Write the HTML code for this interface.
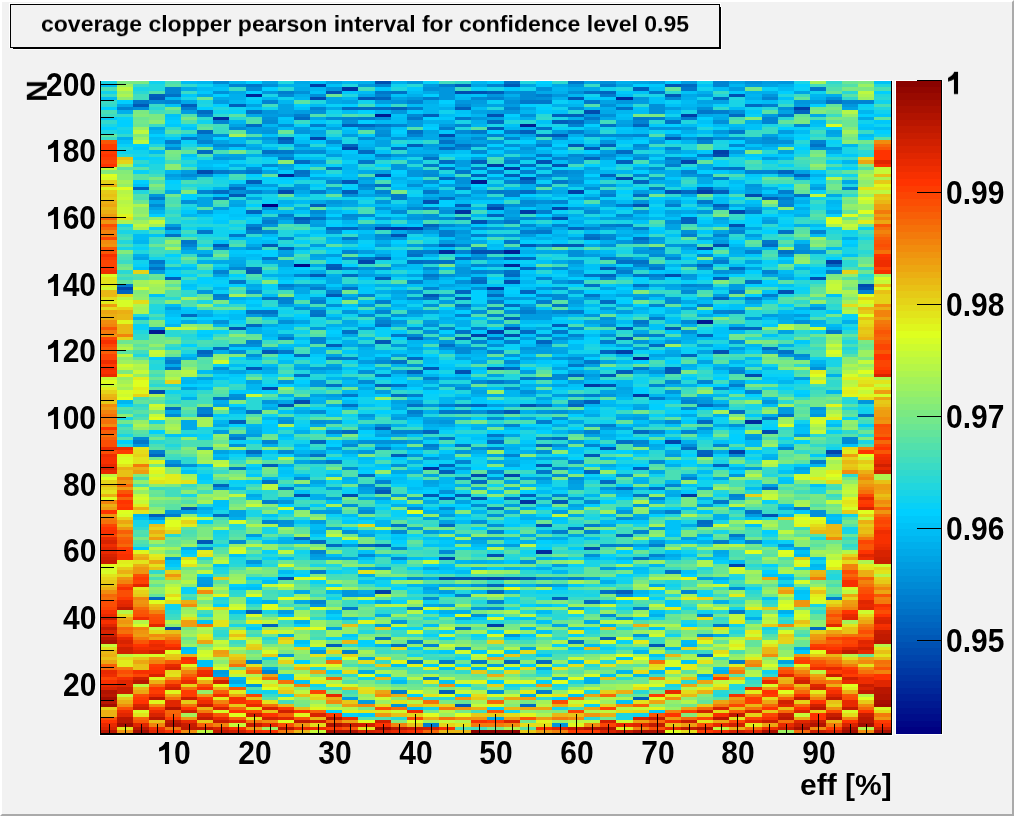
<!DOCTYPE html>
<html><head><meta charset="utf-8">
<style>
html,body{margin:0;padding:0;}
body{-webkit-font-smoothing:antialiased;width:1014px;height:816px;overflow:hidden;position:relative;background:#f2f2f2;font-family:"Liberation Sans",sans-serif;font-weight:bold;color:#000;}
#frame{position:absolute;left:0;top:0;width:1014px;height:816px;box-sizing:border-box;border-top:2px solid #fff;border-left:2px solid #fff;border-right:2px solid #aaa;border-bottom:2px solid #aaa;}
svg{position:absolute;left:0;top:0;}
.yl,.xl,.zl,#title,#xtitle,#ntitle{will-change:transform;text-shadow:0 0 1px #fff,0 0 1px #fff;}
.yl,.xl,.zl{position:absolute;height:30px;line-height:30px;font-size:30px;white-space:nowrap;transform:scaleY(1.085);transform-origin:50% 14.25px;}
.yl{right:918px;}
.xl{top:738px;width:100px;text-align:center;}
.zl{left:946px;}
.one{display:inline-block;position:relative;width:16.68px;height:1px;}
.one svg{position:absolute;left:0;top:auto;bottom:0;overflow:visible;}
#title{position:absolute;left:41px;top:6px;font-size:23px;line-height:38px;white-space:nowrap;transform:scaleY(0.92);transform-origin:0 9px;}
#ntitle{position:absolute;left:25.5px;top:75.8px;font-size:30px;line-height:30px;transform:rotate(-90deg);transform-origin:50% 50%;}
#xtitle{position:absolute;right:122px;top:770px;font-size:30px;line-height:30px;white-space:nowrap;}
</style></head><body>
<div id="frame"></div>
<svg width="1014" height="816" viewBox="0 0 1014 816" shape-rendering="crispEdges">
<path d="M9 3h712v46h-1v-45h-710v44h-1z M11 5h708v1h-707v41h-1z M13 49h709v1h-709z M721 7h1v43h-1z" fill="#fff"/>
<rect x="10.5" y="4.5" width="709" height="43" fill="#f2f2f2" stroke="#000" stroke-width="1"/>
<path d="M720 7h1v42h-708v-1h707z" fill="#000"/>
<path fill="#19d4e6" d="M101 81h16v3h-16zM101 124h16v3h-16zM117 127h16v3h-16zM117 224h16v3h-16zM117 230h16v4h-16zM117 247h16v3h-16zM117 417h16v3h-16zM117 434h16v3h-16zM133 87h16v4h-16zM133 154h16v3h-16zM133 230h16v4h-16zM133 244h16v3h-16zM133 520h16v7h-16zM149 310h16v4h-16zM149 420h16v4h-16zM165 567h16v3h-16zM181 97h16v3h-16zM181 144h16v3h-16zM181 220h16v4h-16zM181 234h16v3h-16zM181 317h16v3h-16zM181 390h16v4h-16zM181 494h16v3h-16zM197 100h16v4h-16zM197 194h16v3h-16zM197 217h16v3h-16zM197 234h16v3h-16zM197 244h16v3h-16zM197 270h16v4h-16zM197 300h16v4h-16zM197 347h16v3h-16zM197 427h16v3h-16zM197 470h16v4h-16zM213 180h16v4h-16zM213 384h16v3h-16zM213 417h16v3h-16zM213 427h16v3h-16zM213 510h16v4h-16zM213 534h16v3h-16zM213 567h16v3h-16zM213 597h16v3h-16zM229 167h17v3h-17zM229 277h17v3h-17zM229 367h17v3h-17zM229 417h17v3h-17zM229 457h17v3h-17zM229 557h17v3h-17zM229 624h17v3h-17zM246 157h16v7h-16zM246 280h16v4h-16zM246 360h16v4h-16zM246 470h16v4h-16zM246 490h16v4h-16zM246 510h16v7h-16zM246 624h16v3h-16zM246 690h16v4h-16zM262 94h16v3h-16zM262 194h16v3h-16zM262 270h16v4h-16zM262 277h16v3h-16zM262 380h16v4h-16zM262 454h16v3h-16zM262 517h16v3h-16zM262 527h16v7h-16zM262 610h16v4h-16zM278 244h16v3h-16zM278 307h16v3h-16zM278 330h16v4h-16zM278 374h16v3h-16zM278 397h16v3h-16zM278 440h16v4h-16zM278 477h16v3h-16zM278 694h16v3h-16zM294 260h16v4h-16zM294 497h16v3h-16zM310 180h16v4h-16zM310 194h16v6h-16zM310 227h16v3h-16zM310 267h16v3h-16zM310 320h16v4h-16zM310 430h16v4h-16zM310 537h16v3h-16zM310 564h16v3h-16zM326 157h16v3h-16zM326 197h16v3h-16zM326 234h16v3h-16zM326 427h16v3h-16zM326 537h16v3h-16zM342 140h16v4h-16zM342 327h16v3h-16zM342 337h16v3h-16zM342 570h16v4h-16zM358 167h17v3h-17zM358 200h17v4h-17zM358 280h17v4h-17zM358 447h17v3h-17zM358 464h17v3h-17zM358 617h17v3h-17zM375 147h16v3h-16zM375 260h16v4h-16zM375 294h16v3h-16zM375 414h16v3h-16zM375 534h16v3h-16zM391 200h16v4h-16zM391 517h16v3h-16zM391 554h16v3h-16zM391 584h16v3h-16zM407 140h16v4h-16zM407 157h16v3h-16zM407 234h16v3h-16zM407 477h16v3h-16zM407 654h16v3h-16zM423 237h16v3h-16zM423 300h16v4h-16zM423 317h16v3h-16zM423 327h16v3h-16zM423 617h16v3h-16zM423 707h16v3h-16zM439 214h16v3h-16zM439 370h16v4h-16zM439 394h16v3h-16zM439 547h16v3h-16zM455 120h16v4h-16zM455 620h16v4h-16zM471 164h16v3h-16zM471 517h16v3h-16zM471 637h16v3h-16zM487 87h17v4h-17zM487 124h17v3h-17zM487 180h17v4h-17zM487 217h17v3h-17zM487 224h17v3h-17zM487 267h17v3h-17zM487 280h17v4h-17zM487 364h17v3h-17zM487 520h17v4h-17zM487 614h17v3h-17zM504 254h16v3h-16zM504 337h16v3h-16zM504 397h16v3h-16zM504 600h16v4h-16zM504 607h16v3h-16zM504 710h16v3h-16zM520 497h16v3h-16zM520 524h16v3h-16zM520 554h16v3h-16zM520 590h16v4h-16zM536 164h16v3h-16zM536 280h16v4h-16zM536 454h16v3h-16zM536 570h16v4h-16zM536 597h16v3h-16zM536 670h16v4h-16zM552 117h16v3h-16zM552 124h16v3h-16zM552 254h16v3h-16zM552 290h16v4h-16zM552 480h16v7h-16zM552 507h16v3h-16zM552 664h16v3h-16zM552 684h16v3h-16zM552 707h16v3h-16zM568 210h16v4h-16zM568 230h16v4h-16zM568 257h16v3h-16zM568 537h16v7h-16zM568 590h16v4h-16zM568 614h16v3h-16zM568 680h16v4h-16zM584 257h16v3h-16zM584 344h16v3h-16zM584 420h16v4h-16zM584 517h16v3h-16zM584 560h16v7h-16zM584 594h16v3h-16zM584 607h16v3h-16zM584 690h16v4h-16zM600 127h16v3h-16zM600 230h16v4h-16zM600 270h16v4h-16zM600 354h16v3h-16zM600 407h16v3h-16zM600 474h16v3h-16zM616 164h17v3h-17zM616 180h17v4h-17zM616 220h17v4h-17zM616 250h17v4h-17zM616 400h17v4h-17zM616 460h17v4h-17zM616 470h17v4h-17zM616 577h17v3h-17zM616 713h17v7h-17zM633 460h16v4h-16zM633 524h16v3h-16zM633 574h16v3h-16zM649 94h16v3h-16zM649 150h16v4h-16zM649 337h16v3h-16zM649 617h16v3h-16zM649 657h16v3h-16zM665 230h16v4h-16zM665 237h16v3h-16zM665 260h16v4h-16zM665 280h16v4h-16zM665 314h16v3h-16zM665 364h16v3h-16zM665 610h16v4h-16zM665 684h16v3h-16zM681 110h16v4h-16zM681 487h16v3h-16zM681 520h16v4h-16zM681 607h16v3h-16zM681 620h16v4h-16zM697 134h16v3h-16zM697 280h16v4h-16zM697 327h16v3h-16zM697 354h16v3h-16zM713 140h16v4h-16zM713 147h16v3h-16zM713 460h16v4h-16zM713 480h16v4h-16zM713 504h16v3h-16zM713 520h16v4h-16zM713 530h16v4h-16zM729 100h16v7h-16zM729 164h16v3h-16zM729 260h16v4h-16zM729 397h16v3h-16zM729 577h16v3h-16zM745 180h17v4h-17zM745 274h17v3h-17zM745 360h17v4h-17zM745 397h17v3h-17zM745 404h17v6h-17zM745 480h17v4h-17zM745 610h17v7h-17zM745 677h17v3h-17zM762 124h16v3h-16zM762 184h16v3h-16zM762 387h16v3h-16zM762 450h16v4h-16zM762 517h16v3h-16zM762 544h16v3h-16zM778 100h16v4h-16zM778 187h16v3h-16zM778 227h16v3h-16zM778 384h16v3h-16zM778 580h16v4h-16zM794 81h16v3h-16zM794 274h16v3h-16zM794 284h16v3h-16zM794 587h16v3h-16zM810 127h16v3h-16zM810 310h16v7h-16zM810 487h16v3h-16zM810 537h16v3h-16zM810 604h16v3h-16zM826 197h16v3h-16zM826 360h16v7h-16zM842 147h16v7h-16zM842 234h16v3h-16zM842 247h16v7h-16zM842 530h16v4h-16zM858 237h16v3h-16zM858 440h16v4h-16z"/><path fill="#00bcf4" d="M101 84h16v3h-16zM101 97h16v3h-16zM133 234h16v6h-16zM149 137h16v3h-16zM149 150h16v4h-16zM165 304h16v3h-16zM165 310h16v4h-16zM181 81h16v3h-16zM181 267h16v3h-16zM181 354h16v3h-16zM181 377h16v3h-16zM181 647h16v3h-16zM197 87h16v4h-16zM197 160h16v4h-16zM197 320h16v4h-16zM197 370h16v4h-16zM197 387h16v3h-16zM197 464h16v3h-16zM213 160h16v4h-16zM213 167h16v3h-16zM213 267h16v3h-16zM213 454h16v3h-16zM229 237h17v3h-17zM229 314h17v6h-17zM229 364h17v3h-17zM229 610h17v4h-17zM246 214h16v3h-16zM246 254h16v3h-16zM246 297h16v3h-16zM246 564h16v3h-16zM246 587h16v3h-16zM262 147h16v3h-16zM262 210h16v4h-16zM262 234h16v3h-16zM262 240h16v4h-16zM262 294h16v3h-16zM262 330h16v4h-16zM262 364h16v3h-16zM262 540h16v4h-16zM262 580h16v4h-16zM278 127h16v3h-16zM278 204h16v3h-16zM278 267h16v3h-16zM278 324h16v6h-16zM278 360h16v4h-16zM278 434h16v3h-16zM278 557h16v3h-16zM278 570h16v4h-16zM278 614h16v3h-16zM278 674h16v6h-16zM294 140h16v4h-16zM294 157h16v3h-16zM294 194h16v3h-16zM294 200h16v4h-16zM294 337h16v3h-16zM294 344h16v3h-16zM294 474h16v3h-16zM310 104h16v3h-16zM310 157h16v3h-16zM310 164h16v3h-16zM310 277h16v3h-16zM310 524h16v6h-16zM326 124h16v3h-16zM326 137h16v3h-16zM326 240h16v4h-16zM326 434h16v3h-16zM326 554h16v3h-16zM342 110h16v4h-16zM342 130h16v4h-16zM342 154h16v6h-16zM342 170h16v4h-16zM342 177h16v3h-16zM342 380h16v4h-16zM342 400h16v4h-16zM342 514h16v3h-16zM358 91h17v3h-17zM358 140h17v4h-17zM358 157h17v3h-17zM358 204h17v3h-17zM358 300h17v4h-17zM358 310h17v4h-17zM358 384h17v3h-17zM358 457h17v3h-17zM358 517h17v3h-17zM375 120h16v4h-16zM375 204h16v3h-16zM375 210h16v4h-16zM375 477h16v3h-16zM375 577h16v3h-16zM391 117h16v7h-16zM391 157h16v3h-16zM391 180h16v4h-16zM391 187h16v3h-16zM391 204h16v3h-16zM391 257h16v3h-16zM391 267h16v3h-16zM391 374h16v3h-16zM391 387h16v3h-16zM391 477h16v3h-16zM391 664h16v3h-16zM391 680h16v4h-16zM407 91h16v3h-16zM407 104h16v3h-16zM407 187h16v3h-16zM407 264h16v6h-16zM407 300h16v4h-16zM407 344h16v3h-16zM407 380h16v4h-16zM407 417h16v3h-16zM407 487h16v3h-16zM407 504h16v3h-16zM407 514h16v3h-16zM407 557h16v3h-16zM407 707h16v3h-16zM423 234h16v3h-16zM423 284h16v3h-16zM423 347h16v3h-16zM423 360h16v4h-16zM423 624h16v3h-16zM439 114h16v3h-16zM439 267h16v3h-16zM439 350h16v4h-16zM439 487h16v3h-16zM439 537h16v3h-16zM439 567h16v3h-16zM439 667h16v3h-16zM455 94h16v3h-16zM455 200h16v4h-16zM455 260h16v4h-16zM455 287h16v3h-16zM455 354h16v3h-16zM455 374h16v3h-16zM455 520h16v4h-16zM455 570h16v4h-16zM471 107h16v3h-16zM471 187h16v3h-16zM471 274h16v3h-16zM471 284h16v3h-16zM471 357h16v3h-16zM471 367h16v3h-16zM471 544h16v3h-16zM487 244h17v3h-17zM487 260h17v4h-17zM487 340h17v4h-17zM487 387h17v3h-17zM487 490h17v4h-17zM504 177h16v3h-16zM504 187h16v3h-16zM504 427h16v3h-16zM504 450h16v4h-16zM504 457h16v3h-16zM520 154h16v3h-16zM520 237h16v3h-16zM520 247h16v3h-16zM520 274h16v3h-16zM520 287h16v3h-16zM520 320h16v4h-16zM520 344h16v3h-16zM520 360h16v4h-16zM520 387h16v3h-16zM520 567h16v3h-16zM536 197h16v3h-16zM536 297h16v3h-16zM536 320h16v4h-16zM536 400h16v4h-16zM536 490h16v4h-16zM536 610h16v4h-16zM552 160h16v4h-16zM552 230h16v4h-16zM552 237h16v3h-16zM552 277h16v3h-16zM552 487h16v3h-16zM568 140h16v4h-16zM568 217h16v3h-16zM568 224h16v3h-16zM568 307h16v3h-16zM568 344h16v6h-16zM568 660h16v4h-16zM584 204h16v3h-16zM584 230h16v4h-16zM584 304h16v3h-16zM584 334h16v3h-16zM584 380h16v4h-16zM584 410h16v4h-16zM584 477h16v3h-16zM584 537h16v3h-16zM584 644h16v3h-16zM600 250h16v4h-16zM600 297h16v3h-16zM600 400h16v4h-16zM600 430h16v4h-16zM600 444h16v3h-16zM600 467h16v3h-16zM600 514h16v3h-16zM600 520h16v4h-16zM616 94h17v3h-17zM616 117h17v3h-17zM616 184h17v3h-17zM616 200h17v4h-17zM616 284h17v3h-17zM616 320h17v4h-17zM616 360h17v4h-17zM616 397h17v3h-17zM616 404h17v3h-17zM633 110h16v4h-16zM633 130h16v4h-16zM633 214h16v3h-16zM633 310h16v4h-16zM633 450h16v4h-16zM633 567h16v3h-16zM649 87h16v4h-16zM649 147h16v3h-16zM649 374h16v3h-16zM649 434h16v3h-16zM649 670h16v4h-16zM665 110h16v4h-16zM665 307h16v3h-16zM665 320h16v4h-16zM665 347h16v3h-16zM665 394h16v3h-16zM665 414h16v3h-16zM665 540h16v4h-16zM681 100h16v4h-16zM681 124h16v3h-16zM681 250h16v4h-16zM681 507h16v3h-16zM681 540h16v4h-16zM681 640h16v4h-16zM697 130h16v4h-16zM697 157h16v3h-16zM697 300h16v4h-16zM697 337h16v3h-16zM697 470h16v4h-16zM713 87h16v4h-16zM713 124h16v3h-16zM713 197h16v7h-16zM713 274h16v3h-16zM713 287h16v3h-16zM713 337h16v3h-16zM713 407h16v3h-16zM713 667h16v3h-16zM729 107h16v3h-16zM729 124h16v3h-16zM729 154h16v3h-16zM729 180h16v4h-16zM729 244h16v3h-16zM729 264h16v3h-16zM729 330h16v4h-16zM729 427h16v3h-16zM729 540h16v4h-16zM729 560h16v4h-16zM745 304h17v3h-17zM745 357h17v3h-17zM745 364h17v3h-17zM745 370h17v4h-17zM745 440h17v7h-17zM745 487h17v3h-17zM762 100h16v4h-16zM762 147h16v3h-16zM762 207h16v3h-16zM762 317h16v3h-16zM762 404h16v3h-16zM778 87h16v4h-16zM778 260h16v4h-16zM778 270h16v4h-16zM778 310h16v4h-16zM778 504h16v3h-16zM778 547h16v3h-16zM778 584h16v3h-16zM794 130h16v4h-16zM794 197h16v3h-16zM794 210h16v4h-16zM794 317h16v3h-16zM794 424h16v3h-16zM810 120h16v4h-16zM810 224h16v3h-16zM810 234h16v3h-16zM810 557h16v3h-16zM810 567h16v3h-16zM826 204h16v3h-16zM826 247h16v3h-16zM826 267h16v3h-16zM826 324h16v3h-16zM826 424h16v3h-16zM826 514h16v3h-16zM858 134h16v3h-16zM874 127h17v3h-17z"/><path fill="#4adfb4" d="M101 87h16v4h-16zM101 110h16v4h-16zM117 237h16v3h-16zM117 244h16v3h-16zM117 257h16v3h-16zM133 197h16v3h-16zM133 277h16v3h-16zM133 397h16v3h-16zM133 434h16v3h-16zM133 477h16v3h-16zM133 484h16v3h-16zM133 534h16v3h-16zM149 230h16v4h-16zM149 300h16v4h-16zM149 314h16v3h-16zM149 444h16v3h-16zM149 577h16v3h-16zM165 81h16v3h-16zM165 197h16v7h-16zM181 180h16v4h-16zM181 260h16v4h-16zM181 300h16v4h-16zM181 440h16v7h-16zM181 530h16v4h-16zM197 340h16v4h-16zM197 394h16v3h-16zM197 440h16v7h-16zM213 150h16v4h-16zM213 250h16v4h-16zM213 394h16v3h-16zM213 574h16v3h-16zM229 174h17v3h-17zM229 270h17v4h-17zM229 530h17v4h-17zM246 117h16v3h-16zM246 507h16v3h-16zM262 594h16v6h-16zM278 364h16v3h-16zM278 370h16v4h-16zM278 480h16v4h-16zM278 554h16v3h-16zM278 624h16v3h-16zM294 254h16v3h-16zM294 347h16v3h-16zM310 260h16v4h-16zM310 304h16v3h-16zM310 437h16v3h-16zM310 587h16v3h-16zM310 610h16v4h-16zM310 630h16v4h-16zM326 360h16v4h-16zM326 577h16v3h-16zM342 437h16v3h-16zM342 574h16v6h-16zM342 664h16v3h-16zM358 207h17v7h-17zM358 220h17v4h-17zM358 477h17v3h-17zM358 627h17v3h-17zM375 180h16v4h-16zM375 304h16v3h-16zM375 364h16v3h-16zM375 450h16v4h-16zM375 460h16v4h-16zM375 484h16v3h-16zM375 647h16v3h-16zM375 667h16v3h-16zM375 680h16v4h-16zM391 357h16v3h-16zM391 487h16v3h-16zM391 567h16v7h-16zM391 617h16v3h-16zM407 360h16v4h-16zM407 544h16v3h-16zM407 554h16v3h-16zM407 564h16v3h-16zM407 614h16v3h-16zM407 620h16v4h-16zM407 670h16v4h-16zM423 220h16v4h-16zM423 307h16v3h-16zM423 344h16v3h-16zM423 547h16v3h-16zM423 574h16v3h-16zM439 270h16v4h-16zM439 440h16v4h-16zM439 474h16v3h-16zM455 480h16v4h-16zM455 727h16v3h-16zM471 374h16v3h-16zM471 444h16v3h-16zM471 530h16v4h-16zM471 557h16v3h-16zM471 574h16v3h-16zM471 597h16v3h-16zM471 687h16v3h-16zM487 157h17v3h-17zM487 237h17v3h-17zM487 324h17v3h-17zM487 504h17v3h-17zM487 647h17v3h-17zM504 477h16v3h-16zM504 514h16v3h-16zM504 527h16v3h-16zM504 657h16v3h-16zM520 407h16v3h-16zM520 420h16v4h-16zM520 597h16v3h-16zM520 674h16v3h-16zM536 380h16v4h-16zM536 637h16v3h-16zM552 547h16v3h-16zM552 634h16v3h-16zM552 654h16v3h-16zM568 324h16v3h-16zM568 490h16v4h-16zM568 617h16v3h-16zM584 437h16v3h-16zM600 507h16v3h-16zM616 540h17v4h-17zM633 160h16v4h-16zM633 317h16v3h-16zM633 534h16v3h-16zM649 360h16v4h-16zM649 517h16v3h-16zM649 600h16v4h-16zM665 470h16v10h-16zM665 487h16v3h-16zM665 504h16v3h-16zM665 537h16v3h-16zM681 314h16v3h-16zM681 580h16v7h-16zM681 610h16v4h-16zM697 290h16v4h-16zM713 397h16v3h-16zM713 430h16v4h-16zM729 117h16v3h-16zM729 174h16v3h-16zM729 194h16v3h-16zM729 277h16v3h-16zM729 354h16v3h-16zM729 420h16v4h-16zM729 480h16v7h-16zM729 550h16v7h-16zM729 580h16v4h-16zM729 650h16v4h-16zM745 197h17v3h-17zM745 287h17v3h-17zM745 387h17v3h-17zM745 507h17v3h-17zM745 530h17v4h-17zM745 597h17v3h-17zM745 684h17v3h-17zM762 180h16v4h-16zM762 287h16v3h-16zM762 304h16v6h-16zM762 344h16v3h-16zM762 504h16v3h-16zM778 180h16v4h-16zM778 234h16v3h-16zM778 434h16v3h-16zM778 474h16v3h-16zM778 487h16v3h-16zM778 557h16v3h-16zM794 237h16v3h-16zM794 370h16v4h-16zM794 404h16v3h-16zM794 484h16v3h-16zM794 577h16v3h-16zM810 117h16v3h-16zM810 217h16v3h-16zM810 284h16v3h-16zM810 350h16v7h-16zM810 384h16v3h-16zM810 394h16v3h-16zM810 450h16v4h-16zM810 457h16v3h-16zM826 367h16v3h-16zM826 427h16v3h-16zM826 434h16v3h-16zM826 484h16v3h-16zM826 497h16v3h-16zM826 584h16v3h-16zM826 594h16v3h-16zM842 177h16v3h-16zM842 267h16v3h-16zM842 344h16v3h-16zM858 147h16v3h-16zM858 230h16v4h-16zM858 444h16v3h-16zM874 87h17v4h-17zM874 104h17v3h-17z"/><path fill="#10d2ee" d="M101 91h16v3h-16zM117 130h16v4h-16zM117 150h16v4h-16zM133 150h16v4h-16zM133 164h16v3h-16zM133 260h16v4h-16zM149 81h16v3h-16zM149 160h16v4h-16zM149 257h16v3h-16zM165 260h16v4h-16zM165 390h16v4h-16zM165 604h16v6h-16zM181 164h16v3h-16zM181 207h16v3h-16zM181 227h16v3h-16zM181 280h16v4h-16zM181 394h16v3h-16zM181 467h16v3h-16zM197 84h16v3h-16zM197 120h16v4h-16zM197 187h16v3h-16zM197 220h16v4h-16zM197 284h16v3h-16zM197 337h16v3h-16zM197 437h16v3h-16zM213 110h16v4h-16zM213 177h16v3h-16zM213 227h16v10h-16zM213 264h16v3h-16zM213 310h16v4h-16zM213 530h16v4h-16zM213 544h16v3h-16zM229 107h17v3h-17zM229 224h17v3h-17zM229 414h17v3h-17zM229 484h17v3h-17zM246 177h16v3h-16zM246 194h16v3h-16zM246 217h16v3h-16zM246 364h16v3h-16zM262 107h16v3h-16zM262 144h16v3h-16zM262 160h16v4h-16zM262 197h16v3h-16zM262 317h16v3h-16zM262 414h16v3h-16zM262 457h16v3h-16zM262 657h16v3h-16zM262 690h16v4h-16zM278 97h16v3h-16zM278 144h16v3h-16zM278 310h16v4h-16zM278 574h16v3h-16zM294 167h16v3h-16zM294 230h16v4h-16zM294 250h16v4h-16zM294 330h16v4h-16zM294 357h16v3h-16zM294 377h16v3h-16zM294 414h16v3h-16zM294 420h16v4h-16zM294 440h16v4h-16zM294 550h16v4h-16zM294 570h16v4h-16zM310 154h16v3h-16zM310 187h16v3h-16zM310 247h16v3h-16zM310 280h16v4h-16zM310 684h16v3h-16zM326 110h16v4h-16zM326 120h16v4h-16zM326 207h16v3h-16zM326 300h16v4h-16zM326 340h16v4h-16zM326 374h16v3h-16zM326 470h16v4h-16zM326 480h16v4h-16zM326 584h16v3h-16zM326 597h16v3h-16zM342 197h16v3h-16zM342 270h16v4h-16zM342 314h16v3h-16zM342 360h16v4h-16zM342 370h16v4h-16zM342 414h16v3h-16zM342 487h16v3h-16zM342 567h16v3h-16zM342 637h16v3h-16zM358 100h17v4h-17zM358 320h17v4h-17zM358 397h17v7h-17zM358 410h17v4h-17zM358 434h17v3h-17zM358 560h17v4h-17zM358 677h17v3h-17zM375 220h16v4h-16zM375 270h16v4h-16zM375 370h16v4h-16zM375 457h16v3h-16zM375 474h16v3h-16zM375 517h16v3h-16zM375 537h16v3h-16zM375 580h16v4h-16zM391 84h16v3h-16zM391 260h16v4h-16zM391 277h16v3h-16zM391 460h16v4h-16zM391 544h16v3h-16zM391 677h16v3h-16zM407 190h16v4h-16zM407 257h16v3h-16zM407 304h16v3h-16zM407 317h16v3h-16zM407 324h16v3h-16zM407 424h16v3h-16zM407 590h16v4h-16zM423 240h16v4h-16zM423 314h16v3h-16zM423 384h16v3h-16zM423 460h16v4h-16zM423 497h16v3h-16zM423 540h16v4h-16zM423 600h16v4h-16zM423 650h16v4h-16zM439 110h16v4h-16zM455 190h16v4h-16zM455 437h16v3h-16zM455 464h16v3h-16zM455 490h16v4h-16zM455 657h16v3h-16zM471 177h16v3h-16zM471 460h16v4h-16zM471 500h16v4h-16zM487 347h17v3h-17zM487 444h17v3h-17zM487 484h17v3h-17zM487 497h17v3h-17zM504 140h16v4h-16zM504 164h16v3h-16zM504 170h16v4h-16zM504 267h16v3h-16zM504 307h16v3h-16zM504 400h16v4h-16zM504 597h16v3h-16zM504 684h16v3h-16zM520 87h16v4h-16zM520 160h16v4h-16zM520 220h16v4h-16zM520 400h16v4h-16zM520 434h16v6h-16zM520 474h16v3h-16zM520 550h16v4h-16zM536 124h16v3h-16zM536 170h16v4h-16zM536 194h16v3h-16zM536 257h16v3h-16zM536 324h16v3h-16zM536 364h16v3h-16zM536 417h16v3h-16zM536 460h16v4h-16zM536 487h16v3h-16zM536 544h16v3h-16zM552 107h16v3h-16zM552 284h16v3h-16zM552 390h16v4h-16zM552 397h16v3h-16zM552 590h16v4h-16zM568 150h16v4h-16zM568 187h16v3h-16zM568 294h16v3h-16zM568 330h16v4h-16zM568 350h16v4h-16zM568 454h16v3h-16zM568 557h16v3h-16zM584 94h16v3h-16zM584 140h16v4h-16zM584 220h16v4h-16zM584 307h16v3h-16zM584 350h16v4h-16zM600 87h16v4h-16zM600 207h16v3h-16zM600 347h16v3h-16zM600 410h16v7h-16zM600 420h16v4h-16zM600 450h16v4h-16zM600 530h16v4h-16zM600 577h16v3h-16zM616 144h17v3h-17zM616 194h17v3h-17zM616 210h17v4h-17zM616 324h17v3h-17zM616 367h17v3h-17zM616 430h17v4h-17zM616 580h17v4h-17zM616 607h17v3h-17zM633 377h16v7h-16zM633 713h16v4h-16zM649 130h16v4h-16zM649 204h16v3h-16zM649 287h16v3h-16zM649 474h16v3h-16zM649 484h16v3h-16zM649 490h16v4h-16zM649 507h16v3h-16zM649 537h16v3h-16zM665 114h16v3h-16zM665 154h16v3h-16zM665 207h16v3h-16zM665 357h16v3h-16zM665 407h16v3h-16zM665 497h16v3h-16zM665 584h16v3h-16zM665 634h16v3h-16zM681 374h16v3h-16zM681 450h16v4h-16zM681 550h16v4h-16zM697 81h16v3h-16zM697 87h16v4h-16zM697 97h16v3h-16zM697 270h16v4h-16zM697 330h16v4h-16zM697 347h16v3h-16zM697 437h16v3h-16zM697 480h16v7h-16zM697 500h16v4h-16zM697 590h16v4h-16zM697 610h16v4h-16zM713 180h16v7h-16zM713 194h16v3h-16zM713 254h16v3h-16zM713 264h16v3h-16zM713 290h16v4h-16zM713 324h16v3h-16zM713 374h16v3h-16zM713 420h16v4h-16zM713 427h16v3h-16zM713 467h16v3h-16zM713 494h16v3h-16zM729 447h16v3h-16zM729 607h16v3h-16zM729 624h16v3h-16zM745 107h17v3h-17zM745 230h17v4h-17zM745 350h17v4h-17zM762 160h16v4h-16zM762 174h16v3h-16zM762 227h16v3h-16zM762 264h16v3h-16zM762 300h16v4h-16zM762 320h16v4h-16zM762 364h16v3h-16zM762 370h16v4h-16zM762 420h16v4h-16zM762 447h16v3h-16zM762 534h16v3h-16zM762 627h16v3h-16zM762 670h16v4h-16zM778 217h16v3h-16zM778 287h16v3h-16zM778 370h16v4h-16zM778 437h16v3h-16zM778 464h16v6h-16zM794 144h16v3h-16zM794 150h16v4h-16zM794 264h16v3h-16zM794 290h16v4h-16zM794 420h16v4h-16zM810 91h16v3h-16zM810 197h16v3h-16zM810 330h16v4h-16zM810 357h16v3h-16zM810 560h16v4h-16zM826 144h16v3h-16zM826 167h16v3h-16zM826 227h16v3h-16zM826 357h16v3h-16zM826 447h16v3h-16zM842 174h16v3h-16zM842 230h16v4h-16zM842 514h16v3h-16zM842 527h16v3h-16zM858 107h16v3h-16zM858 120h16v4h-16zM858 407h16v7h-16zM874 100h17v4h-17zM874 110h17v4h-17zM874 124h17v3h-17zM874 134h17v3h-17z"/><path fill="#3adbc5" d="M101 94h16v3h-16zM101 100h16v4h-16zM101 114h16v3h-16zM101 137h16v3h-16zM117 227h16v3h-16zM117 234h16v3h-16zM117 260h16v4h-16zM117 277h16v3h-16zM133 84h16v3h-16zM133 414h16v3h-16zM149 104h16v3h-16zM149 124h16v3h-16zM149 240h16v4h-16zM149 247h16v3h-16zM149 297h16v3h-16zM149 487h16v3h-16zM165 127h16v3h-16zM165 207h16v3h-16zM165 250h16v4h-16zM165 344h16v3h-16zM165 397h16v3h-16zM165 440h16v4h-16zM165 447h16v3h-16zM165 457h16v3h-16zM165 614h16v3h-16zM181 91h16v3h-16zM181 147h16v3h-16zM181 217h16v3h-16zM181 254h16v3h-16zM181 330h16v4h-16zM181 340h16v4h-16zM181 347h16v3h-16zM181 414h16v3h-16zM181 484h16v3h-16zM181 597h16v3h-16zM197 180h16v4h-16zM197 240h16v4h-16zM213 127h16v7h-16zM213 257h16v3h-16zM213 334h16v3h-16zM213 344h16v3h-16zM213 470h16v4h-16zM213 540h16v4h-16zM229 87h17v4h-17zM229 240h17v4h-17zM229 384h17v3h-17zM229 460h17v4h-17zM229 640h17v4h-17zM246 444h16v6h-16zM246 484h16v3h-16zM246 634h16v3h-16zM262 320h16v4h-16zM262 340h16v4h-16zM262 397h16v3h-16zM262 694h16v3h-16zM278 534h16v3h-16zM278 620h16v4h-16zM294 120h16v4h-16zM294 224h16v3h-16zM294 244h16v3h-16zM294 360h16v4h-16zM294 464h16v3h-16zM294 487h16v3h-16zM310 250h16v4h-16zM310 444h16v3h-16zM310 477h16v3h-16zM310 594h16v3h-16zM326 130h16v4h-16zM326 320h16v4h-16zM326 380h16v4h-16zM326 454h16v3h-16zM326 494h16v3h-16zM326 547h16v3h-16zM342 234h16v3h-16zM342 364h16v3h-16zM342 374h16v3h-16zM342 600h16v7h-16zM342 620h16v4h-16zM358 264h17v3h-17zM358 624h17v3h-17zM358 664h17v3h-17zM375 230h16v4h-16zM375 420h16v4h-16zM375 607h16v3h-16zM375 650h16v4h-16zM391 104h16v3h-16zM391 220h16v4h-16zM391 367h16v3h-16zM391 427h16v3h-16zM391 450h16v4h-16zM391 564h16v3h-16zM391 610h16v4h-16zM391 630h16v4h-16zM407 210h16v4h-16zM407 247h16v3h-16zM407 330h16v4h-16zM407 427h16v3h-16zM407 437h16v3h-16zM407 570h16v4h-16zM407 594h16v3h-16zM407 650h16v4h-16zM423 167h16v3h-16zM423 407h16v3h-16zM423 434h16v3h-16zM423 520h16v4h-16zM423 550h16v4h-16zM423 594h16v3h-16zM423 657h16v3h-16zM439 290h16v4h-16zM439 387h16v3h-16zM439 447h16v3h-16zM439 500h16v4h-16zM439 554h16v3h-16zM455 87h16v4h-16zM455 220h16v4h-16zM455 407h16v3h-16zM455 527h16v3h-16zM471 344h16v3h-16zM487 137h17v3h-17zM487 160h17v4h-17zM487 187h17v3h-17zM487 254h17v3h-17zM487 510h17v4h-17zM487 670h17v4h-17zM504 200h16v4h-16zM504 437h16v3h-16zM504 620h16v4h-16zM520 214h16v3h-16zM520 364h16v3h-16zM520 470h16v4h-16zM520 574h16v3h-16zM520 600h16v4h-16zM520 657h16v3h-16zM536 247h16v3h-16zM536 367h16v3h-16zM536 440h16v4h-16zM536 500h16v4h-16zM552 184h16v3h-16zM552 460h16v4h-16zM552 524h16v3h-16zM568 597h16v3h-16zM584 84h16v3h-16zM584 160h16v4h-16zM584 367h16v3h-16zM584 510h16v4h-16zM584 550h16v4h-16zM584 634h16v3h-16zM600 377h16v3h-16zM600 440h16v4h-16zM600 607h16v3h-16zM616 174h17v3h-17zM616 254h17v3h-17zM616 334h17v3h-17zM616 377h17v3h-17zM616 410h17v4h-17zM616 500h17v4h-17zM616 527h17v3h-17zM616 554h17v3h-17zM616 587h17v3h-17zM616 604h17v3h-17zM616 610h17v4h-17zM633 197h16v3h-16zM633 344h16v3h-16zM633 427h16v3h-16zM649 184h16v3h-16zM649 224h16v3h-16zM649 234h16v3h-16zM649 257h16v3h-16zM649 290h16v4h-16zM649 300h16v4h-16zM649 364h16v3h-16zM649 410h16v4h-16zM649 427h16v3h-16zM649 457h16v3h-16zM649 477h16v3h-16zM649 567h16v3h-16zM649 580h16v4h-16zM649 637h16v7h-16zM665 290h16v4h-16zM665 467h16v3h-16zM665 567h16v3h-16zM681 180h16v4h-16zM681 387h16v3h-16zM681 470h16v4h-16zM681 510h16v4h-16zM681 547h16v3h-16zM681 604h16v3h-16zM697 197h16v3h-16zM697 227h16v3h-16zM697 370h16v4h-16zM697 377h16v3h-16zM697 517h16v3h-16zM697 544h16v3h-16zM697 550h16v4h-16zM697 570h16v4h-16zM697 650h16v4h-16zM713 91h16v3h-16zM713 157h16v3h-16zM713 300h16v4h-16zM713 587h16v3h-16zM713 594h16v3h-16zM729 214h16v3h-16zM729 257h16v3h-16zM729 314h16v3h-16zM729 357h16v3h-16zM729 404h16v3h-16zM745 130h17v7h-17zM745 164h17v3h-17zM745 410h17v4h-17zM745 417h17v3h-17zM745 424h17v3h-17zM745 527h17v3h-17zM745 557h17v3h-17zM745 567h17v3h-17zM745 584h17v3h-17zM745 594h17v3h-17zM745 680h17v4h-17zM762 127h16v7h-16zM762 257h16v3h-16zM762 510h16v4h-16zM762 537h16v3h-16zM762 604h16v3h-16zM778 104h16v3h-16zM778 617h16v3h-16zM794 164h16v3h-16zM794 220h16v4h-16zM794 294h16v3h-16zM794 334h16v3h-16zM794 397h16v3h-16zM794 527h16v3h-16zM810 200h16v4h-16zM810 337h16v3h-16zM810 347h16v3h-16zM826 114h16v3h-16zM826 157h16v3h-16zM826 297h16v3h-16zM826 370h16v4h-16zM826 437h16v3h-16zM826 494h16v3h-16zM842 337h16v3h-16zM842 537h16v3h-16zM858 130h16v4h-16zM858 240h16v4h-16zM858 254h16v3h-16zM858 427h16v3h-16z"/><path fill="#31d9cd" d="M101 104h16v3h-16zM101 120h16v4h-16zM117 114h16v3h-16zM117 134h16v3h-16zM133 160h16v4h-16zM133 334h16v6h-16zM133 404h16v3h-16zM133 527h16v3h-16zM149 154h16v3h-16zM149 254h16v3h-16zM149 570h16v4h-16zM165 220h16v4h-16zM165 394h16v3h-16zM165 437h16v3h-16zM181 84h16v3h-16zM181 290h16v4h-16zM181 460h16v4h-16zM197 117h16v3h-16zM197 177h16v3h-16zM197 390h16v4h-16zM213 114h16v3h-16zM213 480h16v4h-16zM213 630h16v4h-16zM229 220h17v4h-17zM229 304h17v3h-17zM229 387h17v3h-17zM229 594h17v3h-17zM229 617h17v3h-17zM246 150h16v4h-16zM246 207h16v3h-16zM246 234h16v3h-16zM246 350h16v4h-16zM246 604h16v3h-16zM262 214h16v3h-16zM262 304h16v3h-16zM262 494h16v6h-16zM262 560h16v4h-16zM278 147h16v3h-16zM278 367h16v3h-16zM278 430h16v4h-16zM278 547h16v3h-16zM278 590h16v4h-16zM294 257h16v3h-16zM294 334h16v3h-16zM294 437h16v3h-16zM294 504h16v3h-16zM294 607h16v3h-16zM310 404h16v3h-16zM310 464h16v3h-16zM310 584h16v3h-16zM326 484h16v3h-16zM326 490h16v4h-16zM326 687h16v3h-16zM342 207h16v3h-16zM342 277h16v7h-16zM342 547h16v10h-16zM342 674h16v3h-16zM358 164h17v3h-17zM358 407h17v3h-17zM358 494h17v3h-17zM375 167h16v3h-16zM375 344h16v3h-16zM375 407h16v3h-16zM375 660h16v4h-16zM391 150h16v4h-16zM391 390h16v4h-16zM391 420h16v4h-16zM391 634h16v3h-16zM407 287h16v3h-16zM407 634h16v3h-16zM423 140h16v4h-16zM423 290h16v4h-16zM423 450h16v4h-16zM423 524h16v3h-16zM439 157h16v3h-16zM439 324h16v3h-16zM439 657h16v3h-16zM455 81h16v3h-16zM455 247h16v3h-16zM455 474h16v3h-16zM455 670h16v4h-16zM471 320h16v4h-16zM487 194h17v3h-17zM487 580h17v4h-17zM504 184h16v3h-16zM504 384h16v3h-16zM504 500h16v4h-16zM504 547h16v3h-16zM520 414h16v3h-16zM520 547h16v3h-16zM520 654h16v3h-16zM536 117h16v3h-16zM536 510h16v4h-16zM536 674h16v3h-16zM536 697h16v3h-16zM552 81h16v3h-16zM552 464h16v3h-16zM552 534h16v3h-16zM552 550h16v4h-16zM552 610h16v4h-16zM552 650h16v4h-16zM568 317h16v3h-16zM568 520h16v4h-16zM568 544h16v3h-16zM568 550h16v4h-16zM584 540h16v4h-16zM600 147h16v3h-16zM600 180h16v4h-16zM600 517h16v3h-16zM600 540h16v4h-16zM616 364h17v3h-17zM616 647h17v3h-17zM633 104h16v3h-16zM633 224h16v3h-16zM633 270h16v4h-16zM633 327h16v3h-16zM633 354h16v3h-16zM633 397h16v3h-16zM633 434h16v3h-16zM633 470h16v4h-16zM633 554h16v3h-16zM649 320h16v4h-16zM649 347h16v3h-16zM649 417h16v3h-16zM649 454h16v3h-16zM649 594h16v3h-16zM649 687h16v3h-16zM665 194h16v3h-16zM665 250h16v4h-16zM665 434h16v3h-16zM681 557h16v3h-16zM697 410h16v4h-16zM697 444h16v3h-16zM697 467h16v3h-16zM713 107h16v3h-16zM713 617h16v3h-16zM729 217h16v3h-16zM729 234h16v3h-16zM729 300h16v4h-16zM729 510h16v4h-16zM729 584h16v3h-16zM762 224h16v3h-16zM762 237h16v3h-16zM762 310h16v4h-16zM762 467h16v7h-16zM762 674h16v3h-16zM778 160h16v4h-16zM778 167h16v3h-16zM778 244h16v3h-16zM778 307h16v3h-16zM778 347h16v3h-16zM778 427h16v3h-16zM778 664h16v3h-16zM794 217h16v3h-16zM794 300h16v4h-16zM794 347h16v3h-16zM794 364h16v3h-16zM794 450h16v4h-16zM810 387h16v3h-16zM810 444h16v3h-16zM810 610h16v4h-16zM826 81h16v3h-16zM826 137h16v3h-16zM826 234h16v6h-16zM826 307h16v3h-16zM826 320h16v4h-16zM826 380h16v7h-16zM826 570h16v4h-16zM842 97h16v3h-16zM842 157h16v3h-16zM842 350h16v4h-16zM842 430h16v4h-16zM842 544h16v3h-16zM858 234h16v3h-16zM858 267h16v3h-16zM858 277h16v3h-16z"/><path fill="#00cfff" d="M101 107h16v3h-16zM101 127h16v3h-16zM117 100h16v4h-16zM117 120h16v7h-16zM117 440h16v4h-16zM133 144h16v3h-16zM133 157h16v3h-16zM133 180h16v4h-16zM149 134h16v3h-16zM149 214h16v3h-16zM149 357h16v3h-16zM149 430h16v4h-16zM165 120h16v4h-16zM165 180h16v4h-16zM165 254h16v3h-16zM165 274h16v3h-16zM165 317h16v3h-16zM181 194h16v6h-16zM181 344h16v3h-16zM181 384h16v3h-16zM197 107h16v3h-16zM197 277h16v7h-16zM197 317h16v3h-16zM197 330h16v4h-16zM197 520h16v4h-16zM213 94h16v3h-16zM213 104h16v3h-16zM213 137h16v3h-16zM213 164h16v3h-16zM213 214h16v6h-16zM213 284h16v3h-16zM213 317h16v3h-16zM213 604h16v3h-16zM229 274h17v3h-17zM229 284h17v3h-17zM229 404h17v3h-17zM229 424h17v3h-17zM229 584h17v3h-17zM229 684h17v3h-17zM246 81h16v3h-16zM246 91h16v3h-16zM246 174h16v3h-16zM246 204h16v3h-16zM246 250h16v4h-16zM246 300h16v4h-16zM246 597h16v3h-16zM262 87h16v4h-16zM262 167h16v3h-16zM262 177h16v3h-16zM262 237h16v3h-16zM262 250h16v7h-16zM262 307h16v3h-16zM262 420h16v4h-16zM262 577h16v3h-16zM278 180h16v4h-16zM278 280h16v4h-16zM278 354h16v3h-16zM278 384h16v3h-16zM278 504h16v3h-16zM294 104h16v3h-16zM294 164h16v3h-16zM294 267h16v3h-16zM294 314h16v3h-16zM294 380h16v4h-16zM294 574h16v3h-16zM294 660h16v4h-16zM310 174h16v3h-16zM326 147h16v3h-16zM326 214h16v3h-16zM326 224h16v3h-16zM326 260h16v4h-16zM326 297h16v3h-16zM326 330h16v4h-16zM326 407h16v3h-16zM326 444h16v3h-16zM326 457h16v3h-16zM326 657h16v3h-16zM326 710h16v3h-16zM342 104h16v3h-16zM342 187h16v3h-16zM342 230h16v4h-16zM342 264h16v3h-16zM342 307h16v3h-16zM342 397h16v3h-16zM342 540h16v4h-16zM358 110h17v4h-17zM358 120h17v4h-17zM358 244h17v3h-17zM358 430h17v4h-17zM358 437h17v3h-17zM358 470h17v4h-17zM358 640h17v4h-17zM375 164h16v3h-16zM375 177h16v3h-16zM375 327h16v3h-16zM375 354h16v3h-16zM375 410h16v4h-16zM375 437h16v3h-16zM391 130h16v4h-16zM391 170h16v4h-16zM391 240h16v4h-16zM391 337h16v3h-16zM391 380h16v4h-16zM391 540h16v4h-16zM391 587h16v3h-16zM407 387h16v3h-16zM407 567h16v3h-16zM407 694h16v3h-16zM423 94h16v3h-16zM423 117h16v3h-16zM423 127h16v3h-16zM423 354h16v3h-16zM423 390h16v4h-16zM423 454h16v3h-16zM423 464h16v3h-16zM423 490h16v4h-16zM423 610h16v4h-16zM439 100h16v4h-16zM439 180h16v4h-16zM439 200h16v7h-16zM439 307h16v3h-16zM439 330h16v4h-16zM439 494h16v3h-16zM439 504h16v3h-16zM439 637h16v3h-16zM455 310h16v4h-16zM455 504h16v3h-16zM455 547h16v3h-16zM455 684h16v3h-16zM471 154h16v3h-16zM471 184h16v3h-16zM471 267h16v3h-16zM471 290h16v10h-16zM471 407h16v3h-16zM471 467h16v3h-16zM471 527h16v3h-16zM487 130h17v4h-17zM487 144h17v3h-17zM487 174h17v3h-17zM487 277h17v3h-17zM487 400h17v4h-17zM487 407h17v3h-17zM487 430h17v4h-17zM487 467h17v3h-17zM487 680h17v4h-17zM504 114h16v3h-16zM504 290h16v4h-16zM504 357h16v3h-16zM504 430h16v4h-16zM504 467h16v3h-16zM504 617h16v3h-16zM504 667h16v3h-16zM520 104h16v3h-16zM520 140h16v4h-16zM520 194h16v3h-16zM520 240h16v4h-16zM520 294h16v3h-16zM520 367h16v3h-16zM520 424h16v3h-16zM520 490h16v4h-16zM520 604h16v3h-16zM536 81h16v3h-16zM536 107h16v3h-16zM536 214h16v3h-16zM536 284h16v3h-16zM536 430h16v4h-16zM536 507h16v3h-16zM536 540h16v4h-16zM536 547h16v3h-16zM536 680h16v4h-16zM552 144h16v3h-16zM552 150h16v4h-16zM552 360h16v4h-16zM552 454h16v3h-16zM552 697h16v3h-16zM568 277h16v3h-16zM568 284h16v3h-16zM568 340h16v4h-16zM568 414h16v3h-16zM568 427h16v3h-16zM568 457h16v3h-16zM584 124h16v3h-16zM584 150h16v4h-16zM584 164h16v3h-16zM584 174h16v3h-16zM584 180h16v4h-16zM584 240h16v4h-16zM584 290h16v4h-16zM584 337h16v3h-16zM584 357h16v3h-16zM584 504h16v3h-16zM584 627h16v3h-16zM600 290h16v4h-16zM600 500h16v4h-16zM616 190h17v4h-17zM616 287h17v3h-17zM616 300h17v4h-17zM616 450h17v4h-17zM616 457h17v3h-17zM616 467h17v3h-17zM616 497h17v3h-17zM616 550h17v4h-17zM616 560h17v4h-17zM616 574h17v3h-17zM633 84h16v3h-16zM633 140h16v4h-16zM633 170h16v4h-16zM633 277h16v3h-16zM633 304h16v3h-16zM633 360h16v4h-16zM633 387h16v7h-16zM633 464h16v3h-16zM649 227h16v3h-16zM649 307h16v3h-16zM649 404h16v6h-16zM649 514h16v3h-16zM649 597h16v3h-16zM665 124h16v3h-16zM665 130h16v4h-16zM665 277h16v3h-16zM665 360h16v4h-16zM681 154h16v3h-16zM681 214h16v3h-16zM681 410h16v4h-16zM681 454h16v3h-16zM681 460h16v4h-16zM681 574h16v3h-16zM681 624h16v3h-16zM697 117h16v3h-16zM697 124h16v3h-16zM697 170h16v4h-16zM697 250h16v4h-16zM697 277h16v3h-16zM697 384h16v3h-16zM697 537h16v3h-16zM713 304h16v3h-16zM713 377h16v3h-16zM713 384h16v3h-16zM729 140h16v4h-16zM729 147h16v3h-16zM729 240h16v4h-16zM729 274h16v3h-16zM729 390h16v4h-16zM729 434h16v10h-16zM729 470h16v4h-16zM745 157h17v3h-17zM745 217h17v7h-17zM745 270h17v4h-17zM745 284h17v3h-17zM745 294h17v3h-17zM745 394h17v3h-17zM762 214h16v3h-16zM762 230h16v4h-16zM762 280h16v4h-16zM762 427h16v3h-16zM762 530h16v4h-16zM762 564h16v3h-16zM762 570h16v4h-16zM778 91h16v3h-16zM778 127h16v3h-16zM778 184h16v3h-16zM778 257h16v3h-16zM778 304h16v3h-16zM778 614h16v3h-16zM794 84h16v3h-16zM794 137h16v3h-16zM794 147h16v3h-16zM794 390h16v4h-16zM794 440h16v4h-16zM810 104h16v3h-16zM826 127h16v3h-16zM826 257h16v3h-16zM842 167h16v3h-16zM842 240h16v4h-16zM858 114h16v3h-16zM874 91h17v3h-17zM874 130h17v4h-17z"/><path fill="#00c8fb" d="M101 117h16v3h-16zM133 147h16v3h-16zM133 547h16v3h-16zM149 520h16v4h-16zM165 117h16v3h-16zM165 124h16v3h-16zM165 137h16v3h-16zM165 320h16v4h-16zM165 564h16v3h-16zM181 94h16v3h-16zM181 210h16v4h-16zM181 287h16v3h-16zM181 307h16v3h-16zM181 434h16v3h-16zM181 550h16v4h-16zM197 91h16v3h-16zM197 334h16v3h-16zM197 474h16v6h-16zM213 220h16v4h-16zM213 277h16v3h-16zM213 414h16v3h-16zM213 507h16v3h-16zM229 147h17v3h-17zM229 207h17v7h-17zM229 217h17v3h-17zM229 250h17v4h-17zM229 310h17v4h-17zM229 347h17v3h-17zM229 374h17v3h-17zM229 390h17v4h-17zM246 100h16v4h-16zM246 164h16v3h-16zM246 347h16v3h-16zM246 390h16v4h-16zM246 474h16v3h-16zM246 480h16v4h-16zM246 584h16v3h-16zM246 627h16v3h-16zM262 424h16v10h-16zM278 117h16v3h-16zM278 170h16v4h-16zM278 177h16v3h-16zM278 437h16v3h-16zM278 467h16v3h-16zM278 474h16v3h-16zM294 137h16v3h-16zM294 317h16v3h-16zM294 324h16v3h-16zM294 427h16v3h-16zM294 447h16v3h-16zM310 120h16v4h-16zM310 140h16v4h-16zM310 184h16v3h-16zM310 354h16v3h-16zM310 504h16v3h-16zM310 534h16v3h-16zM326 247h16v3h-16zM326 257h16v3h-16zM326 284h16v3h-16zM326 334h16v3h-16zM326 410h16v4h-16zM326 440h16v4h-16zM326 617h16v3h-16zM342 91h16v3h-16zM342 127h16v3h-16zM342 150h16v4h-16zM342 210h16v4h-16zM342 350h16v4h-16zM342 520h16v4h-16zM342 634h16v3h-16zM358 134h17v3h-17zM358 247h17v3h-17zM358 277h17v3h-17zM358 287h17v7h-17zM358 324h17v3h-17zM358 467h17v3h-17zM358 713h17v4h-17zM375 87h16v4h-16zM375 104h16v3h-16zM375 394h16v3h-16zM375 467h16v3h-16zM375 674h16v3h-16zM391 174h16v3h-16zM391 184h16v3h-16zM391 250h16v7h-16zM391 287h16v3h-16zM391 300h16v4h-16zM391 330h16v4h-16zM391 377h16v3h-16zM391 444h16v3h-16zM391 457h16v3h-16zM391 474h16v3h-16zM391 534h16v3h-16zM391 560h16v4h-16zM407 87h16v4h-16zM407 110h16v4h-16zM407 177h16v3h-16zM407 224h16v3h-16zM407 354h16v3h-16zM407 420h16v4h-16zM407 450h16v4h-16zM407 480h16v7h-16zM407 490h16v4h-16zM407 647h16v3h-16zM423 124h16v3h-16zM423 184h16v3h-16zM423 364h16v3h-16zM423 487h16v3h-16zM423 507h16v3h-16zM423 557h16v3h-16zM423 664h16v3h-16zM439 117h16v3h-16zM439 130h16v4h-16zM439 364h16v3h-16zM439 374h16v3h-16zM439 407h16v3h-16zM439 450h16v4h-16zM439 540h16v4h-16zM439 570h16v4h-16zM439 614h16v3h-16zM439 650h16v4h-16zM455 114h16v3h-16zM455 254h16v3h-16zM455 277h16v3h-16zM455 317h16v3h-16zM455 434h16v3h-16zM471 200h16v4h-16zM471 224h16v3h-16zM471 330h16v4h-16zM471 370h16v4h-16zM471 397h16v7h-16zM471 417h16v3h-16zM471 434h16v3h-16zM471 547h16v3h-16zM471 617h16v3h-16zM471 650h16v4h-16zM487 81h17v3h-17zM487 150h17v4h-17zM487 167h17v3h-17zM487 200h17v4h-17zM487 327h17v3h-17zM487 500h17v4h-17zM487 567h17v3h-17zM504 87h16v4h-16zM504 147h16v3h-16zM504 197h16v3h-16zM504 260h16v4h-16zM504 294h16v3h-16zM504 300h16v4h-16zM504 524h16v3h-16zM504 540h16v4h-16zM504 560h16v4h-16zM504 637h16v3h-16zM520 167h16v3h-16zM520 207h16v3h-16zM520 254h16v3h-16zM520 270h16v4h-16zM520 277h16v3h-16zM520 284h16v3h-16zM520 340h16v4h-16zM520 440h16v4h-16zM520 464h16v6h-16zM520 520h16v4h-16zM520 634h16v3h-16zM520 664h16v3h-16zM536 84h16v3h-16zM536 110h16v4h-16zM536 147h16v3h-16zM536 274h16v3h-16zM536 290h16v4h-16zM536 360h16v4h-16zM552 240h16v4h-16zM552 270h16v4h-16zM552 320h16v4h-16zM552 380h16v4h-16zM552 387h16v3h-16zM552 420h16v4h-16zM552 520h16v4h-16zM552 540h16v4h-16zM552 587h16v3h-16zM568 137h16v3h-16zM568 204h16v3h-16zM568 320h16v4h-16zM568 367h16v3h-16zM568 387h16v3h-16zM568 547h16v3h-16zM568 584h16v3h-16zM584 97h16v3h-16zM584 277h16v3h-16zM584 310h16v4h-16zM584 407h16v3h-16zM584 464h16v3h-16zM600 97h16v3h-16zM600 284h16v3h-16zM600 477h16v3h-16zM600 557h16v3h-16zM616 91h17v3h-17zM616 127h17v3h-17zM616 140h17v4h-17zM616 157h17v3h-17zM616 207h17v3h-17zM616 237h17v3h-17zM616 407h17v3h-17zM616 484h17v3h-17zM616 520h17v4h-17zM633 164h16v3h-16zM633 520h16v4h-16zM633 617h16v3h-16zM649 84h16v3h-16zM649 124h16v3h-16zM649 197h16v3h-16zM649 207h16v3h-16zM649 230h16v4h-16zM649 270h16v4h-16zM649 350h16v4h-16zM649 440h16v4h-16zM649 710h16v3h-16zM665 81h16v3h-16zM665 177h16v3h-16zM665 330h16v4h-16zM665 460h16v4h-16zM665 530h16v4h-16zM665 600h16v7h-16zM681 134h16v3h-16zM681 207h16v3h-16zM681 257h16v3h-16zM681 377h16v3h-16zM681 420h16v4h-16zM681 490h16v4h-16zM697 150h16v4h-16zM697 184h16v3h-16zM697 220h16v4h-16zM697 230h16v4h-16zM697 310h16v4h-16zM697 407h16v3h-16zM697 477h16v3h-16zM697 510h16v4h-16zM697 677h16v3h-16zM713 170h16v4h-16zM713 307h16v3h-16zM713 334h16v3h-16zM713 344h16v3h-16zM713 580h16v4h-16zM729 91h16v3h-16zM729 184h16v3h-16zM745 110h17v4h-17zM745 154h17v3h-17zM745 174h17v3h-17zM745 254h17v3h-17zM745 380h17v4h-17zM745 414h17v3h-17zM745 450h17v4h-17zM762 154h16v3h-16zM762 190h16v4h-16zM762 284h16v3h-16zM762 324h16v3h-16zM762 380h16v4h-16zM762 540h16v4h-16zM778 154h16v3h-16zM778 214h16v3h-16zM778 224h16v3h-16zM778 377h16v3h-16zM778 477h16v3h-16zM778 574h16v3h-16zM794 204h16v3h-16zM794 310h16v4h-16zM794 340h16v4h-16zM794 394h16v3h-16zM794 464h16v3h-16zM794 510h16v4h-16zM794 594h16v6h-16zM794 650h16v4h-16zM810 170h16v4h-16zM810 177h16v3h-16zM810 267h16v3h-16zM810 454h16v3h-16zM826 310h16v4h-16zM842 154h16v3h-16zM842 244h16v3h-16zM858 124h16v3h-16zM858 137h16v3h-16zM858 424h16v3h-16zM874 114h17v3h-17zM874 120h17v4h-17z"/><path fill="#21d6de" d="M101 130h16v4h-16zM117 147h16v3h-16zM117 240h16v4h-16zM133 190h16v4h-16zM133 250h16v4h-16zM133 314h16v3h-16zM133 330h16v4h-16zM133 354h16v3h-16zM149 84h16v7h-16zM149 144h16v3h-16zM149 164h16v6h-16zM149 304h16v6h-16zM149 364h16v6h-16zM165 134h16v3h-16zM165 257h16v3h-16zM165 347h16v3h-16zM165 444h16v3h-16zM181 184h16v3h-16zM181 204h16v3h-16zM181 334h16v3h-16zM181 350h16v4h-16zM197 104h16v3h-16zM197 157h16v3h-16zM197 184h16v3h-16zM197 430h16v4h-16zM197 504h16v3h-16zM197 557h16v3h-16zM197 614h16v3h-16zM213 107h16v3h-16zM213 184h16v3h-16zM213 224h16v3h-16zM213 304h16v3h-16zM213 380h16v4h-16zM213 537h16v3h-16zM213 570h16v4h-16zM229 324h17v3h-17zM229 360h17v4h-17zM229 524h17v3h-17zM229 560h17v4h-17zM246 200h16v4h-16zM246 260h16v4h-16zM262 290h16v4h-16zM262 377h16v3h-16zM262 564h16v3h-16zM262 637h16v3h-16zM278 81h16v3h-16zM278 184h16v3h-16zM278 197h16v3h-16zM278 230h16v7h-16zM278 314h16v3h-16zM278 444h16v3h-16zM278 484h16v3h-16zM294 180h16v4h-16zM294 197h16v3h-16zM294 214h16v3h-16zM294 310h16v4h-16zM294 370h16v4h-16zM294 387h16v3h-16zM294 524h16v3h-16zM294 554h16v3h-16zM310 100h16v4h-16zM310 290h16v4h-16zM310 317h16v3h-16zM310 324h16v3h-16zM310 377h16v3h-16zM310 467h16v10h-16zM310 487h16v3h-16zM310 667h16v3h-16zM326 114h16v3h-16zM326 134h16v3h-16zM326 387h16v3h-16zM326 517h16v3h-16zM326 564h16v3h-16zM342 84h16v3h-16zM342 94h16v3h-16zM342 137h16v3h-16zM342 260h16v4h-16zM342 417h16v3h-16zM342 460h16v4h-16zM358 377h17v3h-17zM358 630h17v4h-17zM375 247h16v3h-16zM375 287h16v3h-16zM375 380h16v4h-16zM375 504h16v3h-16zM391 87h16v4h-16zM391 247h16v3h-16zM391 340h16v4h-16zM391 347h16v3h-16zM391 597h16v3h-16zM407 390h16v4h-16zM407 537h16v3h-16zM407 547h16v3h-16zM407 587h16v3h-16zM407 597h16v3h-16zM423 160h16v4h-16zM423 400h16v4h-16zM423 414h16v3h-16zM423 504h16v3h-16zM439 170h16v4h-16zM439 187h16v3h-16zM439 357h16v3h-16zM439 380h16v4h-16zM455 127h16v3h-16zM455 294h16v3h-16zM455 364h16v3h-16zM455 380h16v4h-16zM455 390h16v4h-16zM455 497h16v3h-16zM455 590h16v4h-16zM471 147h16v3h-16zM471 217h16v3h-16zM471 324h16v3h-16zM471 507h16v3h-16zM471 600h16v4h-16zM471 620h16v4h-16zM487 107h17v3h-17zM487 230h17v4h-17zM487 377h17v3h-17zM487 550h17v4h-17zM487 620h17v4h-17zM504 120h16v4h-16zM504 230h16v4h-16zM504 374h16v6h-16zM504 557h16v3h-16zM520 81h16v3h-16zM520 430h16v4h-16zM520 594h16v3h-16zM520 637h16v3h-16zM520 684h16v3h-16zM536 130h16v4h-16zM536 337h16v3h-16zM536 467h16v3h-16zM536 474h16v3h-16zM536 527h16v3h-16zM536 564h16v3h-16zM536 594h16v3h-16zM536 614h16v3h-16zM536 650h16v4h-16zM552 177h16v3h-16zM552 257h16v3h-16zM552 544h16v3h-16zM552 567h16v3h-16zM552 594h16v3h-16zM568 240h16v4h-16zM568 247h16v3h-16zM568 424h16v3h-16zM568 494h16v3h-16zM568 524h16v3h-16zM568 567h16v3h-16zM568 594h16v3h-16zM568 650h16v4h-16zM584 137h16v3h-16zM584 214h16v3h-16zM584 260h16v4h-16zM584 300h16v4h-16zM584 347h16v3h-16zM584 387h16v3h-16zM584 397h16v3h-16zM584 417h16v3h-16zM584 450h16v4h-16zM584 480h16v4h-16zM584 487h16v3h-16zM584 514h16v3h-16zM584 584h16v3h-16zM584 590h16v4h-16zM584 630h16v4h-16zM600 220h16v4h-16zM600 304h16v3h-16zM600 497h16v3h-16zM600 560h16v4h-16zM600 584h16v3h-16zM600 650h16v4h-16zM600 660h16v4h-16zM616 87h17v4h-17zM616 187h17v3h-17zM616 247h17v3h-17zM616 277h17v3h-17zM616 317h17v3h-17zM616 357h17v3h-17zM616 627h17v3h-17zM633 94h16v3h-16zM633 150h16v4h-16zM633 177h16v3h-16zM633 184h16v3h-16zM633 314h16v3h-16zM633 374h16v3h-16zM633 384h16v3h-16zM633 400h16v4h-16zM633 490h16v4h-16zM633 540h16v4h-16zM633 647h16v3h-16zM649 164h16v3h-16zM649 280h16v4h-16zM649 390h16v4h-16zM649 424h16v3h-16zM649 570h16v4h-16zM665 167h16v3h-16zM665 187h16v3h-16zM665 240h16v4h-16zM665 447h16v3h-16zM665 500h16v4h-16zM665 514h16v3h-16zM665 580h16v4h-16zM665 587h16v3h-16zM681 120h16v4h-16zM681 144h16v6h-16zM681 184h16v3h-16zM681 204h16v3h-16zM681 240h16v4h-16zM681 254h16v3h-16zM681 260h16v4h-16zM681 270h16v4h-16zM681 294h16v3h-16zM697 127h16v3h-16zM697 367h16v3h-16zM697 474h16v3h-16zM697 567h16v3h-16zM713 94h16v3h-16zM713 144h16v3h-16zM713 340h16v4h-16zM713 390h16v4h-16zM713 490h16v4h-16zM713 694h16v3h-16zM729 97h16v3h-16zM729 157h16v7h-16zM729 177h16v3h-16zM729 237h16v3h-16zM729 517h16v3h-16zM729 574h16v3h-16zM729 630h16v4h-16zM729 684h16v6h-16zM745 257h17v3h-17zM745 277h17v3h-17zM745 310h17v7h-17zM745 320h17v7h-17zM745 454h17v3h-17zM762 167h16v3h-16zM762 210h16v4h-16zM762 474h16v3h-16zM778 94h16v3h-16zM778 294h16v3h-16zM778 337h16v3h-16zM778 390h16v4h-16zM794 154h16v3h-16zM794 344h16v3h-16zM794 384h16v3h-16zM794 567h16v3h-16zM810 204h16v6h-16zM810 254h16v3h-16zM810 264h16v3h-16zM810 490h16v4h-16zM826 174h16v3h-16zM826 230h16v4h-16zM826 254h16v3h-16zM826 317h16v3h-16zM826 444h16v3h-16zM826 574h16v6h-16zM842 164h16v3h-16zM842 184h16v3h-16zM842 324h16v3h-16zM842 340h16v4h-16zM842 347h16v3h-16zM842 400h16v4h-16zM842 407h16v3h-16zM858 154h16v3h-16zM858 274h16v3h-16zM858 404h16v3h-16zM858 434h16v3h-16zM874 84h17v3h-17zM874 94h17v3h-17zM874 107h17v3h-17z"/><path fill="#63e49b" d="M101 134h16v3h-16zM117 280h16v4h-16zM133 357h16v3h-16zM133 400h16v4h-16zM149 147h16v3h-16zM149 277h16v3h-16zM149 387h16v3h-16zM149 494h16v3h-16zM149 504h16v3h-16zM149 544h16v3h-16zM149 584h16v3h-16zM149 594h16v3h-16zM165 354h16v3h-16zM165 404h16v3h-16zM165 450h16v4h-16zM165 540h16v4h-16zM181 150h16v4h-16zM181 537h16v3h-16zM197 127h16v3h-16zM197 247h16v3h-16zM197 294h16v3h-16zM197 524h16v3h-16zM213 337h16v3h-16zM213 410h16v4h-16zM229 130h17v4h-17zM229 340h17v4h-17zM229 464h17v3h-17zM229 500h17v4h-17zM229 537h17v3h-17zM229 667h17v3h-17zM246 294h16v3h-16zM246 317h16v3h-16zM246 334h16v3h-16zM246 420h16v4h-16zM262 174h16v3h-16zM262 344h16v3h-16zM262 354h16v3h-16zM262 394h16v3h-16zM262 534h16v3h-16zM262 587h16v3h-16zM278 257h16v3h-16zM278 447h16v3h-16zM278 460h16v4h-16zM278 490h16v7h-16zM278 544h16v3h-16zM278 667h16v3h-16zM294 394h16v3h-16zM294 530h16v4h-16zM310 330h16v4h-16zM326 194h16v3h-16zM326 604h16v3h-16zM342 254h16v3h-16zM342 410h16v4h-16zM342 584h16v3h-16zM375 587h16v3h-16zM375 597h16v3h-16zM391 437h16v3h-16zM391 520h16v4h-16zM391 527h16v3h-16zM391 590h16v4h-16zM391 684h16v3h-16zM407 524h16v3h-16zM407 530h16v4h-16zM407 540h16v4h-16zM407 574h16v3h-16zM423 470h16v4h-16zM423 614h16v3h-16zM423 620h16v4h-16zM439 640h16v4h-16zM455 487h16v3h-16zM455 557h16v3h-16zM471 470h16v4h-16zM471 524h16v3h-16zM471 580h16v4h-16zM471 674h16v3h-16zM487 354h17v3h-17zM487 370h17v4h-17zM487 457h17v3h-17zM487 480h17v4h-17zM487 644h17v3h-17zM487 697h17v3h-17zM504 414h16v3h-16zM504 507h16v3h-16zM504 614h16v3h-16zM520 530h16v4h-16zM520 557h16v3h-16zM536 264h16v3h-16zM536 354h16v3h-16zM536 534h16v3h-16zM536 574h16v3h-16zM536 617h16v3h-16zM568 434h16v3h-16zM568 530h16v4h-16zM584 567h16v7h-16zM584 587h16v3h-16zM584 640h16v4h-16zM600 397h16v3h-16zM600 460h16v4h-16zM600 550h16v4h-16zM600 667h16v3h-16zM616 374h17v3h-17zM616 420h17v4h-17zM616 477h17v3h-17zM616 650h17v4h-17zM616 664h17v3h-17zM633 527h16v3h-16zM649 437h16v3h-16zM649 467h16v3h-16zM665 87h16v4h-16zM665 304h16v3h-16zM665 387h16v3h-16zM665 417h16v3h-16zM665 544h16v3h-16zM665 564h16v3h-16zM665 617h16v3h-16zM681 394h16v3h-16zM681 424h16v3h-16zM697 144h16v6h-16zM697 160h16v4h-16zM697 460h16v4h-16zM697 514h16v3h-16zM697 574h16v3h-16zM697 700h16v4h-16zM713 210h16v4h-16zM713 250h16v4h-16zM713 564h16v3h-16zM713 640h16v4h-16zM729 490h16v4h-16zM729 524h16v3h-16zM745 240h17v4h-17zM745 547h17v3h-17zM745 640h17v7h-17zM762 204h16v3h-16zM762 390h16v4h-16zM762 550h16v4h-16zM762 584h16v3h-16zM762 637h16v3h-16zM778 120h16v4h-16zM778 520h16v10h-16zM794 97h16v3h-16zM794 114h16v3h-16zM794 190h16v4h-16zM794 407h16v3h-16zM794 447h16v3h-16zM794 487h16v3h-16zM810 160h16v4h-16zM810 287h16v7h-16zM810 614h16v6h-16zM826 104h16v3h-16zM826 240h16v4h-16zM826 400h16v4h-16zM826 580h16v4h-16zM842 170h16v4h-16zM842 210h16v4h-16zM842 334h16v3h-16zM842 414h16v3h-16zM858 224h16v3h-16zM874 117h17v3h-17z"/><path fill="#f95605" d="M101 140h16v4h-16zM101 247h16v7h-16zM101 327h16v3h-16zM101 347h16v3h-16zM117 490h16v4h-16zM117 540h16v4h-16zM133 610h16v4h-16zM133 640h16v4h-16zM133 720h16v3h-16zM149 614h16v3h-16zM165 660h16v4h-16zM197 684h16v3h-16zM213 677h16v3h-16zM213 713h16v4h-16zM229 687h17v3h-17zM294 717h16v3h-16zM342 727h16v3h-16zM487 710h17v3h-17zM520 717h16v3h-16zM649 713h16v4h-16zM729 710h16v3h-16zM810 660h16v4h-16zM826 620h16v4h-16zM826 664h16v3h-16zM842 694h16v3h-16zM858 544h16v6h-16zM858 587h16v3h-16zM874 147h17v3h-17zM874 224h17v3h-17zM874 240h17v4h-17zM874 247h17v3h-17zM874 330h17v4h-17zM874 340h17v4h-17zM874 350h17v4h-17zM874 427h17v7h-17zM874 450h17v4h-17zM874 594h17v3h-17zM874 667h17v3h-17z"/><path fill="#fe3c01" d="M101 144h16v10h-16zM101 157h16v3h-16zM101 257h16v3h-16zM101 364h16v3h-16zM117 450h16v4h-16zM117 504h16v3h-16zM117 547h16v3h-16zM117 597h16v3h-16zM133 577h16v3h-16zM133 697h16v3h-16zM149 664h16v3h-16zM149 690h16v4h-16zM165 717h16v3h-16zM181 677h16v3h-16zM181 690h16v7h-16zM197 697h16v3h-16zM246 700h16v4h-16zM278 707h16v3h-16zM326 713h16v4h-16zM326 727h16v3h-16zM487 720h17v3h-17zM568 730h16v3h-16zM584 730h16v3h-16zM649 694h16v3h-16zM681 710h16v3h-16zM697 730h16v3h-16zM713 677h16v3h-16zM745 697h17v7h-17zM762 694h16v3h-16zM778 687h16v3h-16zM794 660h16v4h-16zM810 644h16v3h-16zM826 670h16v4h-16zM826 727h16v3h-16zM842 637h16v3h-16zM842 644h16v3h-16zM842 667h16v3h-16zM842 674h16v3h-16zM858 500h16v4h-16zM858 594h16v6h-16zM874 367h17v3h-17zM874 527h17v3h-17zM874 607h17v3h-17zM874 720h17v3h-17z"/><path fill="#ff3300" d="M101 154h16v3h-16zM101 164h16v3h-16zM101 267h16v3h-16zM101 427h16v3h-16zM101 510h16v4h-16zM101 527h16v3h-16zM101 720h16v3h-16zM117 494h16v3h-16zM117 500h16v4h-16zM117 507h16v3h-16zM117 550h16v4h-16zM133 644h16v3h-16zM133 700h16v4h-16zM149 667h16v3h-16zM149 687h16v3h-16zM165 644h16v3h-16zM181 660h16v4h-16zM181 707h16v3h-16zM229 710h17v3h-17zM262 713h16v4h-16zM375 723h16v4h-16zM665 713h16v4h-16zM762 690h16v4h-16zM762 707h16v3h-16zM794 707h16v3h-16zM810 700h16v4h-16zM810 713h16v7h-16zM826 647h16v3h-16zM842 610h16v4h-16zM842 720h16v3h-16zM858 450h16v4h-16zM858 504h16v3h-16zM858 550h16v4h-16zM858 710h16v3h-16zM874 150h17v10h-17zM874 254h17v3h-17zM874 354h17v6h-17zM874 437h17v3h-17zM874 447h17v3h-17zM874 614h17v3h-17zM874 674h17v6h-17z"/><path fill="#fc4503" d="M101 160h16v4h-16zM101 237h16v3h-16zM101 260h16v7h-16zM101 337h16v3h-16zM101 344h16v3h-16zM101 354h16v6h-16zM101 524h16v3h-16zM101 534h16v3h-16zM101 607h16v3h-16zM101 677h16v3h-16zM117 634h16v3h-16zM133 580h16v4h-16zM133 674h16v3h-16zM149 620h16v4h-16zM149 707h16v3h-16zM246 694h16v3h-16zM246 710h16v3h-16zM310 690h16v4h-16zM568 710h16v3h-16zM600 707h16v3h-16zM600 723h16v4h-16zM697 717h16v3h-16zM729 704h16v3h-16zM729 720h16v3h-16zM745 717h17v3h-17zM762 713h16v4h-16zM810 664h16v3h-16zM826 637h16v3h-16zM826 644h16v3h-16zM826 687h16v3h-16zM826 710h16v3h-16zM842 640h16v4h-16zM858 494h16v3h-16zM858 540h16v4h-16zM858 637h16v3h-16zM858 674h16v3h-16zM874 267h17v3h-17zM874 344h17v6h-17zM874 360h17v7h-17zM874 444h17v3h-17zM874 520h17v4h-17z"/><path fill="#c5fa38" d="M101 167h16v3h-16zM101 377h16v3h-16zM101 384h16v3h-16zM101 644h16v3h-16zM117 197h16v3h-16zM117 207h16v7h-16zM117 694h16v3h-16zM133 370h16v4h-16zM133 494h16v3h-16zM133 500h16v4h-16zM149 220h16v4h-16zM149 350h16v4h-16zM149 414h16v3h-16zM149 474h16v3h-16zM165 327h16v3h-16zM165 590h16v4h-16zM213 464h16v3h-16zM213 640h16v4h-16zM229 547h17v3h-17zM229 604h17v3h-17zM229 723h17v4h-17zM246 394h16v3h-16zM246 504h16v3h-16zM246 640h16v4h-16zM262 584h16v3h-16zM278 657h16v3h-16zM294 597h16v3h-16zM294 674h16v3h-16zM310 644h16v3h-16zM310 677h16v3h-16zM310 730h16v3h-16zM342 537h16v3h-16zM358 597h17v3h-17zM423 560h16v4h-16zM439 644h16v3h-16zM439 720h16v3h-16zM455 680h16v4h-16zM455 690h16v4h-16zM471 654h16v3h-16zM471 704h16v3h-16zM504 630h16v4h-16zM504 664h16v3h-16zM504 694h16v3h-16zM536 664h16v3h-16zM568 657h16v3h-16zM568 700h16v4h-16zM600 604h16v3h-16zM633 707h16v3h-16zM713 524h16v3h-16zM713 584h16v3h-16zM713 607h16v3h-16zM729 570h16v4h-16zM762 494h16v6h-16zM762 614h16v3h-16zM794 610h16v4h-16zM794 713h16v4h-16zM810 430h16v4h-16zM826 284h16v6h-16zM826 344h16v3h-16zM826 354h16v3h-16zM826 414h16v3h-16zM826 457h16v3h-16zM826 500h16v4h-16zM842 224h16v3h-16zM842 490h16v4h-16zM858 200h16v4h-16zM858 304h16v3h-16zM858 360h16v4h-16zM858 390h16v4h-16zM858 457h16v3h-16zM858 517h16v3h-16zM874 167h17v7h-17zM874 280h17v4h-17zM874 384h17v3h-17z"/><path fill="#83eb7a" d="M101 170h16v4h-16zM117 170h16v4h-16zM117 250h16v4h-16zM133 114h16v3h-16zM133 134h16v3h-16zM133 290h16v4h-16zM149 184h16v3h-16zM149 320h16v4h-16zM149 574h16v3h-16zM165 280h16v4h-16zM165 340h16v4h-16zM181 190h16v4h-16zM181 447h16v3h-16zM181 504h16v3h-16zM181 640h16v4h-16zM197 324h16v3h-16zM213 437h16v3h-16zM213 584h16v3h-16zM229 354h17v3h-17zM229 400h17v4h-17zM229 474h17v3h-17zM246 570h16v4h-16zM262 280h16v4h-16zM262 510h16v4h-16zM278 294h16v3h-16zM278 377h16v3h-16zM278 530h16v4h-16zM278 644h16v3h-16zM294 630h16v4h-16zM294 654h16v6h-16zM310 574h16v3h-16zM310 660h16v4h-16zM326 550h16v4h-16zM326 690h16v4h-16zM342 300h16v4h-16zM342 434h16v3h-16zM358 454h17v3h-17zM358 564h17v3h-17zM375 617h16v3h-16zM375 684h16v3h-16zM391 507h16v3h-16zM391 574h16v3h-16zM391 720h16v3h-16zM407 604h16v3h-16zM455 510h16v4h-16zM455 544h16v3h-16zM455 580h16v4h-16zM455 624h16v3h-16zM455 640h16v4h-16zM487 464h17v3h-17zM487 627h17v3h-17zM504 484h16v3h-16zM504 580h16v4h-16zM504 690h16v4h-16zM504 704h16v3h-16zM520 687h16v3h-16zM552 477h16v3h-16zM552 600h16v4h-16zM552 627h16v3h-16zM552 710h16v3h-16zM568 474h16v3h-16zM584 507h16v3h-16zM584 527h16v3h-16zM584 580h16v4h-16zM600 527h16v3h-16zM600 594h16v3h-16zM633 290h16v4h-16zM633 474h16v3h-16zM633 644h16v3h-16zM649 530h16v4h-16zM649 647h16v3h-16zM665 597h16v3h-16zM665 637h16v3h-16zM665 674h16v3h-16zM665 704h16v3h-16zM681 617h16v3h-16zM681 634h16v3h-16zM681 713h16v4h-16zM697 307h16v3h-16zM697 494h16v3h-16zM697 507h16v3h-16zM697 527h16v3h-16zM697 694h16v3h-16zM713 280h16v4h-16zM713 317h16v3h-16zM713 574h16v3h-16zM713 604h16v3h-16zM713 660h16v4h-16zM729 527h16v3h-16zM745 117h17v3h-17zM745 150h17v4h-17zM745 290h17v4h-17zM745 340h17v4h-17zM745 447h17v3h-17zM745 470h17v4h-17zM745 477h17v3h-17zM762 360h16v4h-16zM762 440h16v4h-16zM762 560h16v4h-16zM778 534h16v3h-16zM794 360h16v4h-16zM794 480h16v4h-16zM794 627h16v3h-16zM810 110h16v4h-16zM810 154h16v3h-16zM826 277h16v3h-16zM826 507h16v3h-16zM842 127h16v3h-16zM842 134h16v3h-16zM842 197h16v3h-16zM842 297h16v3h-16zM842 424h16v3h-16zM858 164h16v3h-16zM858 214h16v3h-16zM858 437h16v3h-16z"/><path fill="#deff1f" d="M101 174h16v3h-16zM101 380h16v4h-16zM101 477h16v3h-16zM101 497h16v3h-16zM101 564h16v3h-16zM117 187h16v3h-16zM117 397h16v3h-16zM117 460h16v4h-16zM117 510h16v4h-16zM133 380h16v7h-16zM149 417h16v3h-16zM149 467h16v3h-16zM149 600h16v4h-16zM165 520h16v7h-16zM165 597h16v3h-16zM165 650h16v4h-16zM181 560h16v4h-16zM197 677h16v3h-16zM213 684h16v3h-16zM229 713h17v4h-17zM246 680h16v4h-16zM262 604h16v6h-16zM262 687h16v3h-16zM278 597h16v3h-16zM278 720h16v3h-16zM310 577h16v3h-16zM310 607h16v3h-16zM310 627h16v3h-16zM358 674h17v3h-17zM358 720h17v3h-17zM407 510h16v4h-16zM407 720h16v3h-16zM423 713h16v4h-16zM439 694h16v3h-16zM455 713h16v4h-16zM487 667h17v3h-17zM504 587h16v3h-16zM552 680h16v4h-16zM568 677h16v3h-16zM568 690h16v4h-16zM616 597h17v3h-17zM616 654h17v3h-17zM633 597h16v3h-16zM633 657h16v3h-16zM649 697h16v3h-16zM665 730h16v3h-16zM713 654h16v3h-16zM745 550h17v4h-17zM778 550h16v4h-16zM778 604h16v3h-16zM778 657h16v3h-16zM778 690h16v4h-16zM794 517h16v3h-16zM810 374h16v3h-16zM810 517h16v3h-16zM810 650h16v4h-16zM826 220h16v4h-16zM826 474h16v3h-16zM826 560h16v7h-16zM826 627h16v3h-16zM842 214h16v3h-16zM842 684h16v3h-16zM858 210h16v4h-16zM858 294h16v3h-16zM858 314h16v3h-16zM858 370h16v4h-16zM858 454h16v3h-16zM858 510h16v4h-16zM858 697h16v3h-16z"/><path fill="#d6fd27" d="M101 177h16v3h-16zM101 274h16v3h-16zM101 567h16v7h-16zM117 300h16v7h-16zM117 390h16v4h-16zM117 457h16v3h-16zM117 514h16v3h-16zM133 497h16v3h-16zM133 624h16v3h-16zM133 710h16v3h-16zM149 654h16v3h-16zM181 517h16v3h-16zM197 654h16v3h-16zM213 647h16v3h-16zM213 667h16v3h-16zM213 710h16v3h-16zM229 520h17v4h-17zM229 550h17v4h-17zM229 607h17v3h-17zM246 594h16v3h-16zM246 614h16v3h-16zM262 650h16v4h-16zM278 584h16v3h-16zM278 617h16v3h-16zM294 617h16v3h-16zM326 587h16v3h-16zM326 664h16v3h-16zM342 657h16v3h-16zM407 690h16v4h-16zM455 614h16v3h-16zM487 617h17v3h-17zM487 634h17v3h-17zM487 694h17v3h-17zM520 680h16v4h-16zM568 610h16v4h-16zM584 674h16v3h-16zM584 700h16v4h-16zM600 640h16v4h-16zM616 637h17v3h-17zM649 684h16v3h-16zM665 660h16v7h-16zM729 567h16v3h-16zM729 647h16v3h-16zM762 664h16v3h-16zM762 684h16v3h-16zM778 424h16v3h-16zM778 554h16v3h-16zM778 607h16v3h-16zM778 630h16v4h-16zM794 520h16v4h-16zM794 560h16v4h-16zM794 580h16v4h-16zM794 614h16v3h-16zM810 420h16v4h-16zM810 600h16v4h-16zM826 124h16v3h-16zM826 217h16v3h-16zM826 350h16v4h-16zM842 374h16v3h-16zM842 507h16v3h-16zM842 587h16v3h-16zM842 710h16v3h-16zM858 197h16v3h-16zM858 387h16v3h-16zM874 277h17v3h-17zM874 394h17v3h-17zM874 707h17v3h-17z"/><path fill="#e5d318" d="M101 180h16v4h-16zM101 390h16v4h-16zM101 480h16v4h-16zM101 487h16v3h-16zM101 577h16v3h-16zM101 707h16v3h-16zM117 160h16v4h-16zM117 307h16v3h-16zM117 337h16v3h-16zM117 517h16v3h-16zM117 574h16v3h-16zM133 270h16v4h-16zM133 394h16v3h-16zM133 454h16v3h-16zM133 590h16v4h-16zM149 527h16v3h-16zM165 380h16v4h-16zM165 530h16v4h-16zM165 570h16v4h-16zM181 520h16v4h-16zM181 684h16v3h-16zM213 607h16v3h-16zM229 654h17v3h-17zM246 644h16v3h-16zM278 660h16v4h-16zM294 647h16v3h-16zM310 697h16v3h-16zM326 650h16v4h-16zM342 654h16v3h-16zM407 713h16v4h-16zM423 704h16v3h-16zM439 704h16v3h-16zM439 723h16v4h-16zM487 640h17v4h-17zM487 684h17v3h-17zM600 690h16v4h-16zM600 704h16v3h-16zM633 710h16v3h-16zM681 647h16v3h-16zM697 597h16v3h-16zM697 713h16v4h-16zM745 494h17v3h-17zM745 637h17v3h-17zM745 713h17v4h-17zM778 637h16v7h-16zM794 700h16v4h-16zM810 630h16v4h-16zM810 710h16v3h-16zM826 704h16v3h-16zM842 270h16v4h-16zM842 457h16v3h-16zM842 554h16v3h-16zM842 597h16v3h-16zM858 157h16v3h-16zM858 297h16v3h-16zM858 324h16v3h-16zM858 384h16v3h-16zM858 514h16v3h-16zM874 294h17v10h-17zM874 567h17v3h-17zM874 577h17v3h-17z"/><path fill="#ebaf13" d="M101 184h16v3h-16zM101 200h16v4h-16zM101 210h16v4h-16zM101 314h16v6h-16zM101 397h16v3h-16zM101 494h16v3h-16zM101 504h16v3h-16zM101 587h16v3h-16zM101 654h16v3h-16zM101 710h16v7h-16zM117 310h16v4h-16zM117 467h16v3h-16zM117 570h16v4h-16zM117 700h16v4h-16zM133 467h16v3h-16zM133 507h16v3h-16zM133 564h16v3h-16zM149 530h16v4h-16zM149 607h16v3h-16zM149 680h16v4h-16zM181 600h16v4h-16zM181 654h16v3h-16zM197 680h16v4h-16zM213 687h16v3h-16zM326 697h16v3h-16zM391 694h16v3h-16zM423 717h16v3h-16zM471 707h16v3h-16zM487 657h17v3h-17zM487 674h17v3h-17zM552 704h16v3h-16zM600 713h16v4h-16zM616 690h17v4h-17zM633 624h16v3h-16zM697 690h16v4h-16zM729 727h16v3h-16zM778 680h16v4h-16zM778 694h16v3h-16zM794 667h16v3h-16zM810 574h16v3h-16zM810 694h16v3h-16zM826 684h16v3h-16zM842 690h16v4h-16zM858 337h16v3h-16zM858 470h16v4h-16zM858 520h16v4h-16zM858 570h16v7h-16zM874 307h17v3h-17zM874 497h17v3h-17z"/><path fill="#dff61d" d="M101 187h16v3h-16zM117 214h16v3h-16zM117 320h16v4h-16zM117 374h16v3h-16zM117 454h16v3h-16zM117 564h16v3h-16zM133 390h16v4h-16zM133 550h16v4h-16zM149 460h16v4h-16zM149 470h16v4h-16zM149 477h16v3h-16zM149 677h16v3h-16zM149 700h16v4h-16zM165 690h16v4h-16zM181 664h16v3h-16zM197 607h16v3h-16zM213 594h16v3h-16zM294 713h16v4h-16zM310 664h16v3h-16zM310 707h16v3h-16zM326 684h16v3h-16zM358 620h17v4h-17zM391 660h16v4h-16zM407 664h16v3h-16zM471 680h16v4h-16zM487 704h17v3h-17zM520 713h16v4h-16zM536 694h16v3h-16zM536 720h16v3h-16zM568 723h16v4h-16zM633 684h16v3h-16zM649 707h16v3h-16zM681 577h16v3h-16zM697 640h16v4h-16zM794 524h16v3h-16zM794 564h16v3h-16zM794 664h16v3h-16zM810 380h16v4h-16zM810 520h16v4h-16zM810 597h16v3h-16zM826 404h16v3h-16zM842 387h16v3h-16zM842 394h16v3h-16zM842 497h16v3h-16zM858 300h16v4h-16zM858 394h16v3h-16zM874 184h17v3h-17zM874 287h17v3h-17z"/><path fill="#e6ca17" d="M101 190h16v4h-16zM101 197h16v3h-16zM101 400h16v4h-16zM101 580h16v4h-16zM117 567h16v3h-16zM117 697h16v3h-16zM133 594h16v3h-16zM133 657h16v3h-16zM149 534h16v3h-16zM165 654h16v3h-16zM181 700h16v4h-16zM197 720h16v3h-16zM213 577h16v3h-16zM229 704h17v3h-17zM246 647h16v3h-16zM262 654h16v3h-16zM278 637h16v3h-16zM278 690h16v4h-16zM342 700h16v4h-16zM375 627h16v3h-16zM375 664h16v3h-16zM471 670h16v4h-16zM471 697h16v3h-16zM471 713h16v4h-16zM487 713h17v4h-17zM504 654h16v3h-16zM520 730h16v3h-16zM697 637h16v3h-16zM697 704h16v3h-16zM713 687h16v3h-16zM762 607h16v3h-16zM762 624h16v3h-16zM762 710h16v3h-16zM778 517h16v3h-16zM778 634h16v3h-16zM794 557h16v3h-16zM810 527h16v3h-16zM810 654h16v3h-16zM842 464h16v3h-16zM842 510h16v4h-16zM858 310h16v4h-16zM858 330h16v4h-16zM858 460h16v4h-16zM858 524h16v3h-16zM858 700h16v4h-16zM874 180h17v4h-17zM874 197h17v3h-17zM874 400h17v4h-17zM874 580h17v4h-17z"/><path fill="#e8c115" d="M101 194h16v3h-16zM101 584h16v3h-16zM101 657h16v3h-16zM117 157h16v3h-16zM117 470h16v7h-16zM117 524h16v3h-16zM133 664h16v6h-16zM149 524h16v3h-16zM149 567h16v3h-16zM149 604h16v3h-16zM149 720h16v3h-16zM165 577h16v3h-16zM165 630h16v4h-16zM165 657h16v3h-16zM229 634h17v3h-17zM229 657h17v3h-17zM246 697h16v3h-16zM262 710h16v3h-16zM294 694h16v3h-16zM294 707h16v3h-16zM342 624h16v3h-16zM391 713h16v4h-16zM407 704h16v3h-16zM407 723h16v4h-16zM568 713h16v4h-16zM600 627h16v3h-16zM600 677h16v3h-16zM665 723h16v4h-16zM681 677h16v3h-16zM729 677h16v3h-16zM729 707h16v3h-16zM778 707h16v3h-16zM794 620h16v4h-16zM794 684h16v3h-16zM810 590h16v4h-16zM826 534h16v3h-16zM826 604h16v3h-16zM826 700h16v4h-16zM842 467h16v3h-16zM842 627h16v7h-16zM858 317h16v3h-16zM858 327h16v3h-16zM858 334h16v3h-16zM858 530h16v4h-16zM874 174h17v3h-17zM874 194h17v3h-17zM874 290h17v4h-17zM874 404h17v3h-17zM874 480h17v4h-17zM874 494h17v3h-17zM874 650h17v4h-17z"/><path fill="#eca611" d="M101 204h16v3h-16zM101 310h16v4h-16zM101 660h16v4h-16zM117 520h16v4h-16zM117 617h16v3h-16zM117 624h16v3h-16zM133 557h16v3h-16zM133 660h16v4h-16zM133 690h16v4h-16zM149 560h16v4h-16zM149 637h16v3h-16zM165 694h16v3h-16zM197 640h16v4h-16zM213 654h16v3h-16zM229 660h17v4h-17zM229 694h17v3h-17zM262 674h16v3h-16zM310 670h16v4h-16zM375 690h16v4h-16zM504 697h16v3h-16zM520 707h16v3h-16zM536 707h16v3h-16zM584 694h16v3h-16zM584 707h16v3h-16zM649 700h16v4h-16zM681 684h16v3h-16zM681 707h16v3h-16zM697 680h16v4h-16zM713 674h16v3h-16zM713 700h16v4h-16zM713 720h16v3h-16zM762 577h16v3h-16zM762 700h16v4h-16zM762 723h16v4h-16zM794 717h16v3h-16zM810 674h16v3h-16zM826 630h16v4h-16zM842 557h16v3h-16zM842 594h16v3h-16zM842 660h16v4h-16zM858 160h16v4h-16zM858 480h16v4h-16zM858 534h16v3h-16zM858 620h16v4h-16zM858 657h16v3h-16zM874 220h17v4h-17zM874 397h17v3h-17zM874 407h17v3h-17zM874 490h17v4h-17zM874 584h17v3h-17zM874 590h17v4h-17z"/><path fill="#e9b814" d="M101 207h16v3h-16zM101 290h16v7h-16zM101 394h16v3h-16zM101 484h16v3h-16zM101 650h16v4h-16zM117 314h16v6h-16zM117 324h16v10h-16zM133 554h16v3h-16zM133 687h16v3h-16zM181 667h16v3h-16zM197 707h16v3h-16zM278 704h16v3h-16zM294 667h16v3h-16zM294 730h16v3h-16zM310 717h16v3h-16zM342 640h16v4h-16zM342 687h16v3h-16zM375 677h16v3h-16zM439 730h16v3h-16zM455 730h16v3h-16zM504 707h16v3h-16zM552 713h16v4h-16zM584 647h16v3h-16zM665 654h16v3h-16zM681 694h16v3h-16zM745 704h17v3h-17zM762 647h16v7h-16zM778 587h16v3h-16zM778 677h16v3h-16zM810 530h16v4h-16zM810 570h16v4h-16zM826 524h16v10h-16zM826 654h16v3h-16zM826 720h16v3h-16zM842 460h16v4h-16zM858 307h16v3h-16zM858 527h16v3h-16zM858 617h16v3h-16zM874 200h17v4h-17zM874 284h17v3h-17zM874 657h17v3h-17z"/><path fill="#ee9d10" d="M101 214h16v3h-16zM101 304h16v3h-16zM101 407h16v3h-16zM101 507h16v3h-16zM117 487h16v3h-16zM133 470h16v4h-16zM133 634h16v3h-16zM149 537h16v3h-16zM165 677h16v3h-16zM181 620h16v7h-16zM213 650h16v4h-16zM246 727h16v3h-16zM342 704h16v3h-16zM342 720h16v3h-16zM407 697h16v3h-16zM504 717h16v3h-16zM520 697h16v3h-16zM536 684h16v3h-16zM536 717h16v3h-16zM536 730h16v3h-16zM633 720h16v3h-16zM665 717h16v3h-16zM681 723h16v4h-16zM729 667h16v3h-16zM729 697h16v3h-16zM762 687h16v3h-16zM778 590h16v4h-16zM794 654h16v3h-16zM810 634h16v3h-16zM842 454h16v3h-16zM842 600h16v4h-16zM874 204h17v6h-17zM874 214h17v3h-17zM874 317h17v3h-17zM874 390h17v4h-17zM874 410h17v7h-17zM874 484h17v6h-17zM874 504h17v3h-17z"/><path fill="#f85f07" d="M101 217h16v3h-16zM101 350h16v4h-16zM101 430h16v4h-16zM101 437h16v3h-16zM101 664h16v3h-16zM117 530h16v4h-16zM117 537h16v3h-16zM117 674h16v3h-16zM165 713h16v4h-16zM181 674h16v3h-16zM197 667h16v3h-16zM197 723h16v4h-16zM213 690h16v4h-16zM229 717h17v3h-17zM278 713h16v4h-16zM310 710h16v3h-16zM633 704h16v3h-16zM778 697h16v3h-16zM794 674h16v3h-16zM826 640h16v4h-16zM858 577h16v3h-16zM874 237h17v3h-17zM874 334h17v3h-17zM874 434h17v3h-17zM874 507h17v3h-17z"/><path fill="#ef950f" d="M101 220h16v4h-16zM101 244h16v3h-16zM101 334h16v3h-16zM101 514h16v3h-16zM117 480h16v4h-16zM117 527h16v3h-16zM117 577h16v3h-16zM117 620h16v4h-16zM117 730h16v3h-16zM133 567h16v7h-16zM133 600h16v4h-16zM133 630h16v4h-16zM149 657h16v3h-16zM165 574h16v3h-16zM165 634h16v3h-16zM181 717h16v3h-16zM197 694h16v3h-16zM246 667h16v3h-16zM294 723h16v4h-16zM375 713h16v4h-16zM439 684h16v3h-16zM455 697h16v3h-16zM455 707h16v3h-16zM471 717h16v3h-16zM584 713h16v4h-16zM745 660h17v4h-17zM794 600h16v7h-16zM810 637h16v3h-16zM842 604h16v3h-16zM858 474h16v3h-16zM858 484h16v3h-16zM874 420h17v4h-17zM874 510h17v4h-17zM874 717h17v3h-17z"/><path fill="#fb4e04" d="M101 224h16v3h-16zM101 440h16v7h-16zM101 450h16v4h-16zM101 600h16v7h-16zM101 717h16v3h-16zM117 584h16v3h-16zM117 590h16v7h-16zM117 670h16v4h-16zM117 707h16v3h-16zM133 574h16v3h-16zM133 614h16v3h-16zM133 694h16v3h-16zM149 617h16v3h-16zM165 640h16v4h-16zM165 680h16v4h-16zM213 704h16v3h-16zM278 723h16v4h-16zM375 707h16v3h-16zM407 717h16v3h-16zM552 700h16v4h-16zM649 727h16v3h-16zM697 723h16v4h-16zM778 670h16v4h-16zM794 657h16v3h-16zM826 614h16v3h-16zM842 570h16v4h-16zM842 577h16v3h-16zM842 697h16v3h-16zM858 590h16v4h-16zM858 630h16v4h-16zM874 244h17v3h-17zM874 424h17v3h-17zM874 517h17v3h-17zM874 524h17v3h-17zM874 610h17v4h-17z"/><path fill="#f66808" d="M101 227h16v3h-16zM101 594h16v3h-16zM101 667h16v3h-16zM117 484h16v3h-16zM117 497h16v3h-16zM117 544h16v3h-16zM117 627h16v3h-16zM133 607h16v3h-16zM133 717h16v3h-16zM149 684h16v3h-16zM165 710h16v3h-16zM229 707h17v3h-17zM246 670h16v4h-16zM262 677h16v3h-16zM326 677h16v3h-16zM326 720h16v3h-16zM423 730h16v3h-16zM487 700h17v4h-17zM600 694h16v3h-16zM649 720h16v3h-16zM681 717h16v3h-16zM697 707h16v3h-16zM745 727h17v3h-17zM762 677h16v3h-16zM762 704h16v3h-16zM778 667h16v3h-16zM778 684h16v3h-16zM778 710h16v3h-16zM794 690h16v4h-16zM794 704h16v3h-16zM794 730h16v3h-16zM810 680h16v4h-16zM826 617h16v3h-16zM842 574h16v3h-16zM858 627h16v3h-16zM858 634h16v3h-16zM858 707h16v3h-16zM874 144h17v3h-17zM874 327h17v3h-17zM874 337h17v3h-17zM874 440h17v4h-17zM874 514h17v3h-17z"/><path fill="#f2830c" d="M101 230h16v4h-16zM101 324h16v3h-16zM101 410h16v4h-16zM101 500h16v4h-16zM117 334h16v3h-16zM117 580h16v4h-16zM133 597h16v3h-16zM133 627h16v3h-16zM149 610h16v4h-16zM149 660h16v4h-16zM149 723h16v4h-16zM181 670h16v4h-16zM213 700h16v4h-16zM213 723h16v4h-16zM294 684h16v3h-16zM391 723h16v4h-16zM552 730h16v3h-16zM633 727h16v3h-16zM665 710h16v3h-16zM729 700h16v4h-16zM745 664h17v3h-17zM794 670h16v4h-16zM810 657h16v3h-16zM810 697h16v3h-16zM826 634h16v3h-16zM842 564h16v6h-16zM842 607h16v3h-16zM842 717h16v3h-16zM858 447h16v3h-16zM858 477h16v3h-16zM858 487h16v3h-16zM858 580h16v4h-16zM874 217h17v3h-17zM874 230h17v4h-17zM874 310h17v7h-17zM874 587h17v3h-17zM874 597h17v3h-17zM874 670h17v4h-17z"/><path fill="#f37a0b" d="M101 234h16v3h-16zM101 330h16v4h-16zM101 417h16v3h-16zM101 517h16v3h-16zM117 477h16v3h-16zM117 534h16v3h-16zM117 667h16v3h-16zM133 464h16v3h-16zM133 637h16v3h-16zM165 637h16v3h-16zM165 727h16v3h-16zM197 624h16v3h-16zM197 710h16v3h-16zM278 730h16v3h-16zM439 707h16v3h-16zM471 723h16v4h-16zM487 723h17v4h-17zM552 717h16v3h-16zM568 697h16v3h-16zM713 704h16v3h-16zM729 670h16v4h-16zM745 694h17v3h-17zM810 577h16v3h-16zM810 640h16v4h-16zM826 723h16v4h-16zM842 664h16v3h-16zM858 537h16v3h-16zM858 624h16v3h-16zM874 210h17v4h-17zM874 320h17v4h-17zM874 600h17v4h-17zM874 664h17v3h-17zM874 713h17v4h-17z"/><path fill="#f18c0d" d="M101 240h16v4h-16zM101 320h16v4h-16zM101 404h16v3h-16zM101 424h16v3h-16zM101 590h16v4h-16zM117 704h16v3h-16zM133 604h16v3h-16zM149 634h16v3h-16zM149 704h16v3h-16zM181 604h16v3h-16zM181 730h16v3h-16zM197 590h16v4h-16zM262 720h16v3h-16zM326 700h16v4h-16zM358 704h17v3h-17zM375 694h16v3h-16zM455 717h16v3h-16zM504 723h16v4h-16zM568 717h16v3h-16zM584 723h16v4h-16zM616 704h17v3h-17zM649 677h16v3h-16zM665 697h16v3h-16zM762 654h16v3h-16zM778 624h16v3h-16zM794 687h16v3h-16zM810 677h16v3h-16zM810 727h16v3h-16zM826 537h16v3h-16zM826 607h16v3h-16zM826 657h16v3h-16zM826 707h16v3h-16zM842 470h16v4h-16zM858 660h16v4h-16zM858 667h16v3h-16zM858 704h16v3h-16zM858 730h16v3h-16zM874 140h17v4h-17zM874 304h17v3h-17zM874 417h17v3h-17zM874 500h17v4h-17z"/><path fill="#f73000" d="M101 254h16v3h-16zM101 340h16v4h-16zM101 370h16v4h-16zM101 457h16v7h-16zM101 530h16v4h-16zM101 610h16v4h-16zM101 620h16v4h-16zM101 680h16v4h-16zM117 554h16v6h-16zM117 587h16v3h-16zM117 677h16v3h-16zM133 670h16v4h-16zM149 640h16v4h-16zM149 670h16v4h-16zM165 730h16v3h-16zM181 657h16v3h-16zM197 687h16v3h-16zM229 697h17v7h-17zM229 727h17v3h-17zM262 730h16v3h-16zM294 710h16v3h-16zM407 730h16v3h-16zM439 727h16v3h-16zM471 720h16v3h-16zM536 727h16v3h-16zM713 713h16v4h-16zM729 694h16v3h-16zM762 717h16v3h-16zM794 694h16v3h-16zM810 647h16v3h-16zM826 690h16v4h-16zM842 580h16v7h-16zM842 670h16v4h-16zM874 164h17v3h-17zM874 257h17v3h-17zM874 270h17v4h-17zM874 370h17v4h-17zM874 454h17v3h-17zM874 534h17v10h-17zM874 604h17v3h-17zM874 624h17v3h-17zM874 723h17v4h-17z"/><path fill="#ef2d00" d="M101 270h16v4h-16zM101 360h16v4h-16zM101 367h16v3h-16zM101 454h16v3h-16zM101 544h16v3h-16zM101 674h16v3h-16zM117 447h16v3h-16zM117 710h16v3h-16zM133 617h16v3h-16zM133 647h16v3h-16zM149 647h16v3h-16zM149 694h16v3h-16zM149 710h16v3h-16zM149 727h16v3h-16zM197 670h16v4h-16zM197 700h16v4h-16zM213 694h16v3h-16zM246 730h16v3h-16zM310 727h16v3h-16zM342 717h16v3h-16zM407 710h16v3h-16zM665 720h16v3h-16zM713 730h16v3h-16zM745 687h17v3h-17zM762 727h16v3h-16zM810 667h16v3h-16zM858 557h16v3h-16zM858 677h16v7h-16zM874 260h17v7h-17zM874 457h17v3h-17zM874 530h17v4h-17zM874 544h17v3h-17zM874 627h17v3h-17z"/><path fill="#e2e41b" d="M101 277h16v7h-16zM101 490h16v4h-16zM101 574h16v3h-16zM117 217h16v3h-16zM117 464h16v3h-16zM117 727h16v3h-16zM133 447h16v3h-16zM133 457h16v7h-16zM133 510h16v4h-16zM133 560h16v4h-16zM133 713h16v4h-16zM149 480h16v4h-16zM149 557h16v3h-16zM149 564h16v3h-16zM165 674h16v3h-16zM181 480h16v4h-16zM181 564h16v3h-16zM181 617h16v3h-16zM197 554h16v3h-16zM197 587h16v3h-16zM197 637h16v3h-16zM213 620h16v7h-16zM246 664h16v3h-16zM246 677h16v3h-16zM246 707h16v3h-16zM246 717h16v3h-16zM262 684h16v3h-16zM262 700h16v4h-16zM294 664h16v3h-16zM310 654h16v3h-16zM310 694h16v3h-16zM358 570h17v4h-17zM358 687h17v3h-17zM358 710h17v3h-17zM358 727h17v3h-17zM375 657h16v3h-16zM375 710h16v3h-16zM391 700h16v4h-16zM423 694h16v3h-16zM455 667h16v3h-16zM455 723h16v4h-16zM552 667h16v3h-16zM552 694h16v3h-16zM568 664h16v3h-16zM568 704h16v3h-16zM600 664h16v3h-16zM633 700h16v4h-16zM649 667h16v3h-16zM665 680h16v4h-16zM681 627h16v3h-16zM697 660h16v4h-16zM697 720h16v3h-16zM713 627h16v3h-16zM729 717h16v3h-16zM762 644h16v3h-16zM794 624h16v3h-16zM826 567h16v3h-16zM842 500h16v4h-16zM842 624h16v3h-16zM858 187h16v3h-16zM858 380h16v4h-16zM858 464h16v3h-16zM858 567h16v3h-16zM858 664h16v3h-16zM874 187h17v3h-17zM874 380h17v4h-17zM874 387h17v3h-17zM874 570h17v4h-17zM874 647h17v3h-17zM874 654h17v3h-17z"/><path fill="#e1ed1c" d="M101 284h16v3h-16zM101 300h16v4h-16zM101 387h16v3h-16zM117 560h16v4h-16zM117 660h16v7h-16zM133 377h16v3h-16zM133 387h16v3h-16zM133 504h16v3h-16zM133 587h16v3h-16zM149 554h16v3h-16zM165 474h16v10h-16zM165 527h16v3h-16zM181 524h16v3h-16zM197 550h16v4h-16zM197 634h16v3h-16zM213 697h16v3h-16zM229 630h17v4h-17zM229 637h17v3h-17zM229 670h17v4h-17zM229 690h17v4h-17zM246 620h16v4h-16zM262 630h16v4h-16zM294 627h16v3h-16zM294 677h16v3h-16zM310 680h16v4h-16zM342 710h16v3h-16zM423 667h16v3h-16zM423 680h16v4h-16zM520 690h16v4h-16zM568 630h16v4h-16zM584 660h16v4h-16zM616 660h17v4h-17zM616 727h17v3h-17zM633 640h16v4h-16zM665 607h16v3h-16zM665 670h16v4h-16zM665 694h16v3h-16zM681 597h16v3h-16zM681 664h16v6h-16zM697 687h16v3h-16zM713 684h16v3h-16zM729 594h16v3h-16zM729 620h16v4h-16zM729 644h16v3h-16zM729 664h16v3h-16zM745 607h17v3h-17zM745 630h17v4h-17zM745 657h17v3h-17zM745 690h17v4h-17zM745 723h17v4h-17zM810 370h16v4h-16zM810 477h16v3h-16zM810 587h16v3h-16zM810 594h16v3h-16zM810 690h16v4h-16zM826 417h16v3h-16zM826 470h16v4h-16zM826 677h16v3h-16zM842 377h16v3h-16zM842 390h16v4h-16zM842 450h16v4h-16zM842 504h16v3h-16zM842 687h16v3h-16zM858 220h16v4h-16zM858 377h16v3h-16zM858 564h16v3h-16z"/><path fill="#cdfb2f" d="M101 287h16v3h-16zM117 364h16v3h-16zM117 394h16v3h-16zM133 287h16v3h-16zM133 654h16v3h-16zM149 404h16v3h-16zM165 587h16v3h-16zM197 650h16v4h-16zM213 360h16v4h-16zM278 507h16v3h-16zM278 564h16v3h-16zM278 697h16v3h-16zM294 577h16v3h-16zM342 684h16v3h-16zM375 697h16v3h-16zM391 710h16v3h-16zM407 630h16v4h-16zM423 607h16v3h-16zM439 664h16v3h-16zM455 650h16v4h-16zM487 650h17v4h-17zM504 680h16v4h-16zM616 720h17v3h-17zM649 587h16v3h-16zM649 634h16v3h-16zM729 640h16v4h-16zM729 680h16v4h-16zM745 520h17v4h-17zM745 634h17v3h-17zM762 640h16v4h-16zM778 600h16v4h-16zM794 474h16v6h-16zM794 617h16v3h-16zM810 327h16v3h-16zM810 417h16v3h-16zM826 477h16v3h-16zM858 610h16v4h-16zM874 564h17v3h-17z"/><path fill="#e4dc19" d="M101 297h16v3h-16zM101 307h16v3h-16zM101 647h16v3h-16zM117 294h16v3h-16zM117 614h16v3h-16zM117 657h16v3h-16zM133 300h16v4h-16zM133 450h16v4h-16zM149 630h16v4h-16zM165 594h16v3h-16zM165 600h16v4h-16zM165 670h16v4h-16zM181 557h16v3h-16zM278 640h16v4h-16zM278 687h16v3h-16zM310 723h16v4h-16zM342 670h16v4h-16zM358 524h17v3h-17zM358 660h17v4h-17zM358 690h17v4h-17zM375 704h16v3h-16zM391 647h16v3h-16zM471 694h16v3h-16zM504 670h16v4h-16zM504 713h16v4h-16zM520 650h16v4h-16zM520 667h16v3h-16zM520 723h16v4h-16zM536 723h16v4h-16zM616 710h17v3h-17zM633 670h16v4h-16zM633 687h16v3h-16zM649 664h16v3h-16zM681 690h16v4h-16zM681 730h16v3h-16zM697 617h16v3h-16zM713 650h16v4h-16zM713 710h16v3h-16zM762 697h16v3h-16zM810 524h16v3h-16zM826 480h16v4h-16zM826 600h16v4h-16zM842 304h16v3h-16zM842 447h16v3h-16zM842 560h16v4h-16zM842 657h16v3h-16zM842 713h16v4h-16zM858 320h16v4h-16zM858 397h16v3h-16zM858 467h16v3h-16zM858 614h16v3h-16zM874 710h17v3h-17z"/><path fill="#e82900" d="M101 374h16v3h-16zM101 447h16v3h-16zM101 464h16v3h-16zM101 470h16v4h-16zM101 537h16v3h-16zM101 550h16v4h-16zM101 614h16v3h-16zM101 670h16v4h-16zM101 684h16v3h-16zM101 723h16v4h-16zM117 600h16v4h-16zM117 637h16v3h-16zM117 644h16v3h-16zM149 644h16v3h-16zM165 647h16v3h-16zM165 664h16v3h-16zM165 684h16v3h-16zM181 680h16v4h-16zM181 720h16v3h-16zM197 674h16v3h-16zM213 717h16v3h-16zM246 704h16v3h-16zM262 723h16v4h-16zM294 727h16v3h-16zM326 694h16v3h-16zM391 730h16v3h-16zM616 723h17v4h-17zM665 690h16v4h-16zM665 727h16v3h-16zM713 723h16v4h-16zM762 680h16v4h-16zM778 723h16v4h-16zM794 677h16v3h-16zM826 650h16v4h-16zM826 667h16v3h-16zM842 614h16v3h-16zM842 680h16v4h-16zM842 700h16v7h-16zM858 497h16v3h-16zM858 604h16v3h-16zM858 644h16v3h-16zM858 650h16v4h-16zM874 460h17v4h-17zM874 467h17v3h-17zM874 547h17v3h-17z"/><path fill="#f57109" d="M101 414h16v3h-16zM101 420h16v4h-16zM101 434h16v3h-16zM101 520h16v4h-16zM101 597h16v3h-16zM117 630h16v4h-16zM165 697h16v3h-16zM181 687h16v3h-16zM181 704h16v3h-16zM229 664h17v3h-17zM246 720h16v3h-16zM262 704h16v3h-16zM278 680h16v4h-16zM326 660h16v4h-16zM391 707h16v3h-16zM423 700h16v4h-16zM439 717h16v3h-16zM649 660h16v4h-16zM745 707h17v3h-17zM778 720h16v3h-16zM826 610h16v4h-16zM826 660h16v4h-16zM826 680h16v4h-16zM842 634h16v3h-16zM858 490h16v4h-16zM858 584h16v3h-16zM858 670h16v4h-16zM874 227h17v3h-17zM874 234h17v3h-17zM874 250h17v4h-17zM874 324h17v3h-17zM874 660h17v4h-17z"/><path fill="#d82300" d="M101 467h16v3h-16zM101 540h16v4h-16zM101 554h16v3h-16zM101 630h16v4h-16zM101 687h16v3h-16zM101 727h16v3h-16zM117 640h16v4h-16zM133 704h16v3h-16zM149 674h16v3h-16zM149 713h16v4h-16zM165 667h16v3h-16zM213 707h16v3h-16zM213 727h16v3h-16zM262 707h16v3h-16zM310 713h16v4h-16zM375 730h16v3h-16zM504 720h16v3h-16zM600 730h16v3h-16zM633 717h16v3h-16zM713 707h16v3h-16zM745 710h17v3h-17zM794 710h16v3h-16zM826 730h16v3h-16zM842 723h16v4h-16zM858 507h16v3h-16zM858 687h16v3h-16zM874 374h17v3h-17zM874 550h17v7h-17zM874 620h17v4h-17z"/><path fill="#bdf840" d="M101 474h16v3h-16zM117 87h16v4h-16zM117 194h16v3h-16zM117 204h16v3h-16zM117 297h16v3h-16zM117 354h16v3h-16zM117 367h16v3h-16zM117 654h16v3h-16zM133 130h16v4h-16zM133 140h16v4h-16zM133 224h16v3h-16zM133 487h16v3h-16zM133 684h16v3h-16zM149 354h16v3h-16zM149 407h16v3h-16zM149 547h16v3h-16zM149 627h16v3h-16zM165 517h16v3h-16zM181 327h16v3h-16zM197 517h16v3h-16zM197 570h16v4h-16zM197 657h16v3h-16zM197 730h16v3h-16zM213 560h16v4h-16zM229 494h17v3h-17zM229 674h17v3h-17zM262 484h16v6h-16zM262 620h16v4h-16zM262 680h16v4h-16zM278 550h16v4h-16zM278 630h16v4h-16zM294 690h16v4h-16zM310 704h16v3h-16zM326 534h16v3h-16zM326 707h16v3h-16zM391 624h16v3h-16zM439 627h16v3h-16zM439 634h16v3h-16zM471 570h16v4h-16zM520 544h16v3h-16zM520 614h16v3h-16zM536 634h16v3h-16zM552 514h16v3h-16zM568 720h16v3h-16zM584 687h16v3h-16zM584 720h16v3h-16zM600 657h16v3h-16zM600 710h16v3h-16zM616 620h17v4h-17zM649 604h16v3h-16zM649 680h16v4h-16zM697 604h16v3h-16zM697 657h16v3h-16zM713 680h16v4h-16zM713 727h16v3h-16zM729 614h16v6h-16zM745 654h17v3h-17zM762 460h16v4h-16zM762 620h16v4h-16zM778 327h16v3h-16zM778 530h16v4h-16zM778 594h16v3h-16zM794 514h16v3h-16zM810 194h16v3h-16zM810 470h16v7h-16zM810 670h16v4h-16zM826 280h16v4h-16zM826 554h16v3h-16zM842 384h16v3h-16zM842 487h16v3h-16zM842 590h16v4h-16zM858 91h16v3h-16zM858 190h16v4h-16zM874 190h17v4h-17z"/><path fill="#e02600" d="M101 547h16v3h-16zM101 624h16v3h-16zM117 604h16v3h-16zM117 680h16v7h-16zM117 713h16v4h-16zM133 584h16v3h-16zM133 650h16v4h-16zM133 723h16v4h-16zM149 624h16v3h-16zM149 730h16v3h-16zM165 700h16v7h-16zM197 713h16v4h-16zM229 720h17v3h-17zM278 717h16v3h-16zM552 727h16v3h-16zM633 723h16v4h-16zM745 720h17v3h-17zM745 730h17v3h-17zM778 674h16v3h-16zM778 704h16v3h-16zM794 720h16v3h-16zM810 684h16v3h-16zM826 624h16v3h-16zM826 694h16v3h-16zM842 617h16v3h-16zM842 647h16v3h-16zM858 554h16v3h-16zM858 600h16v4h-16zM858 607h16v3h-16zM858 640h16v4h-16zM874 160h17v4h-17zM874 617h17v3h-17zM874 680h17v7h-17z"/><path fill="#d02000" d="M101 557h16v3h-16zM101 634h16v3h-16zM117 647h16v7h-16zM133 677h16v3h-16zM149 650h16v4h-16zM165 687h16v3h-16zM181 710h16v3h-16zM213 680h16v4h-16zM229 730h17v3h-17zM246 713h16v4h-16zM262 717h16v3h-16zM278 710h16v3h-16zM310 720h16v3h-16zM358 723h17v4h-17zM358 730h17v3h-17zM375 720h16v3h-16zM423 727h16v3h-16zM600 720h16v3h-16zM697 710h16v3h-16zM729 723h16v4h-16zM729 730h16v3h-16zM778 700h16v4h-16zM794 680h16v4h-16zM810 687h16v3h-16zM810 704h16v3h-16zM842 677h16v3h-16zM858 647h16v3h-16zM874 464h17v3h-17zM874 470h17v4h-17zM874 557h17v3h-17zM874 727h17v3h-17z"/><path fill="#c81d00" d="M101 560h16v4h-16zM101 617h16v3h-16zM117 687h16v7h-16zM133 707h16v3h-16zM181 697h16v3h-16zM181 723h16v4h-16zM197 704h16v3h-16zM213 720h16v3h-16zM246 723h16v4h-16zM342 723h16v4h-16zM407 727h16v3h-16zM649 717h16v3h-16zM681 720h16v3h-16zM762 720h16v3h-16zM778 713h16v4h-16zM778 727h16v3h-16zM794 723h16v4h-16zM810 720h16v3h-16zM810 730h16v3h-16zM826 674h16v3h-16zM826 713h16v4h-16zM858 684h16v3h-16zM858 713h16v4h-16zM874 560h17v4h-17zM874 630h17v4h-17z"/><path fill="#c11a00" d="M101 627h16v3h-16zM117 607h16v3h-16zM165 720h16v3h-16zM181 727h16v3h-16zM197 717h16v3h-16zM197 727h16v3h-16zM213 730h16v3h-16zM294 720h16v3h-16zM568 727h16v3h-16zM616 730h17v3h-17zM649 723h16v4h-16zM681 727h16v3h-16zM729 713h16v4h-16zM794 697h16v3h-16zM826 697h16v3h-16zM842 650h16v4h-16zM842 707h16v3h-16zM858 690h16v4h-16zM874 634h17v6h-17z"/><path fill="#b91600" d="M101 637h16v3h-16zM101 694h16v3h-16zM101 700h16v4h-16zM101 730h16v3h-16zM117 717h16v6h-16zM133 680h16v4h-16zM133 727h16v3h-16zM149 697h16v3h-16zM149 717h16v3h-16zM278 727h16v3h-16zM326 717h16v3h-16zM391 727h16v3h-16zM713 717h16v3h-16zM778 717h16v3h-16zM810 707h16v3h-16zM858 717h16v6h-16zM874 640h17v4h-17zM874 687h17v7h-17z"/><path fill="#a91000" d="M101 640h16v4h-16zM326 730h16v3h-16zM342 730h16v3h-16zM633 730h16v3h-16zM649 730h16v3h-16zM762 730h16v3h-16zM794 727h16v3h-16zM874 700h17v4h-17zM874 730h17v3h-17z"/><path fill="#b11300" d="M101 690h16v4h-16zM165 707h16v3h-16zM165 723h16v4h-16zM326 723h16v4h-16zM584 727h16v3h-16zM600 727h16v3h-16zM697 727h16v3h-16zM810 723h16v4h-16zM826 717h16v3h-16zM842 727h16v3h-16zM874 694h17v6h-17z"/><path fill="#a10d00" d="M101 697h16v3h-16zM101 704h16v3h-16zM117 723h16v4h-16zM133 730h16v3h-16zM842 730h16v3h-16zM858 723h16v4h-16zM874 704h17v3h-17z"/><path fill="#7be982" d="M117 81h16v3h-16zM117 267h16v3h-16zM117 370h16v4h-16zM133 81h16v3h-16zM133 110h16v4h-16zM133 217h16v3h-16zM133 474h16v3h-16zM133 537h16v3h-16zM149 114h16v6h-16zM149 177h16v3h-16zM149 324h16v3h-16zM149 410h16v4h-16zM149 424h16v3h-16zM149 464h16v3h-16zM165 150h16v4h-16zM165 350h16v4h-16zM165 484h16v3h-16zM181 117h16v3h-16zM181 360h16v4h-16zM181 540h16v4h-16zM197 297h16v3h-16zM197 404h16v3h-16zM197 487h16v3h-16zM197 527h16v10h-16zM197 617h16v3h-16zM213 300h16v4h-16zM213 447h16v3h-16zM213 554h16v3h-16zM229 150h17v4h-17zM229 504h17v3h-17zM229 627h17v3h-17zM246 417h16v3h-16zM246 477h16v3h-16zM246 530h16v4h-16zM246 657h16v3h-16zM262 410h16v4h-16zM262 467h16v3h-16zM262 570h16v4h-16zM262 644h16v3h-16zM278 650h16v4h-16zM294 700h16v4h-16zM310 514h16v3h-16zM310 544h16v3h-16zM310 567h16v3h-16zM310 597h16v3h-16zM310 657h16v3h-16zM310 674h16v3h-16zM326 467h16v3h-16zM326 640h16v4h-16zM326 654h16v3h-16zM342 497h16v3h-16zM342 524h16v3h-16zM342 580h16v4h-16zM342 610h16v4h-16zM358 514h17v3h-17zM358 537h17v7h-17zM358 547h17v3h-17zM358 634h17v3h-17zM358 680h17v4h-17zM358 707h17v3h-17zM375 634h16v3h-16zM391 190h16v4h-16zM391 594h16v3h-16zM407 637h16v3h-16zM407 674h16v3h-16zM423 527h16v3h-16zM439 264h16v3h-16zM439 527h16v3h-16zM439 687h16v3h-16zM439 700h16v4h-16zM455 564h16v3h-16zM455 677h16v3h-16zM471 420h16v4h-16zM471 610h16v4h-16zM487 564h17v3h-17zM487 597h17v3h-17zM504 564h16v3h-16zM504 594h16v3h-16zM504 627h16v3h-16zM504 644h16v3h-16zM504 674h16v3h-16zM520 564h16v3h-16zM520 607h16v3h-16zM520 677h16v3h-16zM520 700h16v4h-16zM536 374h16v3h-16zM552 504h16v3h-16zM568 674h16v3h-16zM584 467h16v3h-16zM584 617h16v3h-16zM584 654h16v3h-16zM584 684h16v3h-16zM600 587h16v3h-16zM600 670h16v4h-16zM616 614h17v3h-17zM633 114h16v3h-16zM633 484h16v3h-16zM633 560h16v4h-16zM633 580h16v4h-16zM649 114h16v3h-16zM649 244h16v3h-16zM649 574h16v3h-16zM649 690h16v4h-16zM681 370h16v4h-16zM681 500h16v7h-16zM681 530h16v7h-16zM681 587h16v3h-16zM681 614h16v3h-16zM681 630h16v4h-16zM697 664h16v3h-16zM713 214h16v3h-16zM713 484h16v3h-16zM713 507h16v3h-16zM729 294h16v3h-16zM729 414h16v3h-16zM729 460h16v4h-16zM729 487h16v3h-16zM729 547h16v3h-16zM745 307h17v3h-17zM745 384h17v3h-17zM762 340h16v4h-16zM762 407h16v3h-16zM762 547h16v3h-16zM778 360h16v4h-16zM778 397h16v3h-16zM778 460h16v4h-16zM778 644h16v3h-16zM794 120h16v4h-16zM794 184h16v3h-16zM794 254h16v3h-16zM794 457h16v3h-16zM810 167h16v3h-16zM810 240h16v4h-16zM810 494h16v3h-16zM810 580h16v4h-16zM826 107h16v3h-16zM826 117h16v3h-16zM826 274h16v3h-16zM826 397h16v3h-16zM842 87h16v4h-16zM858 81h16v3h-16zM858 87h16v4h-16zM858 340h16v4h-16z"/><path fill="#9cf161" d="M117 84h16v3h-16zM117 91h16v3h-16zM117 344h16v3h-16zM117 360h16v4h-16zM133 127h16v3h-16zM133 137h16v3h-16zM133 214h16v3h-16zM133 220h16v4h-16zM133 284h16v3h-16zM149 224h16v3h-16zM149 287h16v3h-16zM149 540h16v4h-16zM149 550h16v4h-16zM165 374h16v3h-16zM181 544h16v3h-16zM181 574h16v3h-16zM181 610h16v4h-16zM181 644h16v3h-16zM197 454h16v3h-16zM197 494h16v3h-16zM197 564h16v3h-16zM197 604h16v3h-16zM197 647h16v3h-16zM229 477h17v3h-17zM229 577h17v3h-17zM246 500h16v4h-16zM246 567h16v3h-16zM262 727h16v3h-16zM278 527h16v3h-16zM278 627h16v3h-16zM278 670h16v4h-16zM294 534h16v3h-16zM294 544h16v3h-16zM294 594h16v3h-16zM294 610h16v4h-16zM294 634h16v6h-16zM310 517h16v3h-16zM310 620h16v7h-16zM310 700h16v4h-16zM326 530h16v4h-16zM326 630h16v7h-16zM342 597h16v3h-16zM342 667h16v3h-16zM375 397h16v3h-16zM375 570h16v4h-16zM375 700h16v4h-16zM391 497h16v3h-16zM391 614h16v3h-16zM407 580h16v4h-16zM407 657h16v3h-16zM423 647h16v3h-16zM439 587h16v3h-16zM439 713h16v4h-16zM455 644h16v3h-16zM487 390h17v4h-17zM487 450h17v4h-17zM487 570h17v4h-17zM487 677h17v3h-17zM504 677h16v3h-16zM520 487h16v3h-16zM520 624h16v3h-16zM536 677h16v3h-16zM552 647h16v3h-16zM552 720h16v3h-16zM568 560h16v4h-16zM568 604h16v3h-16zM568 624h16v3h-16zM568 687h16v3h-16zM600 510h16v4h-16zM600 654h16v3h-16zM600 684h16v3h-16zM600 700h16v4h-16zM616 564h17v3h-17zM633 630h16v4h-16zM649 560h16v4h-16zM665 344h16v3h-16zM665 590h16v4h-16zM665 640h16v4h-16zM665 707h16v3h-16zM681 544h16v3h-16zM697 547h16v3h-16zM713 487h16v3h-16zM713 637h16v3h-16zM729 590h16v4h-16zM729 657h16v3h-16zM745 624h17v3h-17zM762 444h16v3h-16zM762 520h16v4h-16zM762 557h16v3h-16zM762 590h16v4h-16zM778 417h16v7h-16zM778 567h16v3h-16zM778 730h16v3h-16zM794 437h16v3h-16zM794 570h16v4h-16zM810 237h16v3h-16zM826 334h16v3h-16zM826 340h16v4h-16zM826 550h16v4h-16zM842 294h16v3h-16zM842 367h16v3h-16zM858 84h16v3h-16zM858 97h16v3h-16zM858 177h16v3h-16zM858 194h16v3h-16zM858 204h16v6h-16zM858 350h16v7h-16z"/><path fill="#adf450" d="M117 94h16v3h-16zM117 164h16v3h-16zM117 220h16v4h-16zM133 204h16v3h-16zM133 304h16v3h-16zM133 310h16v4h-16zM133 367h16v3h-16zM133 424h16v3h-16zM149 394h16v3h-16zM165 427h16v3h-16zM181 374h16v3h-16zM181 477h16v3h-16zM197 450h16v4h-16zM197 630h16v4h-16zM213 497h16v3h-16zM213 527h16v3h-16zM213 587h16v3h-16zM213 610h16v4h-16zM213 644h16v3h-16zM229 580h17v4h-17zM246 524h16v3h-16zM246 674h16v3h-16zM262 524h16v3h-16zM262 647h16v3h-16zM278 424h16v3h-16zM278 457h16v3h-16zM278 607h16v3h-16zM326 667h16v3h-16zM326 680h16v4h-16zM375 670h16v4h-16zM407 600h16v4h-16zM423 660h16v4h-16zM487 594h17v3h-17zM504 610h16v4h-16zM504 647h16v3h-16zM504 727h16v3h-16zM536 587h16v3h-16zM536 713h16v4h-16zM552 640h16v4h-16zM552 674h16v3h-16zM584 710h16v3h-16zM616 674h17v3h-17zM616 697h17v3h-17zM633 500h16v4h-16zM633 660h16v4h-16zM649 577h16v3h-16zM665 577h16v3h-16zM665 624h16v3h-16zM681 514h16v3h-16zM681 657h16v3h-16zM697 560h16v7h-16zM697 584h16v3h-16zM697 647h16v3h-16zM713 544h16v3h-16zM729 637h16v3h-16zM745 604h17v3h-17zM745 670h17v4h-17zM762 464h16v3h-16zM762 490h16v4h-16zM762 524h16v3h-16zM762 617h16v3h-16zM762 660h16v4h-16zM778 570h16v4h-16zM794 504h16v3h-16zM810 377h16v3h-16zM810 480h16v4h-16zM826 224h16v3h-16zM826 347h16v3h-16zM826 410h16v4h-16zM842 290h16v4h-16zM842 364h16v3h-16zM842 494h16v3h-16zM858 94h16v3h-16zM858 174h16v3h-16zM858 217h16v3h-16zM858 367h16v3h-16zM858 374h16v3h-16zM858 560h16v4h-16zM874 177h17v3h-17zM874 377h17v3h-17zM874 474h17v6h-17z"/><path fill="#8ced72" d="M117 97h16v3h-16zM117 174h16v6h-16zM117 357h16v3h-16zM117 414h16v3h-16zM133 207h16v7h-16zM133 294h16v3h-16zM149 120h16v4h-16zM149 217h16v3h-16zM149 484h16v3h-16zM149 507h16v3h-16zM149 580h16v4h-16zM149 590h16v4h-16zM165 164h16v6h-16zM165 287h16v3h-16zM165 300h16v4h-16zM165 420h16v4h-16zM165 467h16v7h-16zM165 497h16v3h-16zM165 624h16v3h-16zM181 490h16v4h-16zM181 514h16v3h-16zM181 570h16v4h-16zM181 584h16v3h-16zM197 497h16v3h-16zM197 537h16v3h-16zM213 354h16v3h-16zM213 474h16v3h-16zM213 590h16v4h-16zM213 660h16v4h-16zM229 334h17v3h-17zM229 507h17v3h-17zM229 597h17v7h-17zM229 650h17v4h-17zM246 460h16v4h-16zM246 654h16v3h-16zM262 504h16v3h-16zM262 617h16v3h-16zM278 160h16v4h-16zM278 664h16v3h-16zM294 480h16v4h-16zM294 510h16v4h-16zM294 567h16v3h-16zM294 687h16v3h-16zM326 704h16v3h-16zM342 564h16v3h-16zM342 614h16v3h-16zM342 647h16v3h-16zM358 654h17v3h-17zM358 684h17v3h-17zM391 687h16v3h-16zM391 697h16v3h-16zM407 500h16v4h-16zM423 640h16v4h-16zM455 587h16v3h-16zM455 630h16v4h-16zM471 534h16v3h-16zM471 564h16v3h-16zM471 587h16v3h-16zM471 624h16v3h-16zM471 647h16v3h-16zM487 494h17v3h-17zM487 687h17v3h-17zM504 490h16v4h-16zM520 454h16v3h-16zM520 510h16v4h-16zM520 660h16v4h-16zM536 644h16v3h-16zM536 710h16v3h-16zM552 450h16v4h-16zM552 560h16v4h-16zM568 510h16v4h-16zM584 604h16v3h-16zM584 624h16v3h-16zM584 637h16v3h-16zM584 657h16v3h-16zM584 670h16v4h-16zM633 447h16v3h-16zM633 510h16v4h-16zM649 504h16v3h-16zM665 627h16v3h-16zM665 657h16v3h-16zM681 697h16v3h-16zM697 257h16v3h-16zM713 647h16v3h-16zM713 664h16v3h-16zM729 654h16v3h-16zM745 574h17v3h-17zM745 627h17v3h-17zM745 647h17v7h-17zM762 327h16v3h-16zM762 354h16v3h-16zM762 527h16v3h-16zM762 580h16v4h-16zM762 587h16v3h-16zM762 657h16v3h-16zM778 367h16v3h-16zM778 494h16v3h-16zM794 257h16v3h-16zM794 324h16v6h-16zM794 540h16v7h-16zM794 574h16v3h-16zM810 244h16v3h-16zM810 294h16v3h-16zM810 620h16v4h-16zM826 337h16v3h-16zM826 407h16v3h-16zM826 490h16v4h-16zM826 544h16v3h-16zM842 140h16v4h-16zM842 207h16v3h-16zM842 274h16v3h-16zM842 284h16v3h-16zM842 357h16v7h-16zM858 180h16v4h-16zM858 264h16v3h-16z"/><path fill="#00a9e8" d="M117 104h16v3h-16zM149 127h16v3h-16zM149 200h16v4h-16zM165 144h16v3h-16zM165 177h16v3h-16zM165 190h16v4h-16zM165 364h16v3h-16zM165 410h16v4h-16zM181 87h16v4h-16zM181 100h16v4h-16zM181 320h16v4h-16zM181 357h16v3h-16zM181 420h16v10h-16zM197 94h16v3h-16zM197 314h16v3h-16zM197 507h16v3h-16zM213 97h16v3h-16zM213 154h16v3h-16zM213 260h16v4h-16zM213 424h16v3h-16zM229 91h17v3h-17zM229 200h17v4h-17zM229 247h17v3h-17zM229 260h17v4h-17zM229 680h17v4h-17zM246 114h16v3h-16zM246 244h16v3h-16zM246 284h16v3h-16zM246 430h16v4h-16zM246 494h16v3h-16zM262 140h16v4h-16zM262 260h16v4h-16zM262 324h16v3h-16zM262 407h16v3h-16zM262 667h16v3h-16zM278 167h16v3h-16zM278 400h16v4h-16zM294 81h16v3h-16zM294 87h16v4h-16zM294 190h16v4h-16zM294 207h16v3h-16zM294 287h16v7h-16zM294 410h16v4h-16zM294 590h16v4h-16zM294 600h16v4h-16zM310 117h16v3h-16zM310 134h16v3h-16zM310 200h16v4h-16zM310 257h16v3h-16zM310 264h16v3h-16zM310 270h16v4h-16zM310 370h16v4h-16zM310 424h16v3h-16zM326 97h16v7h-16zM326 107h16v3h-16zM326 177h16v3h-16zM326 190h16v4h-16zM326 277h16v7h-16zM326 317h16v3h-16zM326 397h16v3h-16zM326 404h16v3h-16zM342 204h16v3h-16zM342 240h16v4h-16zM342 284h16v3h-16zM342 320h16v4h-16zM342 334h16v3h-16zM342 344h16v3h-16zM342 377h16v3h-16zM342 450h16v4h-16zM358 94h17v3h-17zM358 147h17v3h-17zM358 170h17v4h-17zM358 180h17v4h-17zM358 387h17v3h-17zM358 417h17v3h-17zM358 497h17v3h-17zM358 590h17v4h-17zM358 670h17v4h-17zM375 307h16v3h-16zM375 600h16v4h-16zM375 614h16v3h-16zM391 230h16v4h-16zM391 297h16v3h-16zM391 324h16v3h-16zM391 407h16v3h-16zM391 414h16v3h-16zM391 470h16v4h-16zM407 137h16v3h-16zM407 167h16v3h-16zM407 197h16v3h-16zM407 314h16v3h-16zM407 347h16v3h-16zM407 470h16v4h-16zM423 91h16v3h-16zM423 134h16v6h-16zM423 270h16v4h-16zM423 380h16v4h-16zM423 437h16v3h-16zM423 484h16v3h-16zM423 500h16v4h-16zM423 567h16v3h-16zM423 604h16v3h-16zM439 190h16v7h-16zM439 334h16v3h-16zM439 377h16v3h-16zM439 424h16v3h-16zM455 240h16v4h-16zM455 264h16v3h-16zM455 397h16v3h-16zM455 584h16v3h-16zM455 617h16v3h-16zM471 134h16v3h-16zM471 197h16v3h-16zM471 240h16v4h-16zM471 360h16v4h-16zM471 540h16v4h-16zM487 154h17v3h-17zM487 197h17v3h-17zM487 394h17v3h-17zM487 424h17v3h-17zM487 460h17v4h-17zM487 717h17v3h-17zM504 207h16v3h-16zM504 247h16v3h-16zM504 487h16v3h-16zM520 107h16v3h-16zM520 144h16v3h-16zM520 394h16v3h-16zM520 507h16v3h-16zM520 534h16v3h-16zM520 694h16v3h-16zM536 91h16v3h-16zM536 250h16v4h-16zM536 480h16v4h-16zM536 537h16v3h-16zM536 667h16v3h-16zM552 84h16v3h-16zM552 147h16v3h-16zM552 190h16v4h-16zM552 227h16v3h-16zM552 250h16v4h-16zM552 260h16v4h-16zM552 314h16v3h-16zM552 340h16v4h-16zM552 347h16v3h-16zM552 424h16v3h-16zM552 537h16v3h-16zM568 87h16v4h-16zM568 184h16v3h-16zM568 264h16v3h-16zM568 274h16v3h-16zM568 297h16v3h-16zM568 304h16v3h-16zM568 360h16v4h-16zM568 420h16v4h-16zM568 467h16v3h-16zM568 514h16v3h-16zM584 87h16v4h-16zM584 224h16v3h-16zM584 244h16v3h-16zM584 354h16v3h-16zM584 377h16v3h-16zM584 414h16v3h-16zM584 620h16v4h-16zM600 110h16v4h-16zM600 117h16v3h-16zM600 464h16v3h-16zM616 154h17v3h-17zM616 227h17v3h-17zM616 234h17v3h-17zM616 390h17v4h-17zM633 217h16v3h-16zM633 230h16v4h-16zM633 267h16v3h-16zM633 287h16v3h-16zM633 330h16v4h-16zM633 370h16v4h-16zM633 404h16v3h-16zM633 414h16v3h-16zM633 487h16v3h-16zM633 514h16v3h-16zM649 160h16v4h-16zM649 170h16v4h-16zM649 420h16v4h-16zM649 444h16v3h-16zM649 470h16v4h-16zM649 557h16v3h-16zM649 584h16v3h-16zM665 117h16v3h-16zM665 287h16v3h-16zM665 350h16v4h-16zM665 397h16v3h-16zM665 450h16v4h-16zM665 494h16v3h-16zM665 554h16v3h-16zM681 94h16v3h-16zM681 194h16v3h-16zM681 210h16v4h-16zM681 247h16v3h-16zM681 300h16v4h-16zM681 414h16v3h-16zM681 524h16v3h-16zM697 114h16v3h-16zM697 164h16v6h-16zM697 177h16v7h-16zM697 204h16v3h-16zM697 314h16v3h-16zM697 674h16v3h-16zM713 117h16v3h-16zM713 237h16v3h-16zM713 424h16v3h-16zM713 450h16v4h-16zM713 550h16v4h-16zM713 634h16v3h-16zM729 204h16v3h-16zM729 247h16v3h-16zM745 147h17v3h-17zM745 227h17v3h-17zM762 144h16v3h-16zM762 187h16v3h-16zM762 217h16v3h-16zM762 297h16v3h-16zM778 314h16v6h-16zM794 647h16v3h-16zM810 114h16v3h-16zM810 364h16v3h-16zM826 134h16v3h-16zM826 194h16v3h-16zM826 210h16v4h-16zM842 180h16v4h-16zM858 117h16v3h-16z"/><path fill="#0083d2" d="M117 107h16v3h-16zM165 87h16v7h-16zM165 100h16v4h-16zM181 244h16v3h-16zM197 114h16v3h-16zM197 140h16v4h-16zM197 190h16v4h-16zM197 410h16v4h-16zM197 447h16v3h-16zM213 120h16v4h-16zM213 247h16v3h-16zM213 270h16v4h-16zM213 297h16v3h-16zM229 84h17v3h-17zM229 144h17v3h-17zM229 170h17v4h-17zM246 190h16v4h-16zM246 224h16v3h-16zM246 340h16v4h-16zM262 100h16v4h-16zM262 440h16v4h-16zM262 520h16v4h-16zM262 670h16v4h-16zM278 237h16v3h-16zM278 297h16v7h-16zM294 274h16v3h-16zM310 107h16v3h-16zM310 337h16v7h-16zM310 550h16v4h-16zM310 600h16v4h-16zM326 290h16v4h-16zM342 117h16v3h-16zM342 250h16v4h-16zM342 257h16v3h-16zM358 184h17v3h-17zM358 294h17v3h-17zM375 84h16v3h-16zM375 94h16v3h-16zM375 190h16v4h-16zM375 267h16v3h-16zM375 310h16v4h-16zM375 320h16v4h-16zM375 480h16v4h-16zM391 124h16v3h-16zM391 430h16v4h-16zM391 557h16v3h-16zM407 100h16v4h-16zM407 134h16v3h-16zM407 280h16v4h-16zM407 297h16v3h-16zM407 327h16v3h-16zM407 430h16v4h-16zM407 640h16v4h-16zM423 287h16v3h-16zM423 644h16v3h-16zM423 677h16v3h-16zM455 124h16v3h-16zM455 147h16v3h-16zM455 244h16v3h-16zM455 250h16v4h-16zM455 314h16v3h-16zM455 460h16v4h-16zM455 647h16v3h-16zM471 144h16v3h-16zM471 247h16v3h-16zM471 257h16v3h-16zM471 264h16v3h-16zM471 270h16v4h-16zM471 340h16v4h-16zM487 84h17v3h-17zM487 97h17v3h-17zM487 134h17v3h-17zM487 350h17v4h-17zM487 530h17v4h-17zM487 600h17v4h-17zM504 107h16v3h-16zM504 137h16v3h-16zM504 180h16v4h-16zM504 424h16v3h-16zM504 454h16v3h-16zM520 217h16v3h-16zM536 184h16v3h-16zM536 277h16v3h-16zM536 294h16v3h-16zM552 157h16v3h-16zM552 170h16v4h-16zM552 200h16v4h-16zM552 224h16v3h-16zM552 287h16v3h-16zM552 494h16v3h-16zM568 124h16v3h-16zM568 280h16v4h-16zM568 334h16v3h-16zM568 460h16v4h-16zM584 134h16v3h-16zM584 227h16v3h-16zM584 430h16v4h-16zM584 444h16v3h-16zM584 530h16v4h-16zM600 237h16v3h-16zM600 277h16v3h-16zM616 544h17v3h-17zM633 120h16v4h-16zM633 134h16v3h-16zM633 174h16v3h-16zM633 264h16v3h-16zM633 440h16v4h-16zM633 530h16v4h-16zM649 247h16v3h-16zM649 304h16v3h-16zM649 384h16v3h-16zM649 497h16v3h-16zM649 554h16v3h-16zM665 147h16v3h-16zM665 257h16v3h-16zM665 484h16v3h-16zM681 170h16v4h-16zM681 284h16v3h-16zM681 400h16v4h-16zM681 430h16v4h-16zM681 590h16v4h-16zM697 140h16v4h-16zM697 380h16v4h-16zM697 614h16v3h-16zM713 81h16v6h-16zM713 234h16v3h-16zM713 310h16v4h-16zM713 387h16v3h-16zM713 444h16v3h-16zM729 230h16v4h-16zM729 370h16v4h-16zM729 494h16v3h-16zM745 170h17v4h-17zM745 250h17v4h-17zM745 390h17v4h-17zM745 540h17v4h-17zM762 97h16v3h-16zM762 117h16v7h-16zM762 170h16v4h-16zM762 270h16v4h-16zM778 204h16v3h-16zM778 447h16v3h-16zM810 140h16v4h-16zM810 230h16v4h-16zM842 100h16v4h-16zM842 187h16v3h-16zM858 100h16v4h-16zM858 290h16v4h-16z"/><path fill="#00afec" d="M117 110h16v4h-16zM117 137h16v3h-16zM133 254h16v3h-16zM133 317h16v3h-16zM181 250h16v4h-16zM181 397h16v3h-16zM181 547h16v3h-16zM197 250h16v4h-16zM197 260h16v4h-16zM213 350h16v4h-16zM213 370h16v4h-16zM213 400h16v4h-16zM213 457h16v3h-16zM229 94h17v6h-17zM229 164h17v3h-17zM229 257h17v3h-17zM229 297h17v3h-17zM229 517h17v3h-17zM246 144h16v3h-16zM246 154h16v3h-16zM246 287h16v3h-16zM246 327h16v7h-16zM246 357h16v3h-16zM246 427h16v3h-16zM262 274h16v3h-16zM262 370h16v4h-16zM262 444h16v3h-16zM262 600h16v4h-16zM278 84h16v3h-16zM278 200h16v4h-16zM278 220h16v4h-16zM278 274h16v3h-16zM278 394h16v3h-16zM278 464h16v3h-16zM278 540h16v4h-16zM278 634h16v3h-16zM294 84h16v3h-16zM294 94h16v3h-16zM294 147h16v3h-16zM294 247h16v3h-16zM294 364h16v3h-16zM294 430h16v4h-16zM294 540h16v4h-16zM294 620h16v4h-16zM310 147h16v3h-16zM310 347h16v7h-16zM310 400h16v4h-16zM310 494h16v6h-16zM310 530h16v4h-16zM326 274h16v3h-16zM326 287h16v3h-16zM326 324h16v3h-16zM342 294h16v3h-16zM342 324h16v3h-16zM342 340h16v4h-16zM342 384h16v3h-16zM342 407h16v3h-16zM342 477h16v3h-16zM342 617h16v3h-16zM358 81h17v3h-17zM358 234h17v6h-17zM358 270h17v4h-17zM358 347h17v3h-17zM358 574h17v3h-17zM375 137h16v3h-16zM375 240h16v4h-16zM375 284h16v3h-16zM375 290h16v4h-16zM375 367h16v3h-16zM375 430h16v4h-16zM375 444h16v3h-16zM391 81h16v3h-16zM391 177h16v3h-16zM391 207h16v3h-16zM391 217h16v3h-16zM391 284h16v3h-16zM391 294h16v3h-16zM391 304h16v3h-16zM391 404h16v3h-16zM391 424h16v3h-16zM391 447h16v3h-16zM391 504h16v3h-16zM407 94h16v3h-16zM407 150h16v4h-16zM407 180h16v4h-16zM407 200h16v4h-16zM407 460h16v4h-16zM423 100h16v4h-16zM423 120h16v4h-16zM423 150h16v4h-16zM423 187h16v3h-16zM423 194h16v3h-16zM423 254h16v3h-16zM423 410h16v4h-16zM423 424h16v3h-16zM423 510h16v4h-16zM423 590h16v4h-16zM439 107h16v3h-16zM439 120h16v4h-16zM439 150h16v4h-16zM439 317h16v3h-16zM439 454h16v6h-16zM439 610h16v4h-16zM455 134h16v3h-16zM455 197h16v3h-16zM455 284h16v3h-16zM455 320h16v7h-16zM455 484h16v3h-16zM455 534h16v3h-16zM455 540h16v4h-16zM455 610h16v4h-16zM471 120h16v4h-16zM471 207h16v3h-16zM471 304h16v3h-16zM471 350h16v4h-16zM471 387h16v3h-16zM471 394h16v3h-16zM471 427h16v3h-16zM471 450h16v4h-16zM471 560h16v4h-16zM471 567h16v3h-16zM487 184h17v3h-17zM487 297h17v3h-17zM487 357h17v3h-17zM487 437h17v3h-17zM504 94h16v3h-16zM504 277h16v3h-16zM504 447h16v3h-16zM504 460h16v4h-16zM504 567h16v3h-16zM504 584h16v3h-16zM504 590h16v4h-16zM520 117h16v3h-16zM520 127h16v3h-16zM520 184h16v6h-16zM520 197h16v3h-16zM520 227h16v3h-16zM520 250h16v4h-16zM520 327h16v3h-16zM520 384h16v3h-16zM520 410h16v4h-16zM520 450h16v4h-16zM520 517h16v3h-16zM520 540h16v4h-16zM520 584h16v3h-16zM536 204h16v6h-16zM536 237h16v3h-16zM536 357h16v3h-16zM536 384h16v3h-16zM536 390h16v4h-16zM536 504h16v3h-16zM536 517h16v3h-16zM536 530h16v4h-16zM536 557h16v3h-16zM536 567h16v3h-16zM552 91h16v3h-16zM552 97h16v3h-16zM552 104h16v3h-16zM552 187h16v3h-16zM552 234h16v3h-16zM552 404h16v3h-16zM552 447h16v3h-16zM568 117h16v3h-16zM568 134h16v3h-16zM568 197h16v3h-16zM568 214h16v3h-16zM568 220h16v4h-16zM568 354h16v3h-16zM568 507h16v3h-16zM584 144h16v3h-16zM584 170h16v4h-16zM584 177h16v3h-16zM584 184h16v3h-16zM584 250h16v4h-16zM584 370h16v4h-16zM584 680h16v4h-16zM600 107h16v3h-16zM600 177h16v3h-16zM600 240h16v4h-16zM600 254h16v3h-16zM600 264h16v3h-16zM600 434h16v3h-16zM600 580h16v4h-16zM600 600h16v4h-16zM616 81h17v3h-17zM616 137h17v3h-17zM616 274h17v3h-17zM616 354h17v3h-17zM616 394h17v3h-17zM616 414h17v3h-17zM616 490h17v4h-17zM633 307h16v3h-16zM633 424h16v3h-16zM633 480h16v4h-16zM649 137h16v3h-16zM649 154h16v3h-16zM649 180h16v4h-16zM649 190h16v4h-16zM649 314h16v3h-16zM649 367h16v3h-16zM649 447h16v3h-16zM649 500h16v4h-16zM649 614h16v3h-16zM665 170h16v7h-16zM665 180h16v4h-16zM665 214h16v3h-16zM665 384h16v3h-16zM665 464h16v3h-16zM665 490h16v4h-16zM681 97h16v3h-16zM681 107h16v3h-16zM681 130h16v4h-16zM681 150h16v4h-16zM681 324h16v3h-16zM681 334h16v6h-16zM681 364h16v3h-16zM681 384h16v3h-16zM681 440h16v4h-16zM697 91h16v3h-16zM697 104h16v3h-16zM697 260h16v4h-16zM697 297h16v3h-16zM697 417h16v3h-16zM697 430h16v4h-16zM697 497h16v3h-16zM697 534h16v3h-16zM697 540h16v4h-16zM713 114h16v3h-16zM713 220h16v4h-16zM713 414h16v3h-16zM713 514h16v6h-16zM713 554h16v3h-16zM713 577h16v3h-16zM713 600h16v4h-16zM713 670h16v4h-16zM729 127h16v3h-16zM729 250h16v4h-16zM729 297h16v3h-16zM729 324h16v3h-16zM729 467h16v3h-16zM729 507h16v3h-16zM745 91h17v3h-17zM745 97h17v3h-17zM745 120h17v4h-17zM745 247h17v3h-17zM745 617h17v3h-17zM762 91h16v3h-16zM762 414h16v3h-16zM762 457h16v3h-16zM778 84h16v3h-16zM778 137h16v3h-16zM778 274h16v3h-16zM778 320h16v4h-16zM778 344h16v3h-16zM778 610h16v4h-16zM794 200h16v4h-16zM794 207h16v3h-16zM794 214h16v3h-16zM794 224h16v3h-16zM794 307h16v3h-16zM794 470h16v4h-16zM810 97h16v3h-16zM810 174h16v3h-16zM810 184h16v3h-16zM810 304h16v3h-16zM810 320h16v4h-16zM826 94h16v3h-16zM826 150h16v4h-16zM826 327h16v3h-16zM826 374h16v3h-16zM842 237h16v3h-16zM842 320h16v4h-16z"/><path fill="#08d0f7" d="M117 117h16v3h-16zM117 144h16v3h-16zM117 404h16v3h-16zM133 170h16v4h-16zM133 247h16v3h-16zM133 264h16v3h-16zM133 324h16v6h-16zM149 157h16v3h-16zM149 227h16v3h-16zM165 184h16v6h-16zM165 270h16v4h-16zM181 124h16v3h-16zM181 140h16v4h-16zM181 157h16v3h-16zM181 264h16v3h-16zM181 274h16v3h-16zM181 554h16v3h-16zM181 587h16v7h-16zM197 384h16v3h-16zM197 434h16v3h-16zM197 480h16v4h-16zM197 514h16v3h-16zM197 574h16v3h-16zM213 280h16v4h-16zM213 290h16v4h-16zM213 330h16v4h-16zM213 364h16v3h-16zM213 374h16v3h-16zM229 110h17v4h-17zM229 160h17v4h-17zM229 180h17v4h-17zM229 230h17v4h-17zM229 320h17v4h-17zM229 357h17v3h-17zM229 377h17v7h-17zM229 440h17v4h-17zM229 454h17v3h-17zM229 480h17v4h-17zM246 97h16v3h-16zM246 220h16v4h-16zM246 307h16v3h-16zM246 440h16v4h-16zM246 464h16v3h-16zM246 537h16v3h-16zM246 577h16v3h-16zM262 157h16v3h-16zM262 180h16v4h-16zM262 200h16v4h-16zM262 284h16v6h-16zM262 374h16v3h-16zM262 384h16v3h-16zM262 390h16v4h-16zM262 550h16v4h-16zM262 557h16v3h-16zM278 357h16v3h-16zM278 427h16v3h-16zM278 454h16v3h-16zM278 510h16v4h-16zM294 124h16v3h-16zM294 134h16v3h-16zM294 154h16v3h-16zM294 240h16v4h-16zM294 277h16v3h-16zM294 340h16v4h-16zM294 424h16v3h-16zM294 624h16v3h-16zM294 644h16v3h-16zM310 234h16v3h-16zM310 294h16v3h-16zM310 357h16v7h-16zM310 407h16v3h-16zM310 580h16v4h-16zM326 104h16v3h-16zM326 164h16v3h-16zM326 174h16v3h-16zM326 220h16v4h-16zM326 250h16v4h-16zM326 307h16v3h-16zM326 514h16v3h-16zM326 570h16v4h-16zM326 614h16v3h-16zM326 637h16v3h-16zM326 670h16v4h-16zM342 160h16v4h-16zM342 184h16v3h-16zM342 420h16v4h-16zM342 457h16v3h-16zM342 490h16v4h-16zM342 517h16v3h-16zM342 527h16v3h-16zM342 713h16v4h-16zM358 197h17v3h-17zM358 217h17v3h-17zM358 240h17v4h-17zM358 254h17v3h-17zM358 367h17v3h-17zM358 520h17v4h-17zM358 600h17v4h-17zM358 644h17v3h-17zM375 214h16v3h-16zM375 330h16v7h-16zM375 377h16v3h-16zM375 400h16v7h-16zM375 507h16v3h-16zM375 584h16v3h-16zM391 144h16v3h-16zM391 214h16v3h-16zM391 317h16v3h-16zM391 410h16v4h-16zM391 484h16v3h-16zM391 500h16v4h-16zM391 510h16v7h-16zM391 600h16v4h-16zM391 627h16v3h-16zM407 194h16v3h-16zM407 237h16v3h-16zM407 270h16v4h-16zM407 277h16v3h-16zM407 534h16v3h-16zM407 627h16v3h-16zM423 81h16v3h-16zM423 204h16v3h-16zM423 257h16v3h-16zM423 370h16v4h-16zM423 394h16v6h-16zM423 440h16v4h-16zM423 564h16v3h-16zM423 570h16v4h-16zM423 634h16v3h-16zM439 154h16v3h-16zM439 164h16v3h-16zM439 360h16v4h-16zM439 390h16v4h-16zM439 430h16v4h-16zM439 460h16v4h-16zM439 594h16v3h-16zM439 630h16v4h-16zM455 154h16v3h-16zM455 327h16v3h-16zM455 360h16v4h-16zM455 427h16v3h-16zM455 440h16v4h-16zM455 457h16v3h-16zM455 517h16v3h-16zM455 567h16v3h-16zM455 664h16v3h-16zM471 87h16v4h-16zM471 170h16v4h-16zM471 230h16v4h-16zM471 237h16v3h-16zM471 300h16v4h-16zM471 440h16v4h-16zM471 457h16v3h-16zM471 464h16v3h-16zM471 634h16v3h-16zM487 100h17v4h-17zM487 240h17v4h-17zM487 474h17v3h-17zM487 630h17v4h-17zM487 654h17v3h-17zM487 707h17v3h-17zM504 287h16v3h-16zM504 344h16v6h-16zM504 517h16v7h-16zM504 530h16v4h-16zM520 174h16v3h-16zM520 260h16v4h-16zM520 300h16v4h-16zM520 324h16v3h-16zM520 380h16v4h-16zM520 447h16v3h-16zM536 104h16v3h-16zM536 180h16v4h-16zM536 240h16v4h-16zM536 330h16v4h-16zM536 424h16v3h-16zM536 514h16v3h-16zM536 590h16v4h-16zM552 100h16v4h-16zM552 127h16v3h-16zM552 167h16v3h-16zM552 197h16v3h-16zM552 210h16v4h-16zM552 220h16v4h-16zM552 274h16v3h-16zM552 317h16v3h-16zM552 327h16v3h-16zM552 370h16v4h-16zM552 490h16v4h-16zM552 604h16v3h-16zM552 644h16v3h-16zM568 127h16v3h-16zM568 167h16v3h-16zM568 194h16v3h-16zM568 200h16v4h-16zM568 564h16v3h-16zM568 634h16v3h-16zM584 190h16v4h-16zM584 270h16v4h-16zM584 330h16v4h-16zM584 340h16v4h-16zM584 447h16v3h-16zM584 474h16v3h-16zM584 704h16v3h-16zM600 167h16v3h-16zM600 197h16v3h-16zM600 214h16v3h-16zM600 367h16v3h-16zM600 554h16v3h-16zM600 647h16v3h-16zM616 197h17v3h-17zM616 264h17v3h-17zM616 297h17v3h-17zM616 314h17v3h-17zM616 347h17v3h-17zM616 437h17v3h-17zM616 600h17v4h-17zM616 640h17v4h-17zM633 187h16v3h-16zM633 280h16v4h-16zM633 350h16v4h-16zM633 437h16v3h-16zM633 454h16v3h-16zM649 157h16v3h-16zM649 214h16v3h-16zM649 310h16v4h-16zM649 400h16v4h-16zM649 414h16v3h-16zM649 590h16v4h-16zM665 100h16v4h-16zM665 140h16v4h-16zM665 267h16v3h-16zM665 400h16v4h-16zM665 410h16v4h-16zM665 444h16v3h-16zM665 507h16v3h-16zM681 167h16v3h-16zM681 197h16v3h-16zM681 280h16v4h-16zM681 297h16v3h-16zM681 304h16v3h-16zM681 347h16v7h-16zM681 417h16v3h-16zM681 464h16v3h-16zM697 217h16v3h-16zM697 240h16v4h-16zM697 357h16v3h-16zM697 364h16v3h-16zM697 594h16v3h-16zM713 104h16v3h-16zM713 127h16v3h-16zM713 160h16v7h-16zM713 417h16v3h-16zM713 454h16v3h-16zM713 560h16v4h-16zM729 197h16v3h-16zM729 207h16v3h-16zM729 220h16v4h-16zM729 364h16v3h-16zM729 430h16v4h-16zM729 464h16v3h-16zM745 114h17v3h-17zM745 177h17v3h-17zM745 214h17v3h-17zM745 224h17v3h-17zM745 264h17v3h-17zM745 457h17v3h-17zM745 587h17v3h-17zM762 87h16v4h-16zM762 260h16v4h-16zM762 374h16v3h-16zM762 424h16v3h-16zM762 500h16v4h-16zM778 164h16v3h-16zM778 220h16v4h-16zM778 374h16v3h-16zM778 387h16v3h-16zM778 540h16v4h-16zM794 87h16v4h-16zM794 127h16v3h-16zM794 134h16v3h-16zM794 287h16v3h-16zM794 380h16v4h-16zM810 180h16v4h-16zM810 190h16v4h-16zM810 227h16v3h-16zM810 274h16v3h-16zM826 140h16v4h-16zM826 154h16v3h-16zM826 160h16v4h-16zM826 214h16v3h-16zM826 420h16v4h-16zM826 430h16v4h-16zM842 314h16v6h-16zM842 327h16v3h-16zM842 417h16v3h-16zM858 104h16v3h-16zM858 227h16v3h-16z"/><path fill="#00c2f7" d="M117 140h16v4h-16zM133 184h16v3h-16zM133 267h16v3h-16zM133 517h16v3h-16zM149 140h16v4h-16zM149 234h16v3h-16zM149 294h16v3h-16zM165 104h16v3h-16zM165 114h16v3h-16zM165 314h16v3h-16zM165 434h16v3h-16zM165 560h16v4h-16zM181 127h16v3h-16zM181 134h16v3h-16zM181 154h16v3h-16zM181 284h16v3h-16zM181 310h16v4h-16zM181 470h16v4h-16zM181 650h16v4h-16zM197 164h16v3h-16zM197 214h16v3h-16zM197 227h16v3h-16zM197 380h16v4h-16zM197 620h16v4h-16zM197 660h16v7h-16zM213 87h16v4h-16zM213 174h16v3h-16zM213 194h16v3h-16zM213 210h16v4h-16zM213 240h16v4h-16zM213 314h16v3h-16zM213 377h16v3h-16zM213 500h16v7h-16zM213 564h16v3h-16zM229 214h17v3h-17zM229 254h17v3h-17zM229 300h17v4h-17zM229 554h17v3h-17zM229 587h17v3h-17zM246 107h16v3h-16zM246 187h16v3h-16zM246 237h16v7h-16zM246 257h16v3h-16zM246 304h16v3h-16zM246 467h16v3h-16zM246 600h16v4h-16zM262 134h16v3h-16zM262 187h16v3h-16zM262 327h16v3h-16zM262 337h16v3h-16zM262 450h16v4h-16zM262 514h16v3h-16zM278 120h16v4h-16zM278 270h16v4h-16zM278 277h16v3h-16zM278 344h16v3h-16zM278 410h16v4h-16zM278 470h16v4h-16zM294 107h16v3h-16zM294 177h16v3h-16zM294 210h16v4h-16zM294 270h16v4h-16zM294 294h16v6h-16zM294 384h16v3h-16zM294 490h16v4h-16zM294 520h16v4h-16zM294 640h16v4h-16zM294 680h16v4h-16zM310 81h16v3h-16zM310 91h16v3h-16zM310 127h16v3h-16zM310 230h16v4h-16zM310 647h16v3h-16zM326 84h16v3h-16zM326 314h16v3h-16zM326 327h16v3h-16zM326 414h16v3h-16zM326 450h16v4h-16zM326 500h16v4h-16zM342 174h16v3h-16zM342 224h16v3h-16zM342 247h16v3h-16zM342 304h16v3h-16zM342 367h16v3h-16zM342 454h16v3h-16zM358 154h17v3h-17zM358 230h17v4h-17zM358 284h17v3h-17zM358 357h17v3h-17zM358 364h17v3h-17zM358 390h17v7h-17zM358 404h17v3h-17zM358 460h17v4h-17zM358 550h17v4h-17zM358 557h17v3h-17zM358 580h17v4h-17zM375 150h16v4h-16zM375 297h16v3h-16zM375 464h16v3h-16zM375 500h16v4h-16zM375 530h16v4h-16zM391 94h16v3h-16zM391 114h16v3h-16zM391 127h16v3h-16zM391 134h16v3h-16zM391 224h16v3h-16zM391 244h16v3h-16zM391 307h16v3h-16zM391 350h16v4h-16zM391 480h16v4h-16zM391 537h16v3h-16zM391 577h16v3h-16zM407 284h16v3h-16zM407 397h16v3h-16zM407 434h16v3h-16zM407 467h16v3h-16zM423 247h16v3h-16zM423 537h16v3h-16zM423 544h16v3h-16zM439 104h16v3h-16zM439 237h16v3h-16zM439 247h16v3h-16zM439 280h16v4h-16zM439 314h16v3h-16zM439 367h16v3h-16zM439 427h16v3h-16zM439 444h16v3h-16zM439 484h16v3h-16zM439 544h16v3h-16zM439 564h16v3h-16zM439 680h16v4h-16zM455 110h16v4h-16zM455 150h16v4h-16zM455 157h16v3h-16zM455 394h16v3h-16zM455 424h16v3h-16zM455 470h16v4h-16zM455 507h16v3h-16zM455 514h16v3h-16zM455 694h16v3h-16zM471 94h16v3h-16zM471 317h16v3h-16zM471 377h16v3h-16zM471 437h16v3h-16zM471 454h16v3h-16zM487 210h17v4h-17zM487 247h17v3h-17zM487 284h17v3h-17zM504 117h16v3h-16zM504 124h16v3h-16zM504 284h16v3h-16zM504 650h16v4h-16zM520 264h16v3h-16zM520 334h16v3h-16zM520 354h16v3h-16zM520 460h16v4h-16zM520 617h16v3h-16zM536 120h16v4h-16zM536 157h16v3h-16zM536 234h16v3h-16zM536 260h16v4h-16zM536 307h16v3h-16zM536 427h16v3h-16zM536 484h16v3h-16zM536 604h16v3h-16zM536 620h16v4h-16zM536 630h16v4h-16zM536 654h16v3h-16zM552 110h16v4h-16zM552 140h16v4h-16zM552 204h16v3h-16zM552 334h16v3h-16zM552 354h16v3h-16zM552 364h16v3h-16zM552 517h16v3h-16zM568 100h16v4h-16zM568 234h16v3h-16zM568 384h16v3h-16zM568 447h16v7h-16zM568 470h16v4h-16zM568 647h16v3h-16zM568 694h16v3h-16zM584 264h16v6h-16zM584 440h16v4h-16zM600 137h16v3h-16zM600 160h16v7h-16zM600 344h16v3h-16zM600 380h16v4h-16zM600 674h16v3h-16zM616 114h17v3h-17zM616 130h17v4h-17zM616 147h17v3h-17zM616 290h17v4h-17zM616 424h17v3h-17zM616 434h17v3h-17zM616 464h17v3h-17zM616 657h17v3h-17zM616 700h17v4h-17zM633 91h16v3h-16zM633 107h16v3h-16zM633 137h16v3h-16zM633 220h16v4h-16zM633 234h16v3h-16zM633 420h16v4h-16zM633 547h16v3h-16zM633 570h16v4h-16zM633 594h16v3h-16zM649 97h16v7h-16zM649 200h16v4h-16zM649 210h16v4h-16zM649 297h16v3h-16zM649 324h16v6h-16zM649 610h16v4h-16zM649 627h16v3h-16zM649 654h16v3h-16zM665 104h16v3h-16zM665 197h16v3h-16zM665 217h16v3h-16zM665 234h16v3h-16zM665 270h16v4h-16zM665 317h16v3h-16zM665 424h16v3h-16zM665 430h16v4h-16zM665 437h16v3h-16zM665 520h16v10h-16zM665 534h16v3h-16zM665 550h16v4h-16zM665 667h16v3h-16zM681 91h16v3h-16zM681 187h16v3h-16zM681 200h16v4h-16zM681 484h16v3h-16zM681 554h16v3h-16zM681 570h16v4h-16zM681 660h16v4h-16zM697 84h16v3h-16zM697 120h16v4h-16zM697 274h16v3h-16zM697 434h16v3h-16zM697 464h16v3h-16zM713 224h16v3h-16zM713 314h16v3h-16zM713 327h16v7h-16zM713 347h16v3h-16zM713 370h16v4h-16zM713 440h16v4h-16zM713 557h16v3h-16zM729 187h16v3h-16zM729 304h16v6h-16zM745 100h17v4h-17zM745 124h17v6h-17zM745 144h17v3h-17zM745 200h17v4h-17zM745 347h17v3h-17zM745 517h17v3h-17zM745 524h17v3h-17zM762 290h16v4h-16zM762 334h16v3h-16zM762 377h16v3h-16zM762 574h16v3h-16zM762 597h16v3h-16zM778 97h16v3h-16zM778 134h16v3h-16zM778 284h16v3h-16zM778 470h16v4h-16zM778 480h16v4h-16zM794 277h16v3h-16zM794 427h16v7h-16zM794 550h16v4h-16zM794 590h16v4h-16zM810 124h16v3h-16zM810 270h16v4h-16zM810 484h16v3h-16zM826 207h16v3h-16zM826 294h16v3h-16zM826 517h16v3h-16zM842 254h16v3h-16zM842 444h16v3h-16zM858 127h16v3h-16zM874 81h17v3h-17z"/><path fill="#29d8d5" d="M117 154h16v3h-16zM117 270h16v4h-16zM117 424h16v3h-16zM117 444h16v3h-16zM133 91h16v3h-16zM149 107h16v3h-16zM149 170h16v4h-16zM149 317h16v3h-16zM149 360h16v4h-16zM149 384h16v3h-16zM149 440h16v4h-16zM165 210h16v4h-16zM165 217h16v3h-16zM165 297h16v3h-16zM165 330h16v7h-16zM165 384h16v3h-16zM165 400h16v4h-16zM165 534h16v3h-16zM165 610h16v4h-16zM181 160h16v4h-16zM181 224h16v3h-16zM181 270h16v4h-16zM181 294h16v3h-16zM181 337h16v3h-16zM181 430h16v4h-16zM181 457h16v3h-16zM197 224h16v3h-16zM197 237h16v3h-16zM197 257h16v3h-16zM197 287h16v3h-16zM197 467h16v3h-16zM197 544h16v3h-16zM213 237h16v3h-16zM213 600h16v4h-16zM213 634h16v3h-16zM229 117h17v3h-17zM229 197h17v3h-17zM229 227h17v3h-17zM229 527h17v3h-17zM229 564h17v3h-17zM229 590h17v4h-17zM229 614h17v3h-17zM246 140h16v4h-16zM246 264h16v3h-16zM246 397h16v13h-16zM246 554h16v3h-16zM262 264h16v3h-16zM262 300h16v4h-16zM262 357h16v3h-16zM262 490h16v4h-16zM262 537h16v3h-16zM262 554h16v3h-16zM278 87h16v4h-16zM278 134h16v3h-16zM278 240h16v4h-16zM278 514h16v3h-16zM278 594h16v3h-16zM294 204h16v3h-16zM294 237h16v3h-16zM294 280h16v4h-16zM294 417h16v3h-16zM294 457h16v3h-16zM294 470h16v4h-16zM294 517h16v3h-16zM294 557h16v3h-16zM310 144h16v3h-16zM310 240h16v4h-16zM310 364h16v3h-16zM310 374h16v3h-16zM310 390h16v4h-16zM310 414h16v3h-16zM310 447h16v3h-16zM310 490h16v4h-16zM310 617h16v3h-16zM310 687h16v3h-16zM326 170h16v4h-16zM326 270h16v4h-16zM326 310h16v4h-16zM326 540h16v4h-16zM326 594h16v3h-16zM342 244h16v3h-16zM342 317h16v3h-16zM342 347h16v3h-16zM342 354h16v3h-16zM342 424h16v3h-16zM342 464h16v3h-16zM342 644h16v3h-16zM358 330h17v4h-17zM358 340h17v4h-17zM358 577h17v3h-17zM375 160h16v4h-16zM375 197h16v3h-16zM375 280h16v4h-16zM375 314h16v3h-16zM375 347h16v3h-16zM375 510h16v4h-16zM375 564h16v3h-16zM375 610h16v4h-16zM391 140h16v4h-16zM391 270h16v4h-16zM391 607h16v3h-16zM391 717h16v3h-16zM407 84h16v3h-16zM407 164h16v3h-16zM407 294h16v3h-16zM407 407h16v3h-16zM407 464h16v3h-16zM407 520h16v4h-16zM423 264h16v3h-16zM423 350h16v4h-16zM423 630h16v4h-16zM423 697h16v3h-16zM439 220h16v4h-16zM439 254h16v3h-16zM439 297h16v3h-16zM439 434h16v3h-16zM439 517h16v3h-16zM439 697h16v3h-16zM455 300h16v4h-16zM455 340h16v4h-16zM455 400h16v4h-16zM455 430h16v4h-16zM455 574h16v3h-16zM455 654h16v3h-16zM471 204h16v3h-16zM471 260h16v4h-16zM471 307h16v3h-16zM471 337h16v3h-16zM471 430h16v4h-16zM471 494h16v3h-16zM471 514h16v3h-16zM471 554h16v3h-16zM487 274h17v3h-17zM487 384h17v3h-17zM487 414h17v3h-17zM487 420h17v4h-17zM504 154h16v3h-16zM504 237h16v3h-16zM504 330h16v4h-16zM504 494h16v3h-16zM504 554h16v3h-16zM504 687h16v3h-16zM520 120h16v4h-16zM520 397h16v3h-16zM520 570h16v4h-16zM520 610h16v4h-16zM536 114h16v3h-16zM536 220h16v4h-16zM536 254h16v3h-16zM536 270h16v4h-16zM536 394h16v3h-16zM536 494h16v3h-16zM552 427h16v3h-16zM552 434h16v3h-16zM552 440h16v4h-16zM552 527h16v3h-16zM552 614h16v6h-16zM552 637h16v3h-16zM552 687h16v3h-16zM568 110h16v4h-16zM568 287h16v3h-16zM568 417h16v3h-16zM568 500h16v4h-16zM568 570h16v4h-16zM584 287h16v3h-16zM584 390h16v4h-16zM584 490h16v4h-16zM584 497h16v3h-16zM584 610h16v4h-16zM584 650h16v4h-16zM584 664h16v3h-16zM584 717h16v3h-16zM600 130h16v4h-16zM600 247h16v3h-16zM600 337h16v3h-16zM600 370h16v4h-16zM600 387h16v3h-16zM600 417h16v3h-16zM600 537h16v3h-16zM600 644h16v3h-16zM616 167h17v3h-17zM616 307h17v3h-17zM616 330h17v4h-17zM616 340h17v4h-17zM616 677h17v3h-17zM633 254h16v3h-16zM633 564h16v3h-16zM633 637h16v3h-16zM633 690h16v4h-16zM649 120h16v4h-16zM649 377h16v3h-16zM649 387h16v3h-16zM649 450h16v4h-16zM649 550h16v4h-16zM665 91h16v3h-16zM665 144h16v3h-16zM665 247h16v3h-16zM665 294h16v3h-16zM665 594h16v3h-16zM665 687h16v3h-16zM681 164h16v3h-16zM681 177h16v3h-16zM681 310h16v4h-16zM681 317h16v3h-16zM681 344h16v3h-16zM681 380h16v4h-16zM681 427h16v3h-16zM681 437h16v3h-16zM681 457h16v3h-16zM681 527h16v3h-16zM681 650h16v4h-16zM681 680h16v4h-16zM697 207h16v3h-16zM697 214h16v3h-16zM697 234h16v3h-16zM697 340h16v4h-16zM697 374h16v3h-16zM697 440h16v4h-16zM713 247h16v3h-16zM713 284h16v3h-16zM713 437h16v3h-16zM713 457h16v3h-16zM713 610h16v4h-16zM713 690h16v4h-16zM729 134h16v3h-16zM729 200h16v4h-16zM729 344h16v3h-16zM729 407h16v3h-16zM729 600h16v4h-16zM745 330h17v4h-17zM745 337h17v3h-17zM745 427h17v3h-17zM745 460h17v4h-17zM745 484h17v3h-17zM745 490h17v4h-17zM745 564h17v3h-17zM745 590h17v4h-17zM762 107h16v3h-16zM762 150h16v4h-16zM762 164h16v3h-16zM762 234h16v3h-16zM762 267h16v3h-16zM762 337h16v3h-16zM762 567h16v3h-16zM762 600h16v4h-16zM762 630h16v4h-16zM778 117h16v3h-16zM778 124h16v3h-16zM778 237h16v3h-16zM778 334h16v3h-16zM778 400h16v4h-16zM778 440h16v4h-16zM778 510h16v4h-16zM778 620h16v4h-16zM794 140h16v4h-16zM794 167h16v3h-16zM794 270h16v4h-16zM794 280h16v4h-16zM794 330h16v4h-16zM794 387h16v3h-16zM810 134h16v3h-16zM810 220h16v4h-16zM810 257h16v3h-16zM810 280h16v4h-16zM810 434h16v3h-16zM826 304h16v3h-16zM842 91h16v3h-16zM842 194h16v3h-16zM842 260h16v7h-16zM842 330h16v4h-16zM842 397h16v3h-16zM842 474h16v3h-16zM858 150h16v4h-16zM858 250h16v4h-16zM874 97h17v3h-17z"/><path fill="#5ae2a4" d="M117 167h16v3h-16zM117 350h16v4h-16zM117 407h16v3h-16zM117 437h16v3h-16zM133 167h16v3h-16zM133 174h16v6h-16zM133 344h16v3h-16zM133 410h16v4h-16zM133 430h16v4h-16zM149 370h16v4h-16zM149 400h16v4h-16zM149 447h16v3h-16zM165 84h16v3h-16zM165 130h16v4h-16zM165 204h16v3h-16zM165 237h16v3h-16zM165 284h16v3h-16zM165 387h16v3h-16zM165 504h16v6h-16zM181 237h16v3h-16zM181 454h16v3h-16zM181 527h16v3h-16zM197 207h16v3h-16zM197 357h16v3h-16zM197 364h16v6h-16zM197 560h16v4h-16zM213 390h16v4h-16zM213 520h16v4h-16zM213 550h16v4h-16zM213 580h16v4h-16zM229 114h17v3h-17zM229 287h17v3h-17zM229 337h17v3h-17zM229 497h17v3h-17zM229 620h17v4h-17zM246 457h16v3h-16zM246 487h16v3h-16zM246 540h16v4h-16zM262 460h16v4h-16zM262 474h16v3h-16zM262 507h16v3h-16zM262 660h16v4h-16zM262 697h16v3h-16zM278 340h16v4h-16zM278 414h16v3h-16zM278 600h16v4h-16zM294 100h16v4h-16zM294 527h16v3h-16zM294 564h16v3h-16zM294 604h16v3h-16zM310 344h16v3h-16zM310 417h16v3h-16zM310 590h16v4h-16zM310 614h16v3h-16zM326 244h16v3h-16zM326 350h16v4h-16zM326 424h16v3h-16zM326 524h16v3h-16zM342 427h16v3h-16zM342 500h16v4h-16zM342 510h16v4h-16zM342 694h16v3h-16zM358 130h17v4h-17zM358 297h17v3h-17zM358 444h17v3h-17zM358 527h17v3h-17zM358 604h17v3h-17zM358 647h17v3h-17zM358 717h17v3h-17zM391 280h16v4h-16zM391 397h16v3h-16zM391 467h16v3h-16zM391 550h16v4h-16zM407 624h16v3h-16zM423 477h16v3h-16zM423 580h16v4h-16zM439 304h16v3h-16zM439 337h16v3h-16zM455 420h16v4h-16zM455 597h16v7h-16zM455 637h16v3h-16zM471 127h16v3h-16zM471 364h16v3h-16zM471 627h16v3h-16zM471 640h16v4h-16zM471 684h16v3h-16zM487 310h17v4h-17zM487 397h17v3h-17zM487 517h17v3h-17zM487 540h17v4h-17zM487 637h17v3h-17zM504 550h16v4h-16zM520 537h16v3h-16zM520 727h16v3h-16zM536 187h16v3h-16zM536 370h16v4h-16zM536 624h16v3h-16zM552 300h16v4h-16zM552 307h16v3h-16zM552 414h16v3h-16zM552 574h16v3h-16zM552 580h16v4h-16zM568 377h16v3h-16zM568 464h16v3h-16zM568 587h16v3h-16zM568 600h16v4h-16zM568 654h16v3h-16zM568 670h16v4h-16zM584 247h16v3h-16zM584 460h16v4h-16zM600 280h16v4h-16zM600 597h16v3h-16zM600 630h16v4h-16zM616 524h17v3h-17zM616 624h17v3h-17zM633 497h16v3h-16zM633 577h16v3h-16zM633 627h16v3h-16zM633 664h16v3h-16zM649 520h16v4h-16zM681 227h16v3h-16zM681 267h16v3h-16zM681 360h16v4h-16zM681 404h16v3h-16zM681 467h16v3h-16zM681 567h16v3h-16zM681 670h16v4h-16zM697 244h16v3h-16zM697 294h16v3h-16zM697 424h16v3h-16zM697 600h16v4h-16zM713 174h16v3h-16zM713 354h16v3h-16zM713 360h16v4h-16zM713 470h16v4h-16zM713 510h16v4h-16zM713 537h16v3h-16zM713 697h16v3h-16zM729 120h16v4h-16zM729 377h16v3h-16zM729 457h16v3h-16zM729 500h16v4h-16zM729 530h16v4h-16zM729 557h16v3h-16zM729 604h16v3h-16zM745 354h17v3h-17zM745 377h17v3h-17zM745 464h17v3h-17zM745 497h17v3h-17zM762 110h16v4h-16zM762 554h16v3h-16zM778 177h16v3h-16zM778 240h16v4h-16zM778 267h16v3h-16zM778 280h16v4h-16zM778 297h16v3h-16zM778 357h16v3h-16zM778 454h16v3h-16zM778 564h16v3h-16zM794 230h16v4h-16zM794 374h16v3h-16zM794 410h16v4h-16zM794 444h16v3h-16zM794 460h16v4h-16zM794 497h16v3h-16zM794 534h16v3h-16zM794 630h16v4h-16zM810 157h16v3h-16zM810 214h16v3h-16zM810 344h16v3h-16zM810 440h16v4h-16zM810 447h16v3h-16zM810 544h16v3h-16zM826 120h16v4h-16zM826 180h16v4h-16zM826 244h16v3h-16zM826 250h16v4h-16zM826 394h16v3h-16zM842 94h16v3h-16zM842 257h16v3h-16zM842 404h16v3h-16zM842 434h16v3h-16zM842 524h16v3h-16zM874 137h17v3h-17z"/><path fill="#a4f259" d="M117 180h16v4h-16zM117 380h16v4h-16zM117 387h16v3h-16zM133 227h16v3h-16zM133 280h16v4h-16zM133 307h16v3h-16zM149 284h16v3h-16zM149 290h16v4h-16zM149 510h16v4h-16zM165 247h16v3h-16zM165 370h16v4h-16zM165 417h16v3h-16zM165 424h16v3h-16zM165 547h16v3h-16zM181 297h16v3h-16zM181 474h16v3h-16zM181 634h16v3h-16zM181 713h16v4h-16zM197 417h16v10h-16zM197 460h16v4h-16zM197 500h16v4h-16zM213 444h16v3h-16zM213 557h16v3h-16zM213 657h16v3h-16zM229 134h17v3h-17zM229 294h17v3h-17zM229 447h17v3h-17zM246 590h16v4h-16zM246 637h16v3h-16zM278 587h16v3h-16zM294 614h16v3h-16zM310 547h16v3h-16zM326 504h16v3h-16zM326 607h16v3h-16zM326 647h16v3h-16zM342 587h16v3h-16zM358 650h17v4h-17zM358 697h17v3h-17zM375 687h16v3h-16zM423 690h16v4h-16zM423 720h16v3h-16zM439 607h16v3h-16zM439 647h16v3h-16zM455 537h16v3h-16zM455 604h16v3h-16zM471 594h16v3h-16zM471 630h16v4h-16zM471 700h16v4h-16zM536 700h16v4h-16zM568 580h16v4h-16zM568 644h16v3h-16zM616 547h17v3h-17zM616 684h17v6h-17zM633 537h16v3h-16zM633 584h16v3h-16zM633 654h16v3h-16zM633 667h16v3h-16zM649 524h16v3h-16zM665 547h16v3h-16zM665 644h16v3h-16zM681 594h16v3h-16zM681 637h16v3h-16zM681 654h16v3h-16zM681 674h16v3h-16zM697 667h16v3h-16zM713 410h16v4h-16zM745 430h17v4h-17zM745 570h17v4h-17zM745 580h17v4h-17zM778 247h16v3h-16zM778 404h16v3h-16zM794 367h16v3h-16zM794 500h16v4h-16zM794 537h16v3h-16zM810 81h16v3h-16zM810 427h16v3h-16zM810 550h16v4h-16zM826 460h16v4h-16zM842 130h16v4h-16zM842 220h16v4h-16zM842 300h16v4h-16zM842 307h16v3h-16zM842 620h16v4h-16zM874 274h17v3h-17z"/><path fill="#94ef69" d="M117 184h16v3h-16zM117 377h16v3h-16zM133 297h16v3h-16zM133 360h16v4h-16zM133 374h16v3h-16zM133 420h16v4h-16zM133 427h16v3h-16zM133 480h16v4h-16zM133 490h16v4h-16zM149 344h16v3h-16zM149 497h16v3h-16zM149 587h16v3h-16zM165 240h16v4h-16zM165 430h16v4h-16zM165 554h16v3h-16zM165 580h16v4h-16zM181 324h16v3h-16zM181 367h16v3h-16zM181 417h16v3h-16zM181 437h16v3h-16zM181 577h16v3h-16zM181 607h16v3h-16zM181 630h16v4h-16zM197 304h16v3h-16zM197 327h16v3h-16zM197 457h16v3h-16zM197 594h16v3h-16zM197 690h16v4h-16zM213 357h16v3h-16zM213 434h16v3h-16zM213 490h16v7h-16zM229 544h17v3h-17zM229 574h17v3h-17zM246 617h16v3h-16zM262 447h16v3h-16zM262 544h16v6h-16zM262 627h16v3h-16zM278 387h16v3h-16zM278 647h16v3h-16zM294 514h16v3h-16zM294 650h16v4h-16zM294 670h16v4h-16zM294 697h16v3h-16zM310 427h16v3h-16zM326 560h16v4h-16zM326 580h16v4h-16zM342 627h16v7h-16zM358 637h17v3h-17zM358 694h17v3h-17zM375 470h16v4h-16zM375 620h16v4h-16zM391 580h16v4h-16zM391 637h16v3h-16zM391 670h16v7h-16zM407 644h16v3h-16zM423 514h16v3h-16zM423 627h16v3h-16zM423 687h16v3h-16zM439 534h16v3h-16zM439 624h16v3h-16zM455 687h16v3h-16zM471 490h16v4h-16zM487 610h17v4h-17zM487 660h17v4h-17zM504 570h16v4h-16zM504 700h16v4h-16zM520 630h16v4h-16zM520 710h16v3h-16zM536 607h16v3h-16zM536 627h16v3h-16zM552 607h16v3h-16zM552 660h16v4h-16zM552 690h16v4h-16zM568 637h16v3h-16zM584 697h16v3h-16zM600 470h16v4h-16zM600 610h16v4h-16zM600 687h16v3h-16zM633 507h16v3h-16zM633 587h16v3h-16zM633 610h16v4h-16zM649 494h16v3h-16zM649 534h16v3h-16zM649 607h16v3h-16zM649 704h16v3h-16zM665 574h16v3h-16zM665 700h16v4h-16zM681 480h16v4h-16zM697 390h16v4h-16zM697 457h16v3h-16zM697 607h16v3h-16zM697 627h16v3h-16zM697 684h16v3h-16zM713 547h16v3h-16zM729 477h16v3h-16zM729 520h16v4h-16zM745 400h17v4h-17zM745 500h17v4h-17zM745 577h17v3h-17zM745 600h17v4h-17zM762 200h16v4h-16zM762 410h16v4h-16zM778 147h16v3h-16zM778 207h16v3h-16zM778 537h16v3h-16zM778 597h16v3h-16zM778 650h16v7h-16zM794 260h16v4h-16zM794 637h16v3h-16zM810 164h16v3h-16zM810 300h16v4h-16zM810 554h16v3h-16zM810 584h16v3h-16zM810 624h16v3h-16zM826 547h16v3h-16zM842 114h16v3h-16zM842 204h16v3h-16zM842 280h16v4h-16zM842 420h16v4h-16zM842 427h16v3h-16zM842 480h16v4h-16zM858 170h16v4h-16zM858 184h16v3h-16zM858 364h16v3h-16z"/><path fill="#b5f648" d="M117 190h16v4h-16zM117 200h16v4h-16zM117 347h16v3h-16zM117 384h16v3h-16zM117 610h16v4h-16zM133 364h16v3h-16zM133 620h16v4h-16zM149 280h16v4h-16zM165 377h16v3h-16zM165 584h16v3h-16zM165 620h16v4h-16zM181 370h16v4h-16zM181 580h16v4h-16zM181 614h16v3h-16zM197 597h16v3h-16zM197 627h16v3h-16zM213 407h16v3h-16zM213 460h16v4h-16zM213 614h16v6h-16zM213 664h16v3h-16zM229 647h17v3h-17zM246 544h16v3h-16zM278 684h16v3h-16zM310 640h16v4h-16zM326 477h16v3h-16zM342 707h16v3h-16zM375 527h16v3h-16zM375 594h16v3h-16zM375 604h16v3h-16zM375 640h16v4h-16zM391 604h16v3h-16zM407 610h16v4h-16zM407 677h16v3h-16zM407 700h16v4h-16zM423 674h16v3h-16zM439 677h16v3h-16zM439 710h16v3h-16zM455 720h16v3h-16zM471 657h16v3h-16zM471 664h16v3h-16zM471 690h16v4h-16zM487 547h17v3h-17zM536 647h16v3h-16zM536 704h16v3h-16zM600 620h16v4h-16zM600 697h16v3h-16zM616 707h17v3h-17zM633 614h16v3h-16zM649 624h16v3h-16zM649 630h16v4h-16zM649 650h16v4h-16zM665 677h16v3h-16zM681 687h16v3h-16zM681 700h16v4h-16zM697 670h16v4h-16zM713 630h16v4h-16zM713 644h16v3h-16zM729 417h16v3h-16zM729 504h16v3h-16zM729 544h16v3h-16zM745 474h17v3h-17zM745 674h17v3h-17zM762 667h16v3h-16zM778 324h16v3h-16zM810 424h16v3h-16zM810 467h16v3h-16zM826 177h16v3h-16zM826 290h16v4h-16zM826 464h16v6h-16zM826 557h16v3h-16zM842 110h16v4h-16zM842 227h16v3h-16zM842 310h16v4h-16zM842 370h16v4h-16zM842 380h16v4h-16zM842 484h16v3h-16zM842 550h16v4h-16zM842 654h16v3h-16zM858 694h16v3h-16zM858 727h16v3h-16zM874 574h17v3h-17zM874 644h17v3h-17z"/><path fill="#52e0ac" d="M117 254h16v3h-16zM117 274h16v3h-16zM117 427h16v3h-16zM133 194h16v3h-16zM133 274h16v3h-16zM133 417h16v3h-16zM133 530h16v4h-16zM133 540h16v4h-16zM149 91h16v3h-16zM149 180h16v4h-16zM149 190h16v4h-16zM165 110h16v4h-16zM165 290h16v7h-16zM181 114h16v3h-16zM181 120h16v4h-16zM181 167h16v3h-16zM181 304h16v3h-16zM181 410h16v4h-16zM181 487h16v3h-16zM181 500h16v4h-16zM181 534h16v3h-16zM181 594h16v3h-16zM197 124h16v3h-16zM197 154h16v3h-16zM197 267h16v3h-16zM197 307h16v3h-16zM197 360h16v4h-16zM197 374h16v3h-16zM213 200h16v4h-16zM213 467h16v3h-16zM213 547h16v3h-16zM213 637h16v3h-16zM229 244h17v3h-17zM229 534h17v3h-17zM229 567h17v3h-17zM229 644h17v3h-17zM246 120h16v4h-16zM246 134h16v3h-16zM246 274h16v3h-16zM246 320h16v4h-16zM246 414h16v3h-16zM246 517h16v3h-16zM246 574h16v3h-16zM246 607h16v3h-16zM246 630h16v4h-16zM246 687h16v3h-16zM262 227h16v3h-16zM262 267h16v3h-16zM262 360h16v4h-16zM262 614h16v3h-16zM278 207h16v3h-16zM278 224h16v3h-16zM278 517h16v3h-16zM294 227h16v3h-16zM294 300h16v4h-16zM294 434h16v3h-16zM294 467h16v3h-16zM294 547h16v3h-16zM294 560h16v4h-16zM294 580h16v4h-16zM310 114h16v3h-16zM310 167h16v3h-16zM310 334h16v3h-16zM310 387h16v3h-16zM310 434h16v3h-16zM310 457h16v3h-16zM310 634h16v3h-16zM326 390h16v4h-16zM326 464h16v3h-16zM326 674h16v3h-16zM342 114h16v3h-16zM342 470h16v7h-16zM342 680h16v4h-16zM358 174h17v3h-17zM358 307h17v3h-17zM358 500h17v4h-17zM375 264h16v3h-16zM375 337h16v3h-16zM375 387h16v3h-16zM375 630h16v4h-16zM375 717h16v3h-16zM391 667h16v3h-16zM407 127h16v3h-16zM407 474h16v3h-16zM407 680h16v4h-16zM423 210h16v4h-16zM423 684h16v3h-16zM439 574h16v3h-16zM439 580h16v4h-16zM439 597h16v3h-16zM439 620h16v4h-16zM439 654h16v3h-16zM439 670h16v4h-16zM455 414h16v3h-16zM455 447h16v3h-16zM455 530h16v4h-16zM455 550h16v7h-16zM455 607h16v3h-16zM471 314h16v3h-16zM487 304h17v3h-17zM487 360h17v4h-17zM487 527h17v3h-17zM487 574h17v3h-17zM487 604h17v3h-17zM504 244h16v3h-16zM504 320h16v4h-16zM504 370h16v4h-16zM504 420h16v4h-16zM504 440h16v4h-16zM504 470h16v4h-16zM504 640h16v4h-16zM520 480h16v4h-16zM520 527h16v3h-16zM520 580h16v4h-16zM520 620h16v4h-16zM536 304h16v3h-16zM536 554h16v3h-16zM552 497h16v3h-16zM552 657h16v3h-16zM568 397h16v3h-16zM568 517h16v3h-16zM568 554h16v3h-16zM568 684h16v3h-16zM584 104h16v3h-16zM584 200h16v4h-16zM584 327h16v3h-16zM584 457h16v3h-16zM584 520h16v4h-16zM584 544h16v3h-16zM600 260h16v4h-16zM600 327h16v3h-16zM600 454h16v3h-16zM600 504h16v3h-16zM600 547h16v3h-16zM600 564h16v3h-16zM600 570h16v4h-16zM616 444h17v6h-17zM616 537h17v3h-17zM616 584h17v3h-17zM633 244h16v3h-16zM633 457h16v3h-16zM633 600h16v4h-16zM633 620h16v4h-16zM649 134h16v3h-16zM649 220h16v4h-16zM649 260h16v4h-16zM649 464h16v3h-16zM665 334h16v3h-16zM665 374h16v3h-16zM665 427h16v3h-16zM681 560h16v4h-16zM681 600h16v4h-16zM697 530h16v4h-16zM697 620h16v4h-16zM729 280h16v4h-16zM729 320h16v4h-16zM729 374h16v3h-16zM729 444h16v3h-16zM729 514h16v3h-16zM729 674h16v3h-16zM745 160h17v4h-17zM745 244h17v3h-17zM745 367h17v3h-17zM745 560h17v4h-17zM762 254h16v3h-16zM762 437h16v3h-16zM762 634h16v3h-16zM778 300h16v4h-16zM778 340h16v4h-16zM794 157h16v3h-16zM794 227h16v3h-16zM794 304h16v3h-16zM794 417h16v3h-16zM810 317h16v3h-16zM810 504h16v3h-16zM810 534h16v3h-16zM810 607h16v3h-16zM826 87h16v4h-16zM826 164h16v3h-16zM826 190h16v4h-16zM842 84h16v3h-16zM842 190h16v4h-16zM842 277h16v3h-16zM842 354h16v3h-16zM842 410h16v4h-16zM842 517h16v3h-16zM842 540h16v4h-16zM858 167h16v3h-16zM858 280h16v4h-16zM858 417h16v3h-16z"/><path fill="#6be693" d="M117 264h16v3h-16zM117 340h16v4h-16zM133 117h16v3h-16zM133 124h16v3h-16zM133 200h16v4h-16zM149 187h16v3h-16zM149 244h16v3h-16zM149 274h16v3h-16zM149 347h16v3h-16zM149 377h16v3h-16zM149 397h16v3h-16zM149 490h16v4h-16zM165 157h16v3h-16zM165 244h16v3h-16zM165 337h16v3h-16zM165 500h16v4h-16zM165 544h16v3h-16zM165 550h16v4h-16zM181 407h16v3h-16zM181 497h16v3h-16zM181 567h16v3h-16zM181 637h16v3h-16zM197 97h16v3h-16zM197 264h16v3h-16zM197 484h16v3h-16zM197 567h16v3h-16zM213 307h16v3h-16zM213 327h16v3h-16zM213 387h16v3h-16zM213 440h16v4h-16zM213 477h16v3h-16zM213 524h16v3h-16zM229 307h17v3h-17zM229 430h17v4h-17zM229 470h17v4h-17zM246 337h16v3h-16zM246 520h16v4h-16zM246 550h16v4h-16zM246 650h16v4h-16zM262 434h16v3h-16zM262 574h16v3h-16zM262 634h16v3h-16zM262 664h16v3h-16zM278 130h16v4h-16zM278 194h16v3h-16zM278 390h16v4h-16zM278 560h16v4h-16zM278 580h16v4h-16zM294 404h16v3h-16zM294 584h16v3h-16zM310 207h16v3h-16zM326 94h16v3h-16zM326 400h16v4h-16zM326 417h16v3h-16zM326 624h16v3h-16zM342 660h16v4h-16zM358 587h17v3h-17zM358 610h17v4h-17zM358 667h17v3h-17zM375 494h16v3h-16zM375 550h16v4h-16zM375 654h16v3h-16zM391 657h16v3h-16zM407 560h16v4h-16zM407 617h16v3h-16zM407 684h16v3h-16zM439 674h16v3h-16zM455 700h16v4h-16zM471 244h16v3h-16zM471 384h16v3h-16zM471 484h16v3h-16zM487 487h17v3h-17zM504 534h16v3h-16zM504 604h16v3h-16zM536 387h16v3h-16zM536 447h16v3h-16zM536 520h16v4h-16zM552 470h16v4h-16zM552 620h16v4h-16zM568 574h16v3h-16zM568 667h16v3h-16zM584 574h16v3h-16zM584 614h16v3h-16zM600 314h16v3h-16zM600 634h16v3h-16zM600 680h16v4h-16zM616 454h17v3h-17zM616 634h17v3h-17zM616 644h17v3h-17zM616 694h17v3h-17zM633 337h16v3h-16zM633 364h16v3h-16zM633 550h16v4h-16zM633 677h16v7h-16zM633 694h16v3h-16zM649 620h16v4h-16zM665 517h16v3h-16zM665 614h16v3h-16zM665 620h16v4h-16zM681 237h16v3h-16zM681 434h16v3h-16zM681 564h16v3h-16zM681 704h16v3h-16zM697 490h16v4h-16zM697 580h16v4h-16zM697 587h16v3h-16zM697 630h16v4h-16zM697 644h16v3h-16zM713 227h16v3h-16zM713 447h16v3h-16zM713 474h16v3h-16zM713 534h16v3h-16zM713 567h16v7h-16zM729 337h16v3h-16zM729 394h16v3h-16zM729 400h16v4h-16zM745 334h17v3h-17zM745 504h17v3h-17zM745 667h17v3h-17zM762 177h16v3h-16zM762 394h16v3h-16zM762 477h16v3h-16zM778 364h16v3h-16zM778 450h16v4h-16zM778 457h16v3h-16zM778 484h16v3h-16zM778 490h16v4h-16zM778 500h16v4h-16zM778 560h16v4h-16zM794 297h16v3h-16zM794 337h16v3h-16zM794 414h16v3h-16zM794 494h16v3h-16zM794 640h16v7h-16zM810 334h16v3h-16zM810 397h16v3h-16zM810 437h16v3h-16zM810 540h16v4h-16zM826 91h16v3h-16zM826 110h16v4h-16zM826 540h16v4h-16zM842 81h16v3h-16zM842 120h16v7h-16zM842 217h16v3h-16zM842 534h16v3h-16zM858 257h16v7h-16zM858 270h16v4h-16zM858 344h16v3h-16zM858 430h16v4h-16zM858 654h16v3h-16z"/><path fill="#007dce" d="M117 284h16v3h-16zM149 450h16v4h-16zM165 140h16v4h-16zM165 360h16v4h-16zM165 464h16v3h-16zM165 514h16v3h-16zM181 107h16v3h-16zM197 407h16v3h-16zM213 294h16v3h-16zM246 230h16v4h-16zM246 660h16v4h-16zM262 220h16v4h-16zM262 500h16v4h-16zM278 91h16v3h-16zM278 157h16v3h-16zM278 214h16v3h-16zM278 284h16v3h-16zM294 114h16v3h-16zM310 124h16v3h-16zM310 190h16v4h-16zM310 287h16v3h-16zM310 300h16v4h-16zM310 570h16v4h-16zM326 430h16v4h-16zM342 650h16v4h-16zM358 117h17v3h-17zM375 154h16v3h-16zM375 300h16v4h-16zM375 447h16v3h-16zM391 690h16v4h-16zM407 107h16v3h-16zM407 250h16v4h-16zM407 394h16v3h-16zM407 410h16v4h-16zM407 607h16v3h-16zM423 97h16v3h-16zM423 227h16v3h-16zM423 250h16v4h-16zM423 377h16v3h-16zM423 444h16v3h-16zM423 723h16v4h-16zM439 84h16v3h-16zM439 127h16v3h-16zM439 230h16v7h-16zM439 327h16v3h-16zM439 404h16v3h-16zM455 594h16v3h-16zM471 234h16v3h-16zM471 327h16v3h-16zM487 170h17v4h-17zM487 300h17v4h-17zM487 314h17v3h-17zM487 447h17v3h-17zM504 160h16v4h-16zM504 190h16v7h-16zM504 340h16v4h-16zM520 170h16v4h-16zM520 230h16v4h-16zM520 310h16v4h-16zM536 94h16v3h-16zM536 144h16v3h-16zM536 174h16v3h-16zM536 210h16v4h-16zM536 300h16v4h-16zM536 334h16v3h-16zM536 377h16v3h-16zM536 420h16v4h-16zM536 437h16v3h-16zM536 690h16v4h-16zM552 467h16v3h-16zM552 530h16v4h-16zM568 130h16v4h-16zM568 310h16v4h-16zM568 400h16v4h-16zM568 577h16v3h-16zM584 394h16v3h-16zM584 524h16v3h-16zM600 84h16v3h-16zM600 94h16v3h-16zM600 194h16v3h-16zM600 224h16v3h-16zM600 340h16v4h-16zM600 424h16v3h-16zM600 544h16v3h-16zM616 204h17v3h-17zM616 270h17v4h-17zM633 227h16v3h-16zM633 240h16v4h-16zM633 334h16v3h-16zM649 117h16v3h-16zM649 274h16v3h-16zM649 317h16v3h-16zM649 334h16v3h-16zM649 544h16v3h-16zM665 157h16v3h-16zM665 164h16v3h-16zM665 204h16v3h-16zM665 510h16v4h-16zM681 117h16v3h-16zM681 234h16v3h-16zM681 477h16v3h-16zM697 154h16v3h-16zM697 304h16v3h-16zM713 110h16v4h-16zM713 177h16v3h-16zM713 207h16v3h-16zM713 260h16v4h-16zM713 540h16v4h-16zM729 310h16v4h-16zM729 384h16v3h-16zM729 660h16v4h-16zM745 210h17v4h-17zM745 297h17v3h-17zM762 104h16v3h-16zM762 294h16v3h-16zM778 190h16v4h-16zM778 197h16v3h-16zM810 460h16v4h-16zM826 270h16v4h-16zM826 597h16v3h-16z"/><path fill="#004baf" d="M117 287h16v3h-16zM149 390h16v4h-16zM165 627h16v3h-16zM197 170h16v4h-16zM278 190h16v4h-16zM278 577h16v3h-16zM294 400h16v4h-16zM310 97h16v3h-16zM342 494h16v3h-16zM439 134h16v3h-16zM439 577h16v3h-16zM455 91h16v3h-16zM471 474h16v3h-16zM471 497h16v3h-16zM471 577h16v3h-16zM487 367h17v3h-17zM504 280h16v4h-16zM504 327h16v3h-16zM504 334h16v3h-16zM504 577h16v3h-16zM520 177h16v3h-16zM552 217h16v3h-16zM584 110h16v4h-16zM584 547h16v3h-16zM665 274h16v3h-16zM713 154h16v3h-16zM713 244h16v3h-16zM745 194h17v3h-17zM745 374h17v3h-17zM762 430h16v4h-16zM810 277h16v3h-16zM858 284h16v3h-16z"/><path fill="#0064bf" d="M117 290h16v4h-16zM133 187h16v3h-16zM149 454h16v3h-16zM197 350h16v4h-16zM213 484h16v3h-16zM246 210h16v4h-16zM246 267h16v3h-16zM262 624h16v3h-16zM310 440h16v4h-16zM342 144h16v3h-16zM342 227h16v3h-16zM358 124h17v3h-17zM375 97h16v3h-16zM407 370h16v4h-16zM423 224h16v3h-16zM423 430h16v4h-16zM439 177h16v3h-16zM439 464h16v3h-16zM455 290h16v4h-16zM471 404h16v3h-16zM487 214h17v3h-17zM487 507h17v3h-17zM487 584h17v3h-17zM504 497h16v3h-16zM504 660h16v4h-16zM520 267h16v3h-16zM520 290h16v4h-16zM536 340h16v4h-16zM536 444h16v3h-16zM568 227h16v3h-16zM568 374h16v3h-16zM568 404h16v3h-16zM568 527h16v3h-16zM584 157h16v3h-16zM584 470h16v4h-16zM600 91h16v3h-16zM600 174h16v3h-16zM600 274h16v3h-16zM600 350h16v4h-16zM616 534h17v3h-17zM633 124h16v3h-16zM633 180h16v4h-16zM681 217h16v7h-16zM681 354h16v3h-16zM697 334h16v3h-16zM697 450h16v4h-16zM713 297h16v3h-16zM713 464h16v3h-16zM745 327h17v3h-17zM778 170h16v4h-16zM794 110h16v4h-16zM794 174h16v3h-16z"/><path fill="#00b6f0" d="M117 400h16v4h-16zM133 240h16v4h-16zM133 514h16v3h-16zM149 130h16v4h-16zM149 210h16v4h-16zM165 97h16v3h-16zM165 170h16v4h-16zM165 230h16v4h-16zM165 267h16v3h-16zM165 324h16v3h-16zM181 214h16v3h-16zM181 380h16v4h-16zM197 81h16v3h-16zM197 144h16v3h-16zM197 167h16v3h-16zM197 310h16v4h-16zM197 510h16v4h-16zM213 84h16v3h-16zM213 187h16v3h-16zM213 287h16v3h-16zM213 324h16v3h-16zM213 420h16v4h-16zM229 81h17v3h-17zM229 100h17v4h-17zM229 120h17v4h-17zM229 137h17v7h-17zM229 410h17v4h-17zM229 450h17v4h-17zM229 487h17v3h-17zM229 677h17v3h-17zM246 370h16v4h-16zM246 384h16v6h-16zM246 424h16v3h-16zM246 497h16v3h-16zM262 97h16v3h-16zM262 124h16v3h-16zM262 334h16v3h-16zM262 404h16v3h-16zM262 417h16v3h-16zM262 477h16v3h-16zM278 100h16v4h-16zM278 210h16v4h-16zM278 317h16v3h-16zM278 347h16v3h-16zM278 497h16v3h-16zM278 537h16v3h-16zM294 97h16v3h-16zM294 234h16v3h-16zM294 304h16v3h-16zM294 407h16v3h-16zM294 444h16v3h-16zM294 450h16v4h-16zM310 87h16v4h-16zM310 170h16v4h-16zM310 397h16v3h-16zM310 484h16v3h-16zM326 144h16v3h-16zM326 150h16v4h-16zM326 210h16v4h-16zM326 237h16v3h-16zM326 337h16v3h-16zM326 347h16v3h-16zM326 370h16v4h-16zM326 377h16v3h-16zM326 474h16v3h-16zM326 507h16v3h-16zM326 590h16v4h-16zM326 610h16v4h-16zM342 81h16v3h-16zM342 97h16v3h-16zM342 164h16v6h-16zM342 220h16v4h-16zM342 390h16v4h-16zM342 480h16v4h-16zM358 144h17v3h-17zM358 190h17v4h-17zM358 337h17v3h-17zM358 350h17v7h-17zM358 424h17v3h-17zM358 530h17v4h-17zM375 110h16v4h-16zM375 250h16v4h-16zM375 350h16v4h-16zM375 520h16v7h-16zM375 554h16v3h-16zM375 644h16v3h-16zM391 274h16v3h-16zM391 364h16v3h-16zM407 147h16v3h-16zM407 220h16v4h-16zM407 307h16v3h-16zM407 340h16v4h-16zM407 350h16v4h-16zM407 384h16v3h-16zM407 584h16v3h-16zM423 104h16v10h-16zM423 280h16v4h-16zM423 340h16v4h-16zM423 357h16v3h-16zM423 374h16v3h-16zM423 427h16v3h-16zM423 584h16v3h-16zM439 174h16v3h-16zM439 227h16v3h-16zM439 277h16v3h-16zM439 287h16v3h-16zM439 310h16v4h-16zM439 320h16v4h-16zM439 397h16v7h-16zM439 467h16v3h-16zM439 477h16v7h-16zM439 510h16v4h-16zM439 530h16v4h-16zM455 97h16v3h-16zM455 167h16v3h-16zM455 227h16v3h-16zM455 367h16v3h-16zM455 560h16v4h-16zM471 81h16v3h-16zM471 114h16v3h-16zM471 124h16v3h-16zM471 194h16v3h-16zM471 214h16v3h-16zM471 354h16v3h-16zM471 424h16v3h-16zM471 510h16v4h-16zM471 590h16v4h-16zM471 667h16v3h-16zM487 334h17v3h-17zM487 560h17v4h-17zM504 127h16v3h-16zM504 134h16v3h-16zM504 364h16v3h-16zM504 390h16v7h-16zM504 417h16v3h-16zM504 444h16v3h-16zM504 537h16v3h-16zM520 110h16v4h-16zM520 137h16v3h-16zM520 280h16v4h-16zM520 427h16v3h-16zM520 444h16v3h-16zM520 457h16v3h-16zM520 484h16v3h-16zM520 514h16v3h-16zM520 627h16v3h-16zM536 150h16v4h-16zM536 224h16v3h-16zM552 87h16v4h-16zM552 154h16v3h-16zM552 194h16v3h-16zM552 430h16v4h-16zM552 557h16v3h-16zM552 570h16v4h-16zM568 94h16v3h-16zM568 104h16v3h-16zM568 267h16v3h-16zM568 314h16v3h-16zM568 627h16v3h-16zM584 107h16v3h-16zM584 127h16v3h-16zM584 194h16v3h-16zM584 217h16v3h-16zM584 324h16v3h-16zM584 404h16v3h-16zM584 494h16v3h-16zM584 557h16v3h-16zM584 677h16v3h-16zM600 170h16v4h-16zM600 210h16v4h-16zM600 294h16v3h-16zM600 310h16v4h-16zM600 330h16v4h-16zM600 404h16v3h-16zM600 437h16v3h-16zM600 457h16v3h-16zM600 490h16v4h-16zM600 624h16v3h-16zM616 104h17v3h-17zM616 110h17v4h-17zM616 170h17v4h-17zM616 230h17v4h-17zM616 380h17v7h-17zM616 494h17v3h-17zM616 507h17v3h-17zM616 557h17v3h-17zM616 567h17v3h-17zM616 670h17v4h-17zM633 127h16v3h-16zM633 477h16v3h-16zM633 590h16v4h-16zM633 650h16v4h-16zM633 674h16v3h-16zM649 217h16v3h-16zM649 340h16v4h-16zM649 357h16v3h-16zM649 394h16v3h-16zM649 564h16v3h-16zM665 184h16v3h-16zM665 264h16v3h-16zM665 310h16v4h-16zM665 337h16v3h-16zM665 480h16v4h-16zM665 557h16v3h-16zM665 647h16v3h-16zM681 104h16v3h-16zM681 140h16v4h-16zM681 340h16v4h-16zM681 367h16v3h-16zM681 644h16v3h-16zM697 224h16v3h-16zM697 394h16v3h-16zM697 557h16v3h-16zM713 134h16v3h-16zM713 364h16v3h-16zM713 394h16v3h-16zM713 400h16v4h-16zM729 84h16v3h-16zM729 170h16v4h-16zM729 190h16v4h-16zM729 254h16v3h-16zM729 350h16v4h-16zM729 360h16v4h-16zM729 387h16v3h-16zM745 94h17v3h-17zM745 204h17v3h-17zM745 237h17v3h-17zM745 344h17v3h-17zM762 247h16v3h-16zM762 367h16v3h-16zM762 397h16v3h-16zM762 454h16v3h-16zM778 144h16v3h-16zM778 157h16v3h-16zM778 210h16v4h-16zM778 380h16v4h-16zM778 444h16v3h-16zM778 514h16v3h-16zM778 577h16v3h-16zM794 240h16v4h-16zM794 267h16v3h-16zM794 554h16v3h-16zM810 94h16v3h-16zM810 324h16v3h-16zM810 360h16v4h-16zM810 464h16v3h-16zM810 564h16v3h-16zM826 200h16v4h-16zM826 390h16v4h-16zM826 520h16v4h-16zM842 144h16v3h-16zM842 160h16v4h-16zM858 110h16v4h-16z"/><path fill="#42ddbd" d="M117 410h16v4h-16zM117 430h16v4h-16zM133 94h16v6h-16zM133 320h16v4h-16zM133 350h16v4h-16zM133 407h16v3h-16zM133 544h16v3h-16zM149 110h16v4h-16zM149 174h16v3h-16zM149 237h16v3h-16zM149 250h16v4h-16zM149 374h16v3h-16zM149 380h16v4h-16zM149 434h16v3h-16zM165 160h16v4h-16zM165 214h16v3h-16zM165 264h16v3h-16zM165 454h16v3h-16zM165 487h16v10h-16zM165 617h16v3h-16zM181 130h16v4h-16zM181 187h16v3h-16zM181 230h16v4h-16zM181 277h16v3h-16zM181 400h16v7h-16zM197 274h16v3h-16zM197 344h16v3h-16zM197 397h16v7h-16zM197 490h16v4h-16zM197 610h16v4h-16zM213 124h16v3h-16zM213 204h16v3h-16zM213 340h16v4h-16zM213 517h16v3h-16zM213 627h16v3h-16zM229 177h17v3h-17zM229 290h17v4h-17zM229 330h17v4h-17zM229 427h17v3h-17zM229 490h17v4h-17zM246 277h16v3h-16zM246 374h16v3h-16zM246 437h16v3h-16zM246 547h16v3h-16zM246 557h16v3h-16zM246 580h16v4h-16zM262 104h16v3h-16zM262 247h16v3h-16zM262 590h16v4h-16zM262 640h16v4h-16zM278 227h16v3h-16zM278 290h16v4h-16zM278 407h16v3h-16zM278 567h16v3h-16zM278 604h16v3h-16zM278 700h16v4h-16zM294 327h16v3h-16zM294 350h16v4h-16zM294 390h16v4h-16zM294 500h16v4h-16zM310 237h16v3h-16zM310 500h16v4h-16zM310 507h16v3h-16zM310 560h16v4h-16zM310 637h16v3h-16zM326 160h16v4h-16zM326 184h16v3h-16zM326 520h16v4h-16zM326 567h16v3h-16zM326 574h16v3h-16zM342 447h16v3h-16zM342 690h16v4h-16zM358 87h17v4h-17zM358 104h17v3h-17zM358 114h17v3h-17zM358 317h17v3h-17zM358 334h17v3h-17zM358 374h17v3h-17zM358 420h17v4h-17zM358 480h17v4h-17zM358 504h17v3h-17zM358 584h17v3h-17zM375 187h16v3h-16zM375 417h16v3h-16zM375 454h16v3h-16zM375 514h16v3h-16zM375 540h16v4h-16zM375 547h16v3h-16zM375 557h16v7h-16zM391 160h16v4h-16zM391 310h16v4h-16zM391 327h16v3h-16zM391 490h16v4h-16zM391 650h16v4h-16zM407 240h16v4h-16zM407 320h16v4h-16zM407 367h16v3h-16zM407 377h16v3h-16zM407 457h16v3h-16zM407 517h16v3h-16zM407 550h16v4h-16zM407 667h16v3h-16zM423 177h16v3h-16zM423 334h16v3h-16zM423 534h16v3h-16zM423 554h16v3h-16zM423 637h16v3h-16zM423 654h16v3h-16zM423 670h16v4h-16zM439 81h16v3h-16zM439 257h16v3h-16zM439 354h16v3h-16zM439 414h16v3h-16zM439 560h16v4h-16zM439 600h16v4h-16zM455 174h16v3h-16zM455 214h16v3h-16zM455 334h16v3h-16zM455 524h16v3h-16zM455 634h16v3h-16zM471 210h16v4h-16zM471 414h16v3h-16zM471 477h16v3h-16zM471 550h16v4h-16zM471 604h16v3h-16zM471 710h16v3h-16zM471 727h16v3h-16zM487 317h17v3h-17zM504 224h16v3h-16zM504 314h16v3h-16zM504 350h16v4h-16zM504 407h16v3h-16zM504 574h16v3h-16zM520 374h16v3h-16zM520 504h16v3h-16zM520 640h16v4h-16zM536 137h16v3h-16zM536 407h16v3h-16zM536 414h16v3h-16zM536 434h16v3h-16zM552 264h16v3h-16zM552 344h16v3h-16zM552 400h16v4h-16zM552 407h16v3h-16zM552 630h16v4h-16zM568 147h16v3h-16zM568 164h16v3h-16zM568 390h16v4h-16zM568 707h16v3h-16zM584 280h16v4h-16zM584 317h16v3h-16zM584 484h16v3h-16zM584 534h16v3h-16zM584 597h16v3h-16zM584 667h16v3h-16zM600 120h16v4h-16zM600 187h16v3h-16zM600 357h16v3h-16zM600 484h16v3h-16zM600 534h16v3h-16zM600 617h16v3h-16zM616 244h17v3h-17zM616 280h17v4h-17zM616 480h17v4h-17zM616 504h17v3h-17zM616 530h17v4h-17zM633 207h16v3h-16zM633 604h16v3h-16zM649 144h16v3h-16zM649 174h16v3h-16zM649 330h16v4h-16zM649 380h16v4h-16zM649 480h16v4h-16zM649 547h16v3h-16zM649 674h16v3h-16zM665 324h16v3h-16zM665 377h16v3h-16zM665 404h16v3h-16zM665 560h16v4h-16zM665 630h16v4h-16zM665 650h16v4h-16zM681 224h16v3h-16zM681 357h16v3h-16zM681 390h16v4h-16zM681 517h16v3h-16zM697 317h16v3h-16zM697 324h16v3h-16zM697 414h16v3h-16zM697 447h16v3h-16zM697 624h16v3h-16zM713 267h16v3h-16zM713 320h16v4h-16zM713 357h16v3h-16zM713 380h16v4h-16zM713 497h16v3h-16zM713 620h16v4h-16zM713 657h16v3h-16zM729 317h16v3h-16zM729 597h16v3h-16zM729 627h16v3h-16zM729 634h16v3h-16zM729 690h16v4h-16zM745 167h17v3h-17zM745 534h17v3h-17zM745 554h17v3h-17zM745 620h17v4h-17zM762 250h16v4h-16zM762 277h16v3h-16zM762 330h16v4h-16zM762 507h16v3h-16zM778 394h16v3h-16zM778 430h16v4h-16zM794 94h16v3h-16zM794 160h16v4h-16zM794 180h16v4h-16zM794 350h16v4h-16zM794 490h16v4h-16zM794 634h16v3h-16zM810 84h16v3h-16zM810 130h16v4h-16zM810 137h16v3h-16zM810 210h16v4h-16zM810 247h16v3h-16zM810 260h16v4h-16zM810 297h16v3h-16zM810 340h16v4h-16zM810 390h16v4h-16zM826 84h16v3h-16zM826 170h16v4h-16zM826 300h16v4h-16zM826 377h16v3h-16zM826 387h16v3h-16zM826 440h16v4h-16zM826 487h16v3h-16zM842 547h16v3h-16zM858 144h16v3h-16zM858 244h16v6h-16zM858 420h16v4h-16z"/><path fill="#73e88b" d="M117 420h16v4h-16zM133 120h16v4h-16zM133 340h16v4h-16zM133 347h16v3h-16zM149 334h16v10h-16zM149 427h16v3h-16zM149 437h16v3h-16zM149 457h16v3h-16zM149 500h16v4h-16zM165 107h16v3h-16zM165 154h16v3h-16zM165 194h16v3h-16zM165 537h16v3h-16zM181 257h16v3h-16zM181 364h16v3h-16zM181 450h16v4h-16zM181 627h16v3h-16zM197 147h16v3h-16zM197 600h16v4h-16zM197 644h16v3h-16zM213 254h16v3h-16zM229 570h17v4h-17zM246 377h16v3h-16zM246 527h16v3h-16zM262 437h16v3h-16zM262 470h16v4h-16zM262 567h16v3h-16zM294 587h16v3h-16zM294 704h16v3h-16zM326 437h16v3h-16zM326 600h16v4h-16zM326 620h16v4h-16zM342 290h16v4h-16zM342 387h16v3h-16zM342 484h16v3h-16zM342 507h16v3h-16zM342 534h16v3h-16zM342 560h16v4h-16zM342 677h16v3h-16zM358 607h17v3h-17zM358 614h17v3h-17zM375 574h16v3h-16zM391 640h16v4h-16zM391 654h16v3h-16zM407 444h16v3h-16zM407 494h16v3h-16zM407 687h16v3h-16zM423 710h16v3h-16zM439 617h16v3h-16zM455 454h16v3h-16zM455 660h16v4h-16zM455 674h16v3h-16zM455 710h16v3h-16zM471 644h16v3h-16zM471 677h16v3h-16zM487 427h17v3h-17zM487 534h17v3h-17zM487 557h17v3h-17zM487 587h17v3h-17zM487 727h17v3h-17zM504 624h16v3h-16zM520 587h16v3h-16zM520 644h16v3h-16zM520 670h16v4h-16zM520 720h16v3h-16zM536 560h16v4h-16zM536 580h16v4h-16zM536 600h16v4h-16zM536 640h16v4h-16zM536 657h16v3h-16zM536 687h16v3h-16zM552 247h16v3h-16zM552 554h16v3h-16zM552 670h16v4h-16zM568 407h16v3h-16zM568 437h16v3h-16zM568 444h16v3h-16zM568 620h16v4h-16zM584 427h16v3h-16zM600 364h16v3h-16zM600 494h16v3h-16zM600 574h16v3h-16zM600 717h16v3h-16zM616 514h17v3h-17zM616 570h17v4h-17zM616 630h17v4h-17zM616 667h17v3h-17zM616 680h17v4h-17zM633 300h16v4h-16zM633 410h16v4h-16zM649 194h16v3h-16zM665 457h16v3h-16zM681 327h16v3h-16zM681 497h16v3h-16zM697 194h16v3h-16zM697 387h16v3h-16zM697 554h16v3h-16zM697 697h16v3h-16zM713 434h16v3h-16zM713 527h16v3h-16zM713 590h16v4h-16zM713 597h16v3h-16zM713 614h16v3h-16zM729 334h16v3h-16zM745 87h17v4h-17zM745 537h17v3h-17zM745 544h17v3h-17zM762 357h16v3h-16zM762 384h16v3h-16zM762 434h16v3h-16zM762 480h16v4h-16zM762 594h16v3h-16zM762 610h16v4h-16zM778 264h16v3h-16zM778 497h16v3h-16zM778 627h16v3h-16zM778 647h16v3h-16zM794 117h16v3h-16zM794 187h16v3h-16zM794 234h16v3h-16zM794 400h16v4h-16zM794 454h16v3h-16zM794 530h16v4h-16zM794 584h16v3h-16zM794 607h16v3h-16zM810 107h16v3h-16zM810 150h16v4h-16zM810 400h16v7h-16zM810 497h16v7h-16zM810 507h16v3h-16zM810 547h16v3h-16zM826 184h16v6h-16zM826 314h16v3h-16zM826 504h16v3h-16zM826 510h16v4h-16zM826 587h16v7h-16zM842 117h16v3h-16zM842 137h16v3h-16zM842 200h16v4h-16zM842 287h16v3h-16zM842 477h16v3h-16zM842 520h16v4h-16zM858 140h16v4h-16zM858 347h16v3h-16zM858 357h16v3h-16z"/><path fill="#0077ca" d="M133 100h16v4h-16zM133 440h16v4h-16zM149 197h16v3h-16zM149 260h16v4h-16zM165 227h16v3h-16zM165 367h16v3h-16zM181 137h16v3h-16zM181 240h16v4h-16zM197 230h16v4h-16zM197 354h16v3h-16zM213 170h16v4h-16zM229 234h17v3h-17zM229 280h17v4h-17zM229 437h17v3h-17zM246 84h16v3h-16zM246 170h16v4h-16zM262 257h16v3h-16zM278 150h16v4h-16zM278 337h16v3h-16zM278 350h16v4h-16zM294 174h16v3h-16zM310 310h16v4h-16zM326 357h16v3h-16zM326 460h16v4h-16zM342 237h16v3h-16zM342 267h16v3h-16zM342 357h16v3h-16zM342 394h16v3h-16zM342 607h16v3h-16zM358 160h17v4h-17zM375 91h16v3h-16zM375 124h16v3h-16zM391 194h16v6h-16zM391 334h16v3h-16zM407 117h16v3h-16zM407 660h16v4h-16zM423 164h16v3h-16zM423 190h16v4h-16zM423 274h16v3h-16zM439 410h16v4h-16zM439 660h16v4h-16zM455 117h16v3h-16zM455 170h16v4h-16zM455 410h16v4h-16zM455 627h16v3h-16zM471 130h16v4h-16zM471 277h16v3h-16zM471 660h16v4h-16zM487 190h17v4h-17zM487 307h17v3h-17zM487 380h17v4h-17zM487 434h17v3h-17zM504 130h16v4h-16zM504 220h16v4h-16zM504 240h16v4h-16zM520 100h16v4h-16zM536 100h16v4h-16zM536 154h16v3h-16zM536 230h16v4h-16zM536 244h16v3h-16zM536 470h16v4h-16zM552 180h16v4h-16zM552 330h16v4h-16zM568 81h16v3h-16zM568 364h16v3h-16zM584 100h16v4h-16zM584 117h16v3h-16zM584 234h16v3h-16zM584 294h16v3h-16zM584 360h16v4h-16zM600 257h16v3h-16zM616 224h17v3h-17zM633 117h16v3h-16zM633 320h16v4h-16zM633 367h16v3h-16zM633 607h16v3h-16zM649 91h16v3h-16zM649 187h16v3h-16zM649 267h16v3h-16zM649 397h16v3h-16zM681 87h16v4h-16zM697 110h16v4h-16zM697 200h16v4h-16zM713 167h16v3h-16zM713 500h16v4h-16zM713 624h16v3h-16zM729 130h16v4h-16zM729 290h16v4h-16zM729 534h16v3h-16zM729 610h16v4h-16zM762 240h16v4h-16zM762 417h16v3h-16zM778 114h16v3h-16zM794 507h16v3h-16zM810 87h16v4h-16zM826 330h16v4h-16zM826 454h16v3h-16z"/><path fill="#0058b7" d="M133 104h16v3h-16zM149 97h16v3h-16zM181 507h16v3h-16zM197 540h16v4h-16zM213 244h16v3h-16zM229 194h17v3h-17zM246 270h16v4h-16zM246 367h16v3h-16zM262 244h16v3h-16zM262 350h16v4h-16zM278 137h16v3h-16zM294 217h16v3h-16zM310 274h16v3h-16zM326 267h16v3h-16zM326 294h16v3h-16zM342 180h16v4h-16zM358 97h17v3h-17zM375 257h16v3h-16zM375 340h16v4h-16zM375 490h16v4h-16zM375 544h16v3h-16zM423 294h16v3h-16zM423 367h16v3h-16zM423 494h16v3h-16zM455 297h16v3h-16zM455 337h16v3h-16zM455 494h16v3h-16zM455 704h16v3h-16zM487 127h17v3h-17zM504 84h16v3h-16zM504 257h16v3h-16zM504 410h16v4h-16zM520 244h16v3h-16zM520 577h16v3h-16zM536 464h16v3h-16zM552 134h16v3h-16zM552 244h16v3h-16zM552 500h16v4h-16zM568 97h16v3h-16zM568 144h16v3h-16zM568 244h16v3h-16zM584 147h16v3h-16zM584 454h16v3h-16zM600 267h16v3h-16zM600 374h16v3h-16zM649 644h16v3h-16zM665 84h16v3h-16zM665 94h16v3h-16zM665 137h16v3h-16zM665 327h16v3h-16zM665 367h16v7h-16zM858 287h16v3h-16z"/><path fill="#0090d9" d="M133 107h16v3h-16zM149 264h16v3h-16zM165 357h16v3h-16zM181 200h16v4h-16zM181 464h16v3h-16zM197 174h16v3h-16zM197 254h16v3h-16zM213 91h16v3h-16zM213 134h16v3h-16zM213 320h16v4h-16zM213 367h16v3h-16zM229 190h17v4h-17zM229 344h17v3h-17zM229 394h17v3h-17zM229 434h17v3h-17zM229 444h17v3h-17zM246 167h16v3h-16zM246 247h16v3h-16zM246 344h16v3h-16zM246 354h16v3h-16zM262 84h16v3h-16zM262 117h16v3h-16zM262 207h16v3h-16zM262 217h16v3h-16zM278 124h16v3h-16zM278 287h16v3h-16zM278 320h16v4h-16zM278 420h16v4h-16zM278 520h16v4h-16zM294 91h16v3h-16zM294 144h16v3h-16zM294 150h16v4h-16zM294 284h16v3h-16zM294 307h16v3h-16zM310 94h16v3h-16zM310 110h16v4h-16zM310 297h16v3h-16zM310 367h16v3h-16zM310 420h16v4h-16zM310 460h16v4h-16zM326 304h16v3h-16zM342 120h16v4h-16zM342 194h16v3h-16zM342 217h16v3h-16zM342 504h16v3h-16zM342 530h16v4h-16zM358 127h17v3h-17zM358 187h17v3h-17zM358 227h17v3h-17zM358 267h17v3h-17zM358 327h17v3h-17zM358 370h17v4h-17zM358 440h17v4h-17zM375 117h16v3h-16zM375 130h16v4h-16zM375 237h16v3h-16zM375 317h16v3h-16zM375 424h16v3h-16zM375 440h16v4h-16zM375 567h16v3h-16zM391 314h16v3h-16zM391 440h16v4h-16zM391 464h16v3h-16zM407 184h16v3h-16zM407 230h16v4h-16zM407 290h16v4h-16zM407 364h16v3h-16zM407 414h16v3h-16zM407 497h16v3h-16zM423 87h16v4h-16zM423 170h16v4h-16zM423 180h16v4h-16zM423 214h16v6h-16zM423 244h16v3h-16zM423 304h16v3h-16zM423 324h16v3h-16zM423 330h16v4h-16zM423 457h16v3h-16zM439 210h16v4h-16zM439 274h16v3h-16zM439 490h16v4h-16zM455 177h16v7h-16zM455 194h16v3h-16zM455 280h16v4h-16zM471 287h16v3h-16zM471 310h16v4h-16zM471 410h16v4h-16zM471 447h16v3h-16zM471 520h16v4h-16zM471 584h16v3h-16zM471 614h16v3h-16zM487 264h17v3h-17zM487 344h17v3h-17zM487 514h17v3h-17zM487 524h17v3h-17zM487 690h17v4h-17zM504 91h16v3h-16zM504 100h16v4h-16zM504 144h16v3h-16zM504 204h16v3h-16zM504 310h16v4h-16zM520 114h16v3h-16zM520 204h16v3h-16zM520 390h16v4h-16zM520 560h16v4h-16zM536 87h16v4h-16zM536 97h16v3h-16zM536 200h16v4h-16zM536 217h16v3h-16zM536 227h16v3h-16zM536 450h16v4h-16zM536 477h16v3h-16zM552 137h16v3h-16zM552 174h16v3h-16zM552 410h16v4h-16zM552 417h16v3h-16zM552 444h16v3h-16zM552 577h16v3h-16zM568 91h16v3h-16zM568 107h16v3h-16zM568 170h16v4h-16zM568 180h16v4h-16zM568 207h16v3h-16zM568 250h16v7h-16zM568 477h16v3h-16zM568 497h16v3h-16zM584 187h16v3h-16zM584 424h16v3h-16zM584 554h16v3h-16zM600 81h16v3h-16zM600 104h16v3h-16zM600 114h16v3h-16zM600 190h16v4h-16zM600 244h16v3h-16zM600 317h16v3h-16zM600 334h16v3h-16zM616 267h17v3h-17zM616 594h17v3h-17zM633 444h16v3h-16zM649 104h16v10h-16zM649 177h16v3h-16zM649 277h16v3h-16zM665 160h16v4h-16zM665 220h16v4h-16zM665 297h16v3h-16zM681 137h16v3h-16zM681 157h16v3h-16zM681 230h16v4h-16zM681 244h16v3h-16zM681 264h16v3h-16zM681 330h16v4h-16zM681 397h16v3h-16zM681 444h16v3h-16zM697 107h16v3h-16zM697 174h16v3h-16zM697 267h16v3h-16zM697 427h16v3h-16zM713 120h16v4h-16zM713 270h16v4h-16zM729 110h16v4h-16zM729 340h16v4h-16zM729 367h16v3h-16zM729 424h16v3h-16zM745 81h17v3h-17zM762 140h16v4h-16zM778 107h16v3h-16zM778 140h16v4h-16zM778 254h16v3h-16zM794 320h16v4h-16zM810 147h16v3h-16zM810 307h16v3h-16zM810 367h16v3h-16zM810 510h16v7h-16zM826 97h16v3h-16z"/><path fill="#00a3e4" d="M133 257h16v3h-16zM149 207h16v3h-16zM165 307h16v3h-16zM181 177h16v3h-16zM181 387h16v3h-16zM181 510h16v4h-16zM197 197h16v10h-16zM197 377h16v3h-16zM197 577h16v3h-16zM213 140h16v4h-16zM213 147h16v3h-16zM213 274h16v3h-16zM213 404h16v3h-16zM213 450h16v4h-16zM213 674h16v3h-16zM229 124h17v3h-17zM229 154h17v3h-17zM229 204h17v3h-17zM229 264h17v3h-17zM229 370h17v4h-17zM229 407h17v3h-17zM229 510h17v7h-17zM246 104h16v3h-16zM246 137h16v3h-16zM246 147h16v3h-16zM246 184h16v3h-16zM246 197h16v3h-16zM246 380h16v4h-16zM262 81h16v3h-16zM262 170h16v4h-16zM262 347h16v3h-16zM262 367h16v3h-16zM278 104h16v10h-16zM278 164h16v3h-16zM278 250h16v4h-16zM278 260h16v7h-16zM278 304h16v3h-16zM294 320h16v4h-16zM294 367h16v3h-16zM294 460h16v4h-16zM294 484h16v3h-16zM310 130h16v4h-16zM310 177h16v3h-16zM310 220h16v4h-16zM310 254h16v3h-16zM310 307h16v3h-16zM310 394h16v3h-16zM310 450h16v4h-16zM310 480h16v4h-16zM310 557h16v3h-16zM326 81h16v3h-16zM326 127h16v3h-16zM326 204h16v3h-16zM326 217h16v3h-16zM326 354h16v3h-16zM326 364h16v3h-16zM326 557h16v3h-16zM326 627h16v3h-16zM342 100h16v4h-16zM342 200h16v4h-16zM342 440h16v4h-16zM358 194h17v3h-17zM358 427h17v3h-17zM358 490h17v4h-17zM358 534h17v3h-17zM358 657h17v3h-17zM375 140h16v7h-16zM375 157h16v3h-16zM375 170h16v4h-16zM375 274h16v3h-16zM375 434h16v3h-16zM391 97h16v3h-16zM391 264h16v3h-16zM391 290h16v4h-16zM391 400h16v4h-16zM391 434h16v3h-16zM407 160h16v4h-16zM407 204h16v3h-16zM407 274h16v3h-16zM407 374h16v3h-16zM407 447h16v3h-16zM423 130h16v4h-16zM423 147h16v3h-16zM423 230h16v4h-16zM423 387h16v3h-16zM423 417h16v3h-16zM423 474h16v3h-16zM423 480h16v4h-16zM423 517h16v3h-16zM423 577h16v3h-16zM423 587h16v3h-16zM439 144h16v3h-16zM439 284h16v3h-16zM439 417h16v3h-16zM439 520h16v4h-16zM439 584h16v3h-16zM455 137h16v3h-16zM455 207h16v3h-16zM455 234h16v3h-16zM455 344h16v3h-16zM455 357h16v3h-16zM455 377h16v3h-16zM455 384h16v3h-16zM455 417h16v3h-16zM455 500h16v4h-16zM471 84h16v3h-16zM471 104h16v3h-16zM471 110h16v4h-16zM471 140h16v4h-16zM471 390h16v4h-16zM471 487h16v3h-16zM487 104h17v3h-17zM487 117h17v3h-17zM487 320h17v4h-17zM487 374h17v3h-17zM487 454h17v3h-17zM487 544h17v3h-17zM504 150h16v4h-16zM504 214h16v3h-16zM504 404h16v3h-16zM504 434h16v3h-16zM504 464h16v3h-16zM504 480h16v4h-16zM504 510h16v4h-16zM520 84h16v3h-16zM520 134h16v3h-16zM520 150h16v4h-16zM520 304h16v3h-16zM520 350h16v4h-16zM520 357h16v3h-16zM520 417h16v3h-16zM520 647h16v3h-16zM536 177h16v3h-16zM536 267h16v3h-16zM536 327h16v3h-16zM536 347h16v3h-16zM536 397h16v3h-16zM536 457h16v3h-16zM552 350h16v4h-16zM552 367h16v3h-16zM552 384h16v3h-16zM552 457h16v3h-16zM552 584h16v3h-16zM552 624h16v3h-16zM552 677h16v3h-16zM568 337h16v3h-16zM568 370h16v4h-16zM568 410h16v4h-16zM568 484h16v6h-16zM568 504h16v3h-16zM568 534h16v3h-16zM584 81h16v3h-16zM584 130h16v4h-16zM584 167h16v3h-16zM584 207h16v3h-16zM584 320h16v4h-16zM584 364h16v3h-16zM584 434h16v3h-16zM600 100h16v4h-16zM600 204h16v3h-16zM600 217h16v3h-16zM600 287h16v3h-16zM600 360h16v4h-16zM600 390h16v4h-16zM600 524h16v3h-16zM616 84h17v3h-17zM616 120h17v4h-17zM616 217h17v3h-17zM616 294h17v3h-17zM616 304h17v3h-17zM616 387h17v3h-17zM616 417h17v3h-17zM633 81h16v3h-16zM633 167h16v3h-16zM633 247h16v3h-16zM633 257h16v3h-16zM633 294h16v3h-16zM633 407h16v3h-16zM633 517h16v3h-16zM633 544h16v3h-16zM649 240h16v4h-16zM649 284h16v3h-16zM649 354h16v3h-16zM665 150h16v4h-16zM665 210h16v4h-16zM665 224h16v6h-16zM665 254h16v3h-16zM665 284h16v3h-16zM665 354h16v3h-16zM681 287h16v3h-16zM681 474h16v3h-16zM697 100h16v4h-16zM697 344h16v3h-16zM697 350h16v4h-16zM697 360h16v4h-16zM713 100h16v4h-16zM713 217h16v3h-16zM713 230h16v4h-16zM713 367h16v3h-16zM713 477h16v3h-16zM729 81h16v3h-16zM729 380h16v4h-16zM745 190h17v4h-17zM745 260h17v4h-17zM745 267h17v3h-17zM745 300h17v4h-17zM762 84h16v3h-16zM762 134h16v3h-16zM762 274h16v3h-16zM762 484h16v3h-16zM778 110h16v4h-16zM778 150h16v4h-16zM778 174h16v3h-16zM778 194h16v3h-16zM778 277h16v3h-16zM778 330h16v4h-16zM778 507h16v3h-16zM778 660h16v4h-16zM794 91h16v3h-16zM794 170h16v4h-16zM794 177h16v3h-16zM794 467h16v3h-16zM794 547h16v3h-16zM810 410h16v4h-16zM826 130h16v4h-16zM842 107h16v3h-16z"/><path fill="#008ad5" d="M133 437h16v3h-16zM149 100h16v4h-16zM149 204h16v3h-16zM165 147h16v3h-16zM165 414h16v3h-16zM181 174h16v3h-16zM197 547h16v3h-16zM213 81h16v3h-16zM213 144h16v3h-16zM229 127h17v3h-17zM229 267h17v3h-17zM229 350h17v4h-17zM229 397h17v3h-17zM229 540h17v4h-17zM246 87h16v4h-16zM246 290h16v4h-16zM262 120h16v4h-16zM262 164h16v3h-16zM262 230h16v4h-16zM262 314h16v3h-16zM278 94h16v3h-16zM278 187h16v3h-16zM278 450h16v4h-16zM294 477h16v3h-16zM310 150h16v4h-16zM310 210h16v4h-16zM310 410h16v4h-16zM326 117h16v3h-16zM326 140h16v4h-16zM326 180h16v4h-16zM326 230h16v4h-16zM342 214h16v3h-16zM342 444h16v3h-16zM342 467h16v3h-16zM358 137h17v3h-17zM358 214h17v3h-17zM358 314h17v3h-17zM358 380h17v4h-17zM358 484h17v3h-17zM358 510h17v4h-17zM358 554h17v3h-17zM375 134h16v3h-16zM375 234h16v3h-16zM375 360h16v4h-16zM391 210h16v4h-16zM391 530h16v4h-16zM391 547h16v3h-16zM407 114h16v3h-16zM407 207h16v3h-16zM407 334h16v3h-16zM407 507h16v3h-16zM407 577h16v3h-16zM423 174h16v3h-16zM423 267h16v3h-16zM423 277h16v3h-16zM423 447h16v3h-16zM423 597h16v3h-16zM439 217h16v3h-16zM439 224h16v3h-16zM439 294h16v3h-16zM439 507h16v3h-16zM439 550h16v4h-16zM455 104h16v3h-16zM455 130h16v4h-16zM455 347h16v7h-16zM455 387h16v3h-16zM471 97h16v3h-16zM471 137h16v3h-16zM471 150h16v4h-16zM471 227h16v3h-16zM471 347h16v3h-16zM471 380h16v4h-16zM471 504h16v3h-16zM487 220h17v4h-17zM487 270h17v4h-17zM487 417h17v3h-17zM487 470h17v4h-17zM487 477h17v3h-17zM487 607h17v3h-17zM504 360h16v4h-16zM504 380h16v4h-16zM504 387h16v3h-16zM520 91h16v9h-16zM520 157h16v3h-16zM520 200h16v4h-16zM520 224h16v3h-16zM520 307h16v3h-16zM536 167h16v3h-16zM536 577h16v3h-16zM552 267h16v3h-16zM552 294h16v6h-16zM552 310h16v4h-16zM552 337h16v3h-16zM552 374h16v6h-16zM552 474h16v3h-16zM568 154h16v3h-16zM568 327h16v3h-16zM568 357h16v3h-16zM568 394h16v3h-16zM584 210h16v4h-16zM584 500h16v4h-16zM600 134h16v3h-16zM600 154h16v3h-16zM600 234h16v3h-16zM600 324h16v3h-16zM600 614h16v3h-16zM616 134h17v3h-17zM616 214h17v3h-17zM616 257h17v3h-17zM616 474h17v3h-17zM616 517h17v3h-17zM633 144h16v3h-16zM633 157h16v3h-16zM633 324h16v3h-16zM649 167h16v3h-16zM649 254h16v3h-16zM649 264h16v3h-16zM649 430h16v4h-16zM649 460h16v4h-16zM665 97h16v3h-16zM665 300h16v4h-16zM665 380h16v4h-16zM665 420h16v4h-16zM681 290h16v4h-16zM681 320h16v4h-16zM681 407h16v3h-16zM697 254h16v3h-16zM697 284h16v3h-16zM697 634h16v3h-16zM713 137h16v3h-16zM713 404h16v3h-16zM729 137h16v3h-16zM729 144h16v3h-16zM729 454h16v3h-16zM729 497h16v3h-16zM729 587h16v3h-16zM762 137h16v3h-16zM778 200h16v4h-16zM794 124h16v3h-16zM794 250h16v4h-16zM794 354h16v3h-16zM842 437h16v7h-16z"/><path fill="#0096dd" d="M133 444h16v3h-16zM149 194h16v3h-16zM149 517h16v3h-16zM165 460h16v4h-16zM165 510h16v4h-16zM165 557h16v3h-16zM197 134h16v6h-16zM197 290h16v4h-16zM197 584h16v3h-16zM213 157h16v3h-16zM213 487h16v3h-16zM229 184h17v3h-17zM246 560h16v4h-16zM246 684h16v3h-16zM262 91h16v3h-16zM262 110h16v4h-16zM262 130h16v4h-16zM262 137h16v3h-16zM262 224h16v3h-16zM262 400h16v4h-16zM278 114h16v3h-16zM278 154h16v3h-16zM278 217h16v3h-16zM278 380h16v4h-16zM278 500h16v4h-16zM278 524h16v3h-16zM278 654h16v3h-16zM294 130h16v4h-16zM294 187h16v3h-16zM310 160h16v4h-16zM310 284h16v3h-16zM310 327h16v3h-16zM310 380h16v7h-16zM310 604h16v3h-16zM310 650h16v4h-16zM326 87h16v4h-16zM326 187h16v3h-16zM326 200h16v4h-16zM326 367h16v3h-16zM326 420h16v4h-16zM326 497h16v3h-16zM342 297h16v3h-16zM342 310h16v4h-16zM342 590h16v7h-16zM358 84h17v3h-17zM358 304h17v3h-17zM358 344h17v3h-17zM358 414h17v3h-17zM358 450h17v4h-17zM375 200h16v4h-16zM375 207h16v3h-16zM375 217h16v3h-16zM375 224h16v3h-16zM391 100h16v4h-16zM391 110h16v4h-16zM391 137h16v3h-16zM391 154h16v3h-16zM391 164h16v6h-16zM391 237h16v3h-16zM391 320h16v4h-16zM391 344h16v3h-16zM391 370h16v4h-16zM391 494h16v3h-16zM391 620h16v4h-16zM391 704h16v3h-16zM407 81h16v3h-16zM407 97h16v3h-16zM407 170h16v7h-16zM407 217h16v3h-16zM407 310h16v4h-16zM407 454h16v3h-16zM407 527h16v3h-16zM423 154h16v3h-16zM423 337h16v3h-16zM423 404h16v3h-16zM439 87h16v13h-16zM439 137h16v3h-16zM439 340h16v4h-16zM439 347h16v3h-16zM439 384h16v3h-16zM439 420h16v4h-16zM455 100h16v4h-16zM455 230h16v4h-16zM455 267h16v7h-16zM455 307h16v3h-16zM455 450h16v4h-16zM455 467h16v3h-16zM471 117h16v3h-16zM471 254h16v3h-16zM471 607h16v3h-16zM487 94h17v3h-17zM487 140h17v4h-17zM487 227h17v3h-17zM487 257h17v3h-17zM504 110h16v4h-16zM504 157h16v3h-16zM504 217h16v3h-16zM504 234h16v3h-16zM504 354h16v3h-16zM504 634h16v3h-16zM520 147h16v3h-16zM520 347h16v3h-16zM520 477h16v3h-16zM536 190h16v4h-16zM536 287h16v3h-16zM536 310h16v4h-16zM536 344h16v3h-16zM536 410h16v4h-16zM536 497h16v3h-16zM536 584h16v3h-16zM552 94h16v3h-16zM552 280h16v4h-16zM552 357h16v3h-16zM552 723h16v4h-16zM568 84h16v3h-16zM568 157h16v7h-16zM568 174h16v3h-16zM568 260h16v4h-16zM568 290h16v4h-16zM584 114h16v3h-16zM584 120h16v4h-16zM584 197h16v3h-16zM584 314h16v3h-16zM600 140h16v4h-16zM600 184h16v3h-16zM600 227h16v3h-16zM600 307h16v3h-16zM600 394h16v3h-16zM600 487h16v3h-16zM600 567h16v3h-16zM616 100h17v4h-17zM616 240h17v4h-17zM616 510h17v4h-17zM616 617h17v3h-17zM633 97h16v3h-16zM633 147h16v3h-16zM633 200h16v4h-16zM633 210h16v4h-16zM633 250h16v4h-16zM633 297h16v3h-16zM633 340h16v4h-16zM633 347h16v3h-16zM633 504h16v3h-16zM633 634h16v3h-16zM649 127h16v3h-16zM649 250h16v4h-16zM649 370h16v4h-16zM649 527h16v3h-16zM665 127h16v3h-16zM665 244h16v3h-16zM665 340h16v4h-16zM665 390h16v4h-16zM681 174h16v3h-16zM681 274h16v3h-16zM681 307h16v3h-16zM697 210h16v4h-16zM697 400h16v4h-16zM697 487h16v3h-16zM697 504h16v3h-16zM713 130h16v4h-16zM713 257h16v3h-16zM729 227h16v3h-16zM729 270h16v4h-16zM729 474h16v3h-16zM745 140h17v4h-17zM745 184h17v3h-17zM745 207h17v3h-17zM745 317h17v3h-17zM745 437h17v3h-17zM762 94h16v3h-16zM762 350h16v4h-16zM762 400h16v4h-16zM778 81h16v3h-16zM778 354h16v3h-16zM778 544h16v3h-16zM794 100h16v4h-16zM794 244h16v6h-16zM794 357h16v3h-16zM810 250h16v4h-16zM810 407h16v3h-16zM810 414h16v3h-16zM826 147h16v3h-16zM842 104h16v3h-16zM858 400h16v4h-16z"/><path fill="#005ebb" d="M149 94h16v3h-16zM149 514h16v3h-16zM165 277h16v3h-16zM181 104h16v3h-16zM229 104h17v3h-17zM229 420h17v4h-17zM246 180h16v4h-16zM246 610h16v4h-16zM262 464h16v3h-16zM278 247h16v3h-16zM310 204h16v3h-16zM326 264h16v3h-16zM326 344h16v3h-16zM326 644h16v3h-16zM342 124h16v3h-16zM342 190h16v4h-16zM375 277h16v3h-16zM375 384h16v3h-16zM375 427h16v3h-16zM391 107h16v3h-16zM391 454h16v3h-16zM407 144h16v3h-16zM407 337h16v3h-16zM423 114h16v3h-16zM439 244h16v3h-16zM439 470h16v4h-16zM439 690h16v4h-16zM455 84h16v3h-16zM455 107h16v3h-16zM455 204h16v3h-16zM471 160h16v4h-16zM471 174h16v3h-16zM487 91h17v3h-17zM504 174h16v3h-16zM504 317h16v3h-16zM520 130h16v4h-16zM520 494h16v3h-16zM536 134h16v3h-16zM552 114h16v3h-16zM552 120h16v4h-16zM552 324h16v3h-16zM552 597h16v3h-16zM568 114h16v3h-16zM584 400h16v4h-16zM600 144h16v3h-16zM600 637h16v3h-16zM616 160h17v4h-17zM616 370h17v4h-17zM616 590h17v4h-17zM633 87h16v4h-16zM633 467h16v3h-16zM633 697h16v3h-16zM697 187h16v3h-16zM697 454h16v3h-16zM713 190h16v4h-16zM713 204h16v3h-16zM713 277h16v3h-16zM762 197h16v3h-16z"/><path fill="#0071c6" d="M149 267h16v3h-16zM165 94h16v3h-16zM165 234h16v3h-16zM213 397h16v3h-16zM229 467h17v3h-17zM246 110h16v4h-16zM246 310h16v4h-16zM246 410h16v4h-16zM262 150h16v4h-16zM262 297h16v3h-16zM262 310h16v4h-16zM262 480h16v4h-16zM278 487h16v3h-16zM294 170h16v4h-16zM294 374h16v3h-16zM310 217h16v3h-16zM310 314h16v3h-16zM310 454h16v3h-16zM326 167h16v3h-16zM326 384h16v3h-16zM342 287h16v3h-16zM342 330h16v4h-16zM342 404h16v3h-16zM358 257h17v3h-17zM375 324h16v3h-16zM375 374h16v3h-16zM375 487h16v3h-16zM375 637h16v3h-16zM391 91h16v3h-16zM391 360h16v4h-16zM391 384h16v3h-16zM391 524h16v3h-16zM391 644h16v3h-16zM407 130h16v4h-16zM407 254h16v3h-16zM407 404h16v3h-16zM423 157h16v3h-16zM423 207h16v3h-16zM423 260h16v4h-16zM423 297h16v3h-16zM439 140h16v4h-16zM439 197h16v3h-16zM439 260h16v4h-16zM439 344h16v3h-16zM439 437h16v3h-16zM455 144h16v3h-16zM455 187h16v3h-16zM455 304h16v3h-16zM455 330h16v4h-16zM455 444h16v3h-16zM455 477h16v3h-16zM471 167h16v3h-16zM487 410h17v4h-17zM504 81h16v3h-16zM504 270h16v4h-16zM520 377h16v3h-16zM536 127h16v3h-16zM536 404h16v3h-16zM552 304h16v3h-16zM568 640h16v4h-16zM584 91h16v3h-16zM584 274h16v3h-16zM584 284h16v3h-16zM600 124h16v3h-16zM600 590h16v4h-16zM616 107h17v3h-17zM616 260h17v4h-17zM616 440h17v4h-17zM633 260h16v4h-16zM633 274h16v3h-16zM633 284h16v3h-16zM633 494h16v3h-16zM633 557h16v3h-16zM665 120h16v4h-16zM665 570h16v4h-16zM697 137h16v3h-16zM697 524h16v3h-16zM729 167h16v3h-16zM745 280h17v4h-17zM745 510h17v4h-17zM778 230h16v4h-16zM778 250h16v4h-16zM778 350h16v4h-16zM778 414h16v3h-16zM794 194h16v3h-16zM810 144h16v3h-16zM826 100h16v4h-16zM826 264h16v3h-16zM858 414h16v3h-16z"/><path fill="#009ce1" d="M149 270h16v4h-16zM149 327h16v3h-16zM165 174h16v3h-16zM165 224h16v3h-16zM181 110h16v4h-16zM181 170h16v4h-16zM181 247h16v3h-16zM197 210h16v4h-16zM197 580h16v4h-16zM213 100h16v4h-16zM213 207h16v3h-16zM213 430h16v4h-16zM213 670h16v4h-16zM229 157h17v3h-17zM246 127h16v7h-16zM246 314h16v3h-16zM246 434h16v3h-16zM246 454h16v3h-16zM246 534h16v3h-16zM262 114h16v3h-16zM262 127h16v3h-16zM262 154h16v3h-16zM262 184h16v3h-16zM262 190h16v4h-16zM278 254h16v3h-16zM278 334h16v3h-16zM278 417h16v3h-16zM278 610h16v4h-16zM294 110h16v4h-16zM294 127h16v3h-16zM294 184h16v3h-16zM294 397h16v3h-16zM294 454h16v3h-16zM294 507h16v3h-16zM310 214h16v3h-16zM310 224h16v3h-16zM310 244h16v3h-16zM310 510h16v4h-16zM310 520h16v4h-16zM310 554h16v3h-16zM326 154h16v3h-16zM326 254h16v3h-16zM326 394h16v3h-16zM326 447h16v3h-16zM326 487h16v3h-16zM326 510h16v4h-16zM326 527h16v3h-16zM342 134h16v3h-16zM342 544h16v3h-16zM342 557h16v3h-16zM342 697h16v3h-16zM358 177h17v3h-17zM358 224h17v3h-17zM358 250h17v4h-17zM358 274h17v3h-17zM358 360h17v4h-17zM358 487h17v3h-17zM358 507h17v3h-17zM358 567h17v3h-17zM358 594h17v3h-17zM358 700h17v4h-17zM375 100h16v4h-16zM375 127h16v3h-16zM375 194h16v3h-16zM375 244h16v3h-16zM375 254h16v3h-16zM375 357h16v3h-16zM375 390h16v4h-16zM375 497h16v3h-16zM375 624h16v3h-16zM391 354h16v3h-16zM391 417h16v3h-16zM407 120h16v7h-16zM407 154h16v3h-16zM407 214h16v3h-16zM407 244h16v3h-16zM407 400h16v4h-16zM407 440h16v4h-16zM423 84h16v3h-16zM423 144h16v3h-16zM423 197h16v3h-16zM423 310h16v4h-16zM423 320h16v4h-16zM423 420h16v4h-16zM423 530h16v4h-16zM439 124h16v3h-16zM439 184h16v3h-16zM439 207h16v3h-16zM439 240h16v4h-16zM439 300h16v4h-16zM439 514h16v3h-16zM439 590h16v4h-16zM439 604h16v3h-16zM455 140h16v4h-16zM455 160h16v7h-16zM455 184h16v3h-16zM455 224h16v3h-16zM455 237h16v3h-16zM455 274h16v3h-16zM471 100h16v4h-16zM471 157h16v3h-16zM471 190h16v4h-16zM471 537h16v3h-16zM487 110h17v4h-17zM487 147h17v3h-17zM487 177h17v3h-17zM487 234h17v3h-17zM487 290h17v4h-17zM487 404h17v3h-17zM487 537h17v3h-17zM487 664h17v3h-17zM504 97h16v3h-16zM504 104h16v3h-16zM504 210h16v4h-16zM504 227h16v3h-16zM504 297h16v3h-16zM504 324h16v3h-16zM504 504h16v3h-16zM504 544h16v3h-16zM520 234h16v3h-16zM520 297h16v3h-16zM520 314h16v6h-16zM520 337h16v3h-16zM520 370h16v4h-16zM536 140h16v4h-16zM536 314h16v6h-16zM536 350h16v4h-16zM552 130h16v4h-16zM552 214h16v3h-16zM552 394h16v3h-16zM552 510h16v4h-16zM552 564h16v3h-16zM568 177h16v3h-16zM568 237h16v3h-16zM568 270h16v4h-16zM568 300h16v4h-16zM568 380h16v4h-16zM568 430h16v4h-16zM568 440h16v4h-16zM568 480h16v4h-16zM568 607h16v3h-16zM584 154h16v3h-16zM584 254h16v3h-16zM584 297h16v3h-16zM584 374h16v3h-16zM584 577h16v3h-16zM600 150h16v4h-16zM600 157h16v3h-16zM600 200h16v4h-16zM600 320h16v4h-16zM600 427h16v3h-16zM616 124h17v3h-17zM616 310h17v4h-17zM616 344h17v3h-17zM616 427h17v3h-17zM633 100h16v4h-16zM633 154h16v3h-16zM633 190h16v4h-16zM633 417h16v3h-16zM649 81h16v3h-16zM649 140h16v4h-16zM649 237h16v3h-16zM649 294h16v3h-16zM649 510h16v4h-16zM649 540h16v4h-16zM665 107h16v3h-16zM665 134h16v3h-16zM665 200h16v4h-16zM665 454h16v3h-16zM681 81h16v3h-16zM681 127h16v3h-16zM681 277h16v3h-16zM681 537h16v3h-16zM697 94h16v3h-16zM697 237h16v3h-16zM697 287h16v3h-16zM697 397h16v3h-16zM697 577h16v3h-16zM713 187h16v3h-16zM713 240h16v4h-16zM713 294h16v3h-16zM729 87h16v4h-16zM729 150h16v4h-16zM729 284h16v6h-16zM729 347h16v3h-16zM729 537h16v3h-16zM745 84h17v3h-17zM745 137h17v3h-17zM745 187h17v3h-17zM745 234h17v3h-17zM745 434h17v3h-17zM745 467h17v3h-17zM745 514h17v3h-17zM762 81h16v3h-16zM762 114h16v3h-16zM762 157h16v3h-16zM762 194h16v3h-16zM762 220h16v4h-16zM762 314h16v3h-16zM778 130h16v4h-16zM778 407h16v7h-16zM794 104h16v3h-16zM794 314h16v3h-16zM794 377h16v3h-16zM794 434h16v3h-16zM810 100h16v4h-16zM810 187h16v3h-16z"/><path fill="#001991" d="M149 330h16v4h-16zM375 114h16v3h-16zM471 180h16v4h-16zM697 320h16v4h-16z"/><path fill="#006ac2" d="M149 597h16v3h-16zM165 407h16v3h-16zM181 314h16v3h-16zM197 110h16v4h-16zM197 130h16v4h-16zM197 150h16v4h-16zM197 414h16v3h-16zM213 190h16v4h-16zM213 197h16v3h-16zM213 347h16v3h-16zM213 514h16v3h-16zM229 187h17v3h-17zM246 124h16v3h-16zM246 227h16v3h-16zM246 324h16v3h-16zM246 450h16v4h-16zM278 140h16v4h-16zM294 117h16v3h-16zM294 160h16v4h-16zM294 220h16v4h-16zM294 354h16v3h-16zM294 537h16v3h-16zM310 540h16v4h-16zM326 227h16v3h-16zM326 544h16v3h-16zM342 107h16v3h-16zM342 274h16v3h-16zM342 430h16v4h-16zM358 107h17v3h-17zM358 150h17v4h-17zM358 474h17v3h-17zM358 544h17v3h-17zM375 107h16v3h-16zM375 184h16v3h-16zM391 147h16v3h-16zM391 394h16v3h-16zM407 260h16v4h-16zM407 357h16v3h-16zM439 147h16v3h-16zM439 160h16v4h-16zM439 167h16v3h-16zM439 524h16v3h-16zM455 217h16v3h-16zM455 257h16v3h-16zM455 404h16v3h-16zM471 280h16v4h-16zM471 480h16v4h-16zM487 120h17v4h-17zM487 204h17v3h-17zM487 294h17v3h-17zM487 337h17v3h-17zM487 440h17v4h-17zM487 590h17v4h-17zM504 274h16v3h-16zM504 304h16v3h-16zM504 367h16v3h-16zM520 164h16v3h-16zM520 180h16v4h-16zM520 190h16v4h-16zM520 257h16v3h-16zM520 330h16v4h-16zM520 704h16v3h-16zM536 660h16v4h-16zM552 437h16v3h-16zM568 120h16v4h-16zM584 237h16v3h-16zM584 600h16v4h-16zM600 300h16v4h-16zM600 480h16v4h-16zM616 150h17v4h-17zM616 487h17v3h-17zM633 194h16v3h-16zM633 237h16v3h-16zM633 430h16v4h-16zM649 344h16v3h-16zM649 487h16v3h-16zM681 84h16v3h-16zM681 190h16v4h-16zM681 447h16v3h-16zM697 264h16v3h-16zM697 404h16v3h-16zM697 420h16v4h-16zM697 520h16v4h-16zM697 654h16v3h-16zM713 97h16v3h-16zM729 114h16v3h-16zM729 267h16v3h-16zM729 327h16v3h-16zM729 410h16v4h-16zM745 104h17v3h-17zM762 244h16v3h-16zM762 347h16v3h-16zM762 487h16v3h-16zM810 627h16v3h-16z"/><path fill="#002c9d" d="M213 117h16v3h-16zM439 250h16v4h-16zM536 550h16v4h-16zM616 97h17v3h-17zM745 420h17v4h-17z"/><path fill="#0051b3" d="M229 327h17v3h-17zM278 404h16v3h-16zM294 494h16v3h-16zM326 91h16v3h-16zM375 81h16v3h-16zM391 234h16v3h-16zM423 200h16v4h-16zM439 497h16v3h-16zM455 370h16v4h-16zM455 577h16v3h-16zM471 91h16v3h-16zM471 220h16v4h-16zM471 250h16v4h-16zM487 114h17v3h-17zM487 250h17v4h-17zM487 554h17v3h-17zM520 404h16v3h-16zM536 160h16v4h-16zM536 524h16v3h-16zM552 164h16v3h-16zM600 384h16v3h-16zM600 447h16v3h-16zM616 327h17v3h-17zM616 337h17v3h-17zM633 204h16v3h-16zM665 190h16v4h-16zM713 350h16v4h-16zM729 94h16v3h-16zM729 224h16v3h-16zM762 514h16v3h-16zM778 290h16v4h-16z"/><path fill="#002699" d="M246 94h16v3h-16zM278 174h16v3h-16zM504 264h16v3h-16z"/><path fill="#000082" d="M262 204h16v3h-16z"/><path fill="#0045ac" d="M262 387h16v3h-16zM310 137h16v3h-16zM358 260h17v4h-17zM375 174h16v3h-16zM439 557h16v3h-16zM487 207h17v3h-17zM504 474h16v3h-16zM552 207h16v3h-16zM616 177h17v3h-17zM665 440h16v4h-16zM681 160h16v4h-16zM697 247h16v3h-16zM729 210h16v4h-16zM729 564h16v3h-16zM826 450h16v4h-16z"/><path fill="#000d8a" d="M294 264h16v3h-16z"/><path fill="#003fa8" d="M310 84h16v3h-16zM342 147h16v3h-16zM375 227h16v3h-16zM375 590h16v4h-16zM407 227h16v3h-16zM471 334h16v3h-16zM487 330h17v4h-17zM487 577h17v3h-17zM487 624h17v3h-17zM568 190h16v4h-16zM616 350h17v4h-17zM681 114h16v3h-16zM697 190h16v4h-16zM713 150h16v4h-16zM729 450h16v4h-16zM794 107h16v3h-16zM826 260h16v4h-16z"/><path fill="#0032a0" d="M342 87h16v4h-16zM391 227h16v3h-16zM423 467h16v3h-16zM455 210h16v4h-16zM520 500h16v4h-16z"/><path fill="#990a00" d="M375 727h16v3h-16z"/><path fill="#8a0300" d="M471 730h16v3h-16zM487 730h17v3h-17zM504 730h16v3h-16z"/><path fill="#0038a4" d="M487 164h17v3h-17zM487 287h17v3h-17zM504 167h16v3h-16zM520 210h16v4h-16zM584 384h16v3h-16zM633 394h16v3h-16zM681 494h16v3h-16z"/><path fill="#001f95" d="M504 250h16v4h-16zM520 124h16v3h-16zM633 357h16v3h-16z"/>
<path fill="#000082" d="M896 727h45v7h-45z"/><path fill="#000686" d="M896 721h45v6h-45z"/><path fill="#000d8a" d="M896 714h45v7h-45z"/><path fill="#00138d" d="M896 708h45v6h-45z"/><path fill="#001991" d="M896 701h45v7h-45z"/><path fill="#001f95" d="M896 694h45v7h-45z"/><path fill="#002699" d="M896 688h45v6h-45z"/><path fill="#002c9d" d="M896 681h45v7h-45z"/><path fill="#0032a0" d="M896 675h45v6h-45z"/><path fill="#0038a4" d="M896 668h45v7h-45z"/><path fill="#003fa8" d="M896 661h45v7h-45z"/><path fill="#0045ac" d="M896 655h45v6h-45z"/><path fill="#004baf" d="M896 648h45v7h-45z"/><path fill="#0051b3" d="M896 642h45v6h-45z"/><path fill="#0058b7" d="M896 635h45v7h-45z"/><path fill="#005ebb" d="M896 628h45v7h-45z"/><path fill="#0064bf" d="M896 622h45v6h-45z"/><path fill="#006ac2" d="M896 615h45v7h-45z"/><path fill="#0071c6" d="M896 609h45v6h-45z"/><path fill="#0077ca" d="M896 602h45v7h-45z"/><path fill="#007dce" d="M896 595h45v7h-45z"/><path fill="#0083d2" d="M896 589h45v6h-45z"/><path fill="#008ad5" d="M896 582h45v7h-45z"/><path fill="#0090d9" d="M896 576h45v6h-45z"/><path fill="#0096dd" d="M896 569h45v7h-45z"/><path fill="#009ce1" d="M896 562h45v7h-45z"/><path fill="#00a3e4" d="M896 556h45v6h-45z"/><path fill="#00a9e8" d="M896 549h45v7h-45z"/><path fill="#00afec" d="M896 542h45v7h-45z"/><path fill="#00b6f0" d="M896 536h45v6h-45z"/><path fill="#00bcf4" d="M896 529h45v7h-45z"/><path fill="#00c2f7" d="M896 523h45v6h-45z"/><path fill="#00c8fb" d="M896 516h45v7h-45z"/><path fill="#00cfff" d="M896 509h45v7h-45z"/><path fill="#08d0f7" d="M896 503h45v6h-45z"/><path fill="#10d2ee" d="M896 496h45v7h-45z"/><path fill="#19d4e6" d="M896 490h45v6h-45z"/><path fill="#21d6de" d="M896 483h45v7h-45z"/><path fill="#29d8d5" d="M896 476h45v7h-45z"/><path fill="#31d9cd" d="M896 470h45v6h-45z"/><path fill="#3adbc5" d="M896 463h45v7h-45z"/><path fill="#42ddbd" d="M896 457h45v6h-45z"/><path fill="#4adfb4" d="M896 450h45v7h-45z"/><path fill="#52e0ac" d="M896 443h45v7h-45z"/><path fill="#5ae2a4" d="M896 437h45v6h-45z"/><path fill="#63e49b" d="M896 430h45v7h-45z"/><path fill="#6be693" d="M896 424h45v6h-45z"/><path fill="#73e88b" d="M896 417h45v7h-45z"/><path fill="#7be982" d="M896 410h45v7h-45z"/><path fill="#83eb7a" d="M896 404h45v6h-45z"/><path fill="#8ced72" d="M896 397h45v7h-45z"/><path fill="#94ef69" d="M896 391h45v6h-45z"/><path fill="#9cf161" d="M896 384h45v7h-45z"/><path fill="#a4f259" d="M896 377h45v7h-45z"/><path fill="#adf450" d="M896 371h45v6h-45z"/><path fill="#b5f648" d="M896 364h45v7h-45z"/><path fill="#bdf840" d="M896 357h45v7h-45z"/><path fill="#c5fa38" d="M896 351h45v6h-45z"/><path fill="#cdfb2f" d="M896 344h45v7h-45z"/><path fill="#d6fd27" d="M896 338h45v6h-45z"/><path fill="#deff1f" d="M896 331h45v7h-45z"/><path fill="#dff61d" d="M896 324h45v7h-45z"/><path fill="#e1ed1c" d="M896 318h45v6h-45z"/><path fill="#e2e41b" d="M896 311h45v7h-45z"/><path fill="#e4dc19" d="M896 305h45v6h-45z"/><path fill="#e5d318" d="M896 298h45v7h-45z"/><path fill="#e6ca17" d="M896 291h45v7h-45z"/><path fill="#e8c115" d="M896 285h45v6h-45z"/><path fill="#e9b814" d="M896 278h45v7h-45z"/><path fill="#ebaf13" d="M896 272h45v6h-45z"/><path fill="#eca611" d="M896 265h45v7h-45z"/><path fill="#ee9d10" d="M896 258h45v7h-45z"/><path fill="#ef950f" d="M896 252h45v6h-45z"/><path fill="#f18c0d" d="M896 245h45v7h-45z"/><path fill="#f2830c" d="M896 239h45v6h-45z"/><path fill="#f37a0b" d="M896 232h45v7h-45z"/><path fill="#f57109" d="M896 225h45v7h-45z"/><path fill="#f66808" d="M896 219h45v6h-45z"/><path fill="#f85f07" d="M896 212h45v7h-45z"/><path fill="#f95605" d="M896 206h45v6h-45z"/><path fill="#fb4e04" d="M896 199h45v7h-45z"/><path fill="#fc4503" d="M896 192h45v7h-45z"/><path fill="#fe3c01" d="M896 186h45v6h-45z"/><path fill="#ff3300" d="M896 179h45v7h-45z"/><path fill="#f73000" d="M896 172h45v7h-45z"/><path fill="#ef2d00" d="M896 166h45v6h-45z"/><path fill="#e82900" d="M896 159h45v7h-45z"/><path fill="#e02600" d="M896 153h45v6h-45z"/><path fill="#d82300" d="M896 146h45v7h-45z"/><path fill="#d02000" d="M896 139h45v7h-45z"/><path fill="#c81d00" d="M896 133h45v6h-45z"/><path fill="#c11a00" d="M896 126h45v7h-45z"/><path fill="#b91600" d="M896 120h45v6h-45z"/><path fill="#b11300" d="M896 113h45v7h-45z"/><path fill="#a91000" d="M896 106h45v7h-45z"/><path fill="#a10d00" d="M896 100h45v6h-45z"/><path fill="#990a00" d="M896 93h45v7h-45z"/><path fill="#920600" d="M896 87h45v6h-45z"/><path fill="#8a0300" d="M896 81h45v6h-45z"/>
<path d="M101 733.5h13M101 717.5h13M101 700.5h13M101 684.5h25M101 667.5h13M101 650.5h13M101 634.5h13M101 617.5h25M101 600.5h13M101 584.5h13M101 567.5h13M101 550.5h25M101 534.5h13M101 517.5h13M101 500.5h13M101 484.5h25M101 467.5h13M101 450.5h13M101 434.5h13M101 417.5h25M101 400.5h13M101 384.5h13M101 367.5h13M101 350.5h25M101 334.5h13M101 317.5h13M101 300.5h13M101 284.5h25M101 267.5h13M101 250.5h13M101 234.5h13M101 217.5h25M101 200.5h13M101 184.5h13M101 167.5h13M101 150.5h25M101 134.5h13M101 117.5h13M101 100.5h13M101 84.5h25M109.5 733v-9M125.5 733v-9M141.5 733v-9M157.5 733v-9M173.5 733v-19M189.5 733v-9M205.5 733v-9M221.5 733v-9M238.5 733v-9M254.5 733v-19M270.5 733v-9M286.5 733v-9M302.5 733v-9M318.5 733v-9M334.5 733v-19M350.5 733v-9M366.5 733v-9M383.5 733v-9M399.5 733v-9M415.5 733v-19M431.5 733v-9M447.5 733v-9M463.5 733v-9M479.5 733v-9M495.5 733v-19M512.5 733v-9M528.5 733v-9M544.5 733v-9M560.5 733v-9M576.5 733v-19M592.5 733v-9M608.5 733v-9M624.5 733v-9M641.5 733v-9M657.5 733v-19M673.5 733v-9M689.5 733v-9M705.5 733v-9M721.5 733v-9M737.5 733v-19M753.5 733v-9M769.5 733v-9M786.5 733v-9M802.5 733v-9M818.5 733v-19M834.5 733v-9M850.5 733v-9M866.5 733v-9M882.5 733v-9M941 640.5h-24M941 528.5h-24M941 416.5h-24M941 304.5h-24M941 192.5h-24M941 80.5h-24" stroke="#000" stroke-width="1" fill="none"/>
<path d="M99 80h1v656h-1z M99 735h794v1h-794z M892 80h1v656h-1z M101 80h790v1h-790z M895 80h1v655h-1z M895 80h22v1h-22z M895 734h47v1h-47z M942 80h1v655h-1z" fill="#fff"/>
<rect x="100" y="81" width="1" height="654" fill="#000"/>
<rect x="891" y="81" width="1" height="654" fill="#000"/>
<rect x="100" y="733" width="792" height="2" fill="#000"/>
<rect x="941" y="80" width="1" height="654" fill="#000"/>
</svg>
<div id="title">coverage clopper pearson interval for confidence level 0.95</div>
<div class="yl" style="top:669.70px">20</div><div class="yl" style="top:602.70px">40</div><div class="yl" style="top:535.70px">60</div><div class="yl" style="top:469.70px">80</div><div class="yl" style="top:402.70px"><span class="one"><svg width="17" height="21" viewBox="0 -21 17 21"><path d="M12.05 -20.3V0H7.95V-13.4Q5.55 -11.9 2.05 -11.5V-14.9Q6.55 -16.5 8.25 -20.3Z"/></svg></span>00</div><div class="yl" style="top:335.70px"><span class="one"><svg width="17" height="21" viewBox="0 -21 17 21"><path d="M12.05 -20.3V0H7.95V-13.4Q5.55 -11.9 2.05 -11.5V-14.9Q6.55 -16.5 8.25 -20.3Z"/></svg></span>20</div><div class="yl" style="top:269.70px"><span class="one"><svg width="17" height="21" viewBox="0 -21 17 21"><path d="M12.05 -20.3V0H7.95V-13.4Q5.55 -11.9 2.05 -11.5V-14.9Q6.55 -16.5 8.25 -20.3Z"/></svg></span>40</div><div class="yl" style="top:202.70px"><span class="one"><svg width="17" height="21" viewBox="0 -21 17 21"><path d="M12.05 -20.3V0H7.95V-13.4Q5.55 -11.9 2.05 -11.5V-14.9Q6.55 -16.5 8.25 -20.3Z"/></svg></span>60</div><div class="yl" style="top:135.70px"><span class="one"><svg width="17" height="21" viewBox="0 -21 17 21"><path d="M12.05 -20.3V0H7.95V-13.4Q5.55 -11.9 2.05 -11.5V-14.9Q6.55 -16.5 8.25 -20.3Z"/></svg></span>80</div><div class="yl" style="top:69.70px">200</div><div class="xl" style="left:123.50px"><span class="one"><svg width="17" height="21" viewBox="0 -21 17 21"><path d="M12.05 -20.3V0H7.95V-13.4Q5.55 -11.9 2.05 -11.5V-14.9Q6.55 -16.5 8.25 -20.3Z"/></svg></span>0</div><div class="xl" style="left:204.50px">20</div><div class="xl" style="left:284.50px">30</div><div class="xl" style="left:365.50px">40</div><div class="xl" style="left:445.50px">50</div><div class="xl" style="left:526.50px">60</div><div class="xl" style="left:607.50px">70</div><div class="xl" style="left:687.50px">80</div><div class="xl" style="left:768.50px">90</div><div class="zl" style="top:625.70px">0.95</div><div class="zl" style="top:513.70px">0.96</div><div class="zl" style="top:401.70px">0.97</div><div class="zl" style="top:289.70px">0.98</div><div class="zl" style="top:177.70px">0.99</div><div class="zl" style="top:67.50px"><span class="one"><svg width="17" height="21" viewBox="0 -21 17 21"><path d="M12.05 -20.3V0H7.95V-13.4Q5.55 -11.9 2.05 -11.5V-14.9Q6.55 -16.5 8.25 -20.3Z"/></svg></span></div>
<div id="xtitle">eff [%]</div>
<div id="ntitle">N</div>
</body></html>
